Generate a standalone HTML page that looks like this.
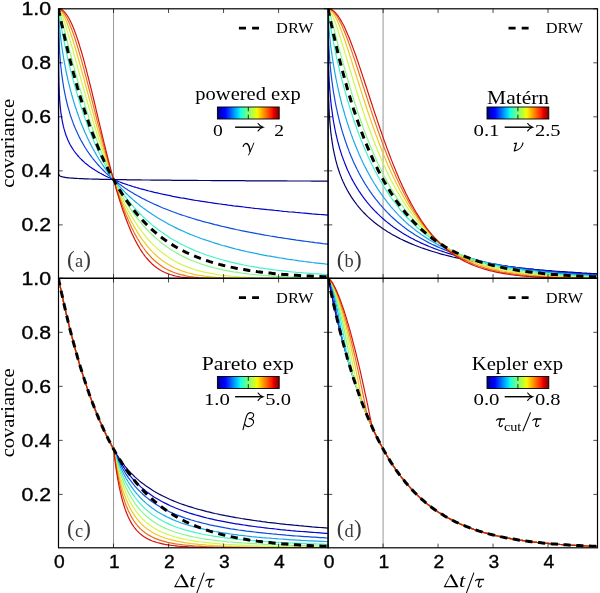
<!DOCTYPE html>
<html><head><meta charset="utf-8"><title>Covariance functions</title>
<style>html,body{margin:0;padding:0;background:#fff;}body{width:600px;height:593px;overflow:hidden;font-family:"Liberation Sans",sans-serif;}svg{display:block;will-change:transform;transform:translateZ(0);}</style>
</head><body>
<svg width="600" height="593" viewBox="0 0 600 593">
<rect width="600" height="593" fill="#fff"/>
<defs><linearGradient id="jet" x1="0" x2="1" y1="0" y2="0">
<stop offset="0.0000" stop-color="#000080"/>
<stop offset="0.0156" stop-color="#000092"/>
<stop offset="0.0312" stop-color="#0000a4"/>
<stop offset="0.0469" stop-color="#0000b6"/>
<stop offset="0.0625" stop-color="#0000c8"/>
<stop offset="0.0781" stop-color="#0000da"/>
<stop offset="0.0938" stop-color="#0000ed"/>
<stop offset="0.1094" stop-color="#0000ff"/>
<stop offset="0.1250" stop-color="#0000ff"/>
<stop offset="0.1406" stop-color="#0010ff"/>
<stop offset="0.1562" stop-color="#0020ff"/>
<stop offset="0.1719" stop-color="#0030ff"/>
<stop offset="0.1875" stop-color="#0040ff"/>
<stop offset="0.2031" stop-color="#0050ff"/>
<stop offset="0.2188" stop-color="#0060ff"/>
<stop offset="0.2344" stop-color="#0070ff"/>
<stop offset="0.2500" stop-color="#0080ff"/>
<stop offset="0.2656" stop-color="#0090ff"/>
<stop offset="0.2812" stop-color="#00a0ff"/>
<stop offset="0.2969" stop-color="#00b0ff"/>
<stop offset="0.3125" stop-color="#00c0ff"/>
<stop offset="0.3281" stop-color="#00d0ff"/>
<stop offset="0.3438" stop-color="#00e0fb"/>
<stop offset="0.3594" stop-color="#09f0ee"/>
<stop offset="0.3750" stop-color="#16ffe1"/>
<stop offset="0.3906" stop-color="#23ffd4"/>
<stop offset="0.4062" stop-color="#30ffc7"/>
<stop offset="0.4219" stop-color="#3cffba"/>
<stop offset="0.4375" stop-color="#49ffad"/>
<stop offset="0.4531" stop-color="#56ffa0"/>
<stop offset="0.4688" stop-color="#63ff94"/>
<stop offset="0.4844" stop-color="#70ff87"/>
<stop offset="0.5000" stop-color="#7dff7a"/>
<stop offset="0.5156" stop-color="#8aff6d"/>
<stop offset="0.5312" stop-color="#97ff60"/>
<stop offset="0.5469" stop-color="#a4ff53"/>
<stop offset="0.5625" stop-color="#b1ff46"/>
<stop offset="0.5781" stop-color="#beff39"/>
<stop offset="0.5938" stop-color="#caff2c"/>
<stop offset="0.6094" stop-color="#d7ff1f"/>
<stop offset="0.6250" stop-color="#e4ff13"/>
<stop offset="0.6406" stop-color="#f1fc06"/>
<stop offset="0.6562" stop-color="#feed00"/>
<stop offset="0.6719" stop-color="#ffde00"/>
<stop offset="0.6875" stop-color="#ffd000"/>
<stop offset="0.7031" stop-color="#ffc100"/>
<stop offset="0.7188" stop-color="#ffb200"/>
<stop offset="0.7344" stop-color="#ffa300"/>
<stop offset="0.7500" stop-color="#ff9400"/>
<stop offset="0.7656" stop-color="#ff8600"/>
<stop offset="0.7812" stop-color="#ff7700"/>
<stop offset="0.7969" stop-color="#ff6800"/>
<stop offset="0.8125" stop-color="#ff5900"/>
<stop offset="0.8281" stop-color="#ff4a00"/>
<stop offset="0.8438" stop-color="#ff3b00"/>
<stop offset="0.8594" stop-color="#ff2d00"/>
<stop offset="0.8750" stop-color="#ff1e00"/>
<stop offset="0.8906" stop-color="#fa0f00"/>
<stop offset="0.9062" stop-color="#e80000"/>
<stop offset="0.9219" stop-color="#d60000"/>
<stop offset="0.9375" stop-color="#c40000"/>
<stop offset="0.9531" stop-color="#b20000"/>
<stop offset="0.9688" stop-color="#9f0000"/>
<stop offset="0.9844" stop-color="#8d0000"/>
<stop offset="1.0000" stop-color="#800000"/>
</linearGradient>
<clipPath id="cpa"><rect x="58.50" y="8.80" width="269.60" height="269.50"/></clipPath>
<clipPath id="cpb"><rect x="328.10" y="8.80" width="269.40" height="269.50"/></clipPath>
<clipPath id="cpc"><rect x="58.50" y="278.30" width="269.60" height="269.50"/></clipPath>
<clipPath id="cpd"><rect x="328.10" y="278.30" width="269.40" height="269.50"/></clipPath>
</defs>
<g clip-path="url(#cpa)" fill="none" stroke-linejoin="round">
<line x1="113.52" x2="113.52" y1="8.80" y2="278.30" stroke="#858585" stroke-width="0.85"/>
<path d="M58.5,8.8 L58.6,173.6 L58.8,174.3 L58.9,174.7 L59.1,175.0 L59.2,175.2 L59.3,175.4 L59.5,175.5 L59.6,175.6 L59.7,175.8 L59.9,175.9 L60.0,176.0 L60.2,176.1 L60.3,176.1 L60.4,176.2 L60.6,176.3 L60.7,176.3 L60.8,176.4 L61.0,176.5 L61.1,176.5 L61.3,176.6 L61.4,176.6 L61.5,176.7 L61.7,176.7 L61.8,176.7 L62.9,177.0 L63.4,177.1 L63.9,177.2 L65.0,177.4 L66.0,177.6 L67.1,177.7 L68.1,177.8 L68.3,177.8 L69.2,177.9 L70.2,178.0 L71.3,178.1 L72.4,178.2 L73.2,178.2 L73.4,178.2 L74.5,178.3 L75.5,178.4 L76.6,178.4 L77.6,178.5 L78.1,178.5 L78.7,178.5 L79.7,178.6 L80.8,178.6 L81.9,178.7 L82.9,178.7 L83.0,178.7 L84.0,178.8 L85.0,178.8 L86.1,178.8 L87.1,178.9 L87.8,178.9 L88.2,178.9 L89.2,179.0 L90.3,179.0 L91.4,179.0 L92.4,179.1 L92.7,179.1 L93.5,179.1 L94.5,179.1 L95.6,179.1 L96.6,179.2 L97.6,179.2 L97.7,179.2 L98.7,179.2 L99.8,179.3 L100.9,179.3 L101.9,179.3 L102.5,179.3 L103.0,179.3 L104.0,179.3 L105.1,179.4 L106.1,179.4 L107.2,179.4 L108.2,179.4 L109.3,179.5 L110.4,179.5 L111.4,179.5 L112.5,179.5 L113.5,179.5 L114.7,179.6 L115.8,179.6 L116.9,179.6 L118.1,179.6 L119.2,179.6 L120.4,179.7 L121.5,179.7 L122.6,179.7 L123.8,179.7 L124.9,179.7 L126.0,179.7 L127.2,179.8 L128.3,179.8 L129.5,179.8 L130.6,179.8 L131.7,179.8 L132.9,179.8 L134.0,179.9 L135.1,179.9 L136.3,179.9 L137.4,179.9 L138.6,179.9 L139.7,179.9 L140.8,179.9 L142.0,180.0 L143.1,180.0 L144.3,180.0 L145.4,180.0 L146.5,180.0 L149.2,180.0 L151.8,180.1 L154.4,180.1 L157.1,180.1 L159.7,180.1 L162.3,180.2 L165.0,180.2 L167.6,180.2 L170.2,180.2 L172.8,180.3 L175.5,180.3 L178.1,180.3 L180.7,180.3 L183.4,180.4 L186.0,180.4 L188.6,180.4 L191.3,180.4 L193.9,180.4 L196.5,180.4 L199.2,180.5 L201.8,180.5 L204.4,180.5 L207.1,180.5 L209.7,180.5 L212.3,180.6 L214.9,180.6 L217.6,180.6 L220.2,180.6 L222.8,180.6 L225.5,180.6 L228.1,180.7 L230.7,180.7 L233.4,180.7 L236.0,180.7 L238.6,180.7 L241.3,180.7 L243.9,180.7 L246.5,180.8 L249.2,180.8 L251.8,180.8 L254.4,180.8 L257.1,180.8 L259.7,180.8 L262.3,180.8 L264.9,180.8 L267.6,180.9 L270.2,180.9 L272.8,180.9 L275.5,180.9 L278.1,180.9 L280.7,180.9 L283.4,180.9 L286.0,180.9 L288.6,181.0 L291.3,181.0 L293.9,181.0 L296.5,181.0 L299.2,181.0 L301.8,181.0 L304.4,181.0 L307.0,181.0 L309.7,181.0 L312.3,181.1 L314.9,181.1 L317.6,181.1 L320.2,181.1 L322.8,181.1 L325.5,181.1 L328.1,181.1" stroke="#03036b" stroke-width="1.2"/>
<path d="M58.5,8.8 L58.6,68.6 L58.8,77.6 L58.9,83.3 L59.1,87.6 L59.2,91.1 L59.3,94.0 L59.5,96.5 L59.6,98.7 L59.7,100.7 L59.9,102.6 L60.0,104.2 L60.2,105.8 L60.3,107.2 L60.4,108.5 L60.6,109.8 L60.7,111.0 L60.8,112.1 L61.0,113.2 L61.1,114.2 L61.3,115.1 L61.4,116.1 L61.5,117.0 L61.7,117.8 L61.8,118.6 L62.9,124.1 L63.4,126.4 L63.9,128.4 L65.0,132.1 L66.0,135.2 L67.1,138.0 L68.1,140.5 L68.3,140.8 L69.2,142.7 L70.2,144.8 L71.3,146.6 L72.4,148.4 L73.2,149.6 L73.4,150.0 L74.5,151.5 L75.5,152.9 L76.6,154.2 L77.6,155.5 L78.1,156.0 L78.7,156.7 L79.7,157.8 L80.8,158.9 L81.9,160.0 L82.9,161.0 L83.0,161.0 L84.0,161.9 L85.0,162.9 L86.1,163.7 L87.1,164.6 L87.8,165.1 L88.2,165.4 L89.2,166.2 L90.3,167.0 L91.4,167.7 L92.4,168.4 L92.7,168.7 L93.5,169.1 L94.5,169.8 L95.6,170.5 L96.6,171.1 L97.6,171.7 L97.7,171.8 L98.7,172.4 L99.8,173.0 L100.9,173.5 L101.9,174.1 L102.5,174.4 L103.0,174.6 L104.0,175.2 L105.1,175.7 L106.1,176.2 L107.2,176.7 L108.2,177.2 L109.3,177.7 L110.4,178.2 L111.4,178.6 L112.5,179.1 L113.5,179.5 L114.7,180.0 L115.8,180.5 L116.9,180.9 L118.1,181.4 L119.2,181.8 L120.4,182.2 L121.5,182.6 L122.6,183.1 L123.8,183.5 L124.9,183.9 L126.0,184.2 L127.2,184.6 L128.3,185.0 L129.5,185.4 L130.6,185.7 L131.7,186.1 L132.9,186.5 L134.0,186.8 L135.1,187.1 L136.3,187.5 L137.4,187.8 L138.6,188.1 L139.7,188.5 L140.8,188.8 L142.0,189.1 L143.1,189.4 L144.3,189.7 L145.4,190.0 L146.5,190.3 L149.2,191.0 L151.8,191.6 L154.4,192.3 L157.1,192.9 L159.7,193.5 L162.3,194.1 L165.0,194.6 L167.6,195.2 L170.2,195.7 L172.8,196.3 L175.5,196.8 L178.1,197.3 L180.7,197.8 L183.4,198.2 L186.0,198.7 L188.6,199.2 L191.3,199.6 L193.9,200.1 L196.5,200.5 L199.2,200.9 L201.8,201.3 L204.4,201.7 L207.1,202.1 L209.7,202.5 L212.3,202.9 L214.9,203.3 L217.6,203.7 L220.2,204.0 L222.8,204.4 L225.5,204.7 L228.1,205.1 L230.7,205.4 L233.4,205.8 L236.0,206.1 L238.6,206.4 L241.3,206.7 L243.9,207.0 L246.5,207.4 L249.2,207.7 L251.8,208.0 L254.4,208.3 L257.1,208.5 L259.7,208.8 L262.3,209.1 L264.9,209.4 L267.6,209.7 L270.2,209.9 L272.8,210.2 L275.5,210.5 L278.1,210.7 L280.7,211.0 L283.4,211.3 L286.0,211.5 L288.6,211.8 L291.3,212.0 L293.9,212.2 L296.5,212.5 L299.2,212.7 L301.8,213.0 L304.4,213.2 L307.0,213.4 L309.7,213.6 L312.3,213.9 L314.9,214.1 L317.6,214.3 L320.2,214.5 L322.8,214.7 L325.5,214.9 L328.1,215.1" stroke="#0505cb" stroke-width="1.2"/>
<path d="M58.5,8.8 L58.6,26.2 L58.8,32.3 L58.9,36.8 L59.1,40.4 L59.2,43.6 L59.3,46.4 L59.5,48.8 L59.6,51.1 L59.7,53.3 L59.9,55.2 L60.0,57.1 L60.2,58.8 L60.3,60.5 L60.4,62.0 L60.6,63.6 L60.7,65.0 L60.8,66.4 L61.0,67.7 L61.1,69.0 L61.3,70.2 L61.4,71.4 L61.5,72.6 L61.7,73.7 L61.8,74.8 L62.9,82.3 L63.4,85.6 L63.9,88.6 L65.0,94.1 L66.0,99.0 L67.1,103.5 L68.1,107.5 L68.3,108.0 L69.2,111.2 L70.2,114.7 L71.3,117.9 L72.4,120.9 L73.2,123.1 L73.4,123.7 L74.5,126.4 L75.5,128.9 L76.6,131.3 L77.6,133.6 L78.1,134.5 L78.7,135.8 L79.7,137.9 L80.8,140.0 L81.9,141.9 L82.9,143.8 L83.0,143.8 L84.0,145.6 L85.0,147.3 L86.1,149.0 L87.1,150.6 L87.8,151.6 L88.2,152.1 L89.2,153.7 L90.3,155.1 L91.4,156.6 L92.4,158.0 L92.7,158.4 L93.5,159.3 L94.5,160.6 L95.6,161.9 L96.6,163.1 L97.6,164.3 L97.7,164.3 L98.7,165.5 L99.8,166.7 L100.9,167.8 L101.9,168.9 L102.5,169.5 L103.0,170.0 L104.0,171.0 L105.1,172.1 L106.1,173.1 L107.2,174.0 L108.2,175.0 L109.3,175.9 L110.4,176.9 L111.4,177.8 L112.5,178.7 L113.5,179.5 L114.7,180.5 L115.8,181.4 L116.9,182.2 L118.1,183.1 L119.2,184.0 L120.4,184.8 L121.5,185.6 L122.6,186.4 L123.8,187.2 L124.9,188.0 L126.0,188.7 L127.2,189.5 L128.3,190.2 L129.5,190.9 L130.6,191.7 L131.7,192.3 L132.9,193.0 L134.0,193.7 L135.1,194.4 L136.3,195.0 L137.4,195.7 L138.6,196.3 L139.7,196.9 L140.8,197.5 L142.0,198.2 L143.1,198.7 L144.3,199.3 L145.4,199.9 L146.5,200.5 L149.2,201.8 L151.8,203.0 L154.4,204.2 L157.1,205.4 L159.7,206.5 L162.3,207.7 L165.0,208.7 L167.6,209.8 L170.2,210.8 L172.8,211.8 L175.5,212.7 L178.1,213.7 L180.7,214.6 L183.4,215.5 L186.0,216.3 L188.6,217.2 L191.3,218.0 L193.9,218.8 L196.5,219.6 L199.2,220.3 L201.8,221.1 L204.4,221.8 L207.1,222.5 L209.7,223.2 L212.3,223.9 L214.9,224.6 L217.6,225.2 L220.2,225.9 L222.8,226.5 L225.5,227.1 L228.1,227.7 L230.7,228.3 L233.4,228.9 L236.0,229.5 L238.6,230.0 L241.3,230.6 L243.9,231.1 L246.5,231.6 L249.2,232.2 L251.8,232.7 L254.4,233.2 L257.1,233.7 L259.7,234.1 L262.3,234.6 L264.9,235.1 L267.6,235.5 L270.2,236.0 L272.8,236.4 L275.5,236.8 L278.1,237.3 L280.7,237.7 L283.4,238.1 L286.0,238.5 L288.6,238.9 L291.3,239.3 L293.9,239.7 L296.5,240.1 L299.2,240.4 L301.8,240.8 L304.4,241.2 L307.0,241.5 L309.7,241.9 L312.3,242.2 L314.9,242.6 L317.6,242.9 L320.2,243.2 L322.8,243.6 L325.5,243.9 L328.1,244.2" stroke="#0d4cde" stroke-width="1.2"/>
<path d="M58.5,8.8 L58.6,13.5 L58.8,16.3 L58.9,18.6 L59.1,20.7 L59.2,22.6 L59.3,24.3 L59.5,26.0 L59.6,27.5 L59.7,29.0 L59.9,30.4 L60.0,31.8 L60.2,33.1 L60.3,34.4 L60.4,35.6 L60.6,36.8 L60.7,38.0 L60.8,39.2 L61.0,40.3 L61.1,41.4 L61.3,42.4 L61.4,43.5 L61.5,44.5 L61.7,45.5 L61.8,46.5 L62.9,53.6 L63.4,56.9 L63.9,59.9 L65.0,65.7 L66.0,71.0 L67.1,76.0 L68.1,80.7 L68.3,81.3 L69.2,85.1 L70.2,89.2 L71.3,93.2 L72.4,97.0 L73.2,99.8 L73.4,100.6 L74.5,104.0 L75.5,107.3 L76.6,110.5 L77.6,113.6 L78.1,114.8 L78.7,116.6 L79.7,119.4 L80.8,122.2 L81.9,124.9 L82.9,127.5 L83.0,127.6 L84.0,130.0 L85.0,132.4 L86.1,134.8 L87.1,137.1 L87.8,138.6 L88.2,139.3 L89.2,141.5 L90.3,143.6 L91.4,145.7 L92.4,147.7 L92.7,148.3 L93.5,149.6 L94.5,151.5 L95.6,153.4 L96.6,155.2 L97.6,156.9 L97.7,157.0 L98.7,158.8 L99.8,160.5 L100.9,162.1 L101.9,163.7 L102.5,164.7 L103.0,165.3 L104.0,166.9 L105.1,168.4 L106.1,169.9 L107.2,171.4 L108.2,172.8 L109.3,174.2 L110.4,175.6 L111.4,176.9 L112.5,178.2 L113.5,179.5 L114.7,180.9 L115.8,182.2 L116.9,183.6 L118.1,184.9 L119.2,186.1 L120.4,187.4 L121.5,188.6 L122.6,189.8 L123.8,190.9 L124.9,192.1 L126.0,193.2 L127.2,194.3 L128.3,195.4 L129.5,196.5 L130.6,197.5 L131.7,198.5 L132.9,199.6 L134.0,200.5 L135.1,201.5 L136.3,202.5 L137.4,203.4 L138.6,204.4 L139.7,205.3 L140.8,206.2 L142.0,207.0 L143.1,207.9 L144.3,208.8 L145.4,209.6 L146.5,210.4 L149.2,212.3 L151.8,214.1 L154.4,215.8 L157.1,217.5 L159.7,219.1 L162.3,220.6 L165.0,222.1 L167.6,223.6 L170.2,225.0 L172.8,226.3 L175.5,227.6 L178.1,228.9 L180.7,230.1 L183.4,231.3 L186.0,232.5 L188.6,233.6 L191.3,234.7 L193.9,235.7 L196.5,236.8 L199.2,237.7 L201.8,238.7 L204.4,239.6 L207.1,240.5 L209.7,241.4 L212.3,242.3 L214.9,243.1 L217.6,243.9 L220.2,244.7 L222.8,245.5 L225.5,246.2 L228.1,246.9 L230.7,247.6 L233.4,248.3 L236.0,249.0 L238.6,249.6 L241.3,250.3 L243.9,250.9 L246.5,251.5 L249.2,252.1 L251.8,252.6 L254.4,253.2 L257.1,253.7 L259.7,254.3 L262.3,254.8 L264.9,255.3 L267.6,255.8 L270.2,256.2 L272.8,256.7 L275.5,257.1 L278.1,257.6 L280.7,258.0 L283.4,258.4 L286.0,258.9 L288.6,259.3 L291.3,259.6 L293.9,260.0 L296.5,260.4 L299.2,260.8 L301.8,261.1 L304.4,261.5 L307.0,261.8 L309.7,262.1 L312.3,262.5 L314.9,262.8 L317.6,263.1 L320.2,263.4 L322.8,263.7 L325.5,264.0 L328.1,264.3" stroke="#18a9e9" stroke-width="1.2"/>
<path d="M58.5,8.8 L58.6,10.1 L58.8,11.2 L58.9,12.2 L59.1,13.2 L59.2,14.1 L59.3,15.0 L59.5,15.9 L59.6,16.8 L59.7,17.7 L59.9,18.6 L60.0,19.4 L60.2,20.3 L60.3,21.1 L60.4,21.9 L60.6,22.8 L60.7,23.6 L60.8,24.4 L61.0,25.1 L61.1,25.9 L61.3,26.7 L61.4,27.5 L61.5,28.2 L61.7,29.0 L61.8,29.8 L62.9,35.4 L63.4,38.1 L63.9,40.7 L65.0,45.8 L66.0,50.7 L67.1,55.5 L68.1,60.1 L68.3,60.7 L69.2,64.5 L70.2,68.8 L71.3,73.0 L72.4,77.1 L73.2,80.1 L73.4,81.0 L74.5,84.9 L75.5,88.6 L76.6,92.2 L77.6,95.8 L78.1,97.2 L78.7,99.3 L79.7,102.7 L80.8,106.0 L81.9,109.2 L82.9,112.3 L83.0,112.5 L84.0,115.4 L85.0,118.4 L86.1,121.4 L87.1,124.2 L87.8,126.1 L88.2,127.1 L89.2,129.8 L90.3,132.5 L91.4,135.1 L92.4,137.7 L92.7,138.5 L93.5,140.2 L94.5,142.7 L95.6,145.1 L96.6,147.5 L97.6,149.7 L97.7,149.8 L98.7,152.1 L99.8,154.3 L100.9,156.5 L101.9,158.6 L102.5,159.8 L103.0,160.7 L104.0,162.8 L105.1,164.8 L106.1,166.8 L107.2,168.7 L108.2,170.6 L109.3,172.4 L110.4,174.3 L111.4,176.1 L112.5,177.8 L113.5,179.5 L114.7,181.4 L115.8,183.1 L116.9,184.9 L118.1,186.6 L119.2,188.3 L120.4,189.9 L121.5,191.5 L122.6,193.1 L123.8,194.7 L124.9,196.2 L126.0,197.7 L127.2,199.1 L128.3,200.5 L129.5,201.9 L130.6,203.3 L131.7,204.7 L132.9,206.0 L134.0,207.3 L135.1,208.5 L136.3,209.8 L137.4,211.0 L138.6,212.2 L139.7,213.4 L140.8,214.5 L142.0,215.7 L143.1,216.8 L144.3,217.9 L145.4,218.9 L146.5,220.0 L149.2,222.3 L151.8,224.6 L154.4,226.7 L157.1,228.8 L159.7,230.8 L162.3,232.6 L165.0,234.5 L167.6,236.2 L170.2,237.9 L172.8,239.5 L175.5,241.0 L178.1,242.4 L180.7,243.9 L183.4,245.2 L186.0,246.5 L188.6,247.7 L191.3,248.9 L193.9,250.1 L196.5,251.2 L199.2,252.2 L201.8,253.2 L204.4,254.2 L207.1,255.2 L209.7,256.0 L212.3,256.9 L214.9,257.7 L217.6,258.5 L220.2,259.3 L222.8,260.0 L225.5,260.7 L228.1,261.4 L230.7,262.1 L233.4,262.7 L236.0,263.3 L238.6,263.9 L241.3,264.4 L243.9,265.0 L246.5,265.5 L249.2,266.0 L251.8,266.4 L254.4,266.9 L257.1,267.3 L259.7,267.8 L262.3,268.2 L264.9,268.6 L267.6,268.9 L270.2,269.3 L272.8,269.7 L275.5,270.0 L278.1,270.3 L280.7,270.6 L283.4,270.9 L286.0,271.2 L288.6,271.5 L291.3,271.8 L293.9,272.0 L296.5,272.3 L299.2,272.5 L301.8,272.7 L304.4,273.0 L307.0,273.2 L309.7,273.4 L312.3,273.6 L314.9,273.8 L317.6,273.9 L320.2,274.1 L322.8,274.3 L325.5,274.5 L328.1,274.6" stroke="#43f2ca" stroke-width="1.2"/>
<path d="M58.5,8.8 L58.6,9.1 L58.8,9.5 L58.9,9.9 L59.1,10.4 L59.2,10.8 L59.3,11.3 L59.5,11.7 L59.6,12.2 L59.7,12.7 L59.9,13.2 L60.0,13.7 L60.2,14.1 L60.3,14.6 L60.4,15.1 L60.6,15.6 L60.7,16.1 L60.8,16.7 L61.0,17.2 L61.1,17.7 L61.3,18.2 L61.4,18.7 L61.5,19.2 L61.7,19.7 L61.8,20.3 L62.9,24.3 L63.4,26.4 L63.9,28.4 L65.0,32.5 L66.0,36.6 L67.1,40.7 L68.1,44.8 L68.3,45.4 L69.2,48.9 L70.2,53.0 L71.3,57.0 L72.4,61.0 L73.2,64.1 L73.4,65.0 L74.5,68.9 L75.5,72.7 L76.6,76.6 L77.6,80.4 L78.1,81.9 L78.7,84.1 L79.7,87.8 L80.8,91.4 L81.9,95.0 L82.9,98.6 L83.0,98.7 L84.0,102.0 L85.0,105.5 L86.1,108.9 L87.1,112.2 L87.8,114.4 L88.2,115.5 L89.2,118.7 L90.3,121.9 L91.4,125.0 L92.4,128.1 L92.7,129.0 L93.5,131.1 L94.5,134.1 L95.6,137.0 L96.6,139.9 L97.6,142.6 L97.7,142.7 L98.7,145.5 L99.8,148.2 L100.9,150.9 L101.9,153.5 L102.5,155.0 L103.0,156.1 L104.0,158.7 L105.1,161.2 L106.1,163.6 L107.2,166.0 L108.2,168.4 L109.3,170.7 L110.4,173.0 L111.4,175.2 L112.5,177.4 L113.5,179.5 L114.7,181.8 L115.8,184.0 L116.9,186.2 L118.1,188.3 L119.2,190.4 L120.4,192.5 L121.5,194.5 L122.6,196.4 L123.8,198.3 L124.9,200.2 L126.0,202.1 L127.2,203.9 L128.3,205.6 L129.5,207.3 L130.6,209.0 L131.7,210.7 L132.9,212.3 L134.0,213.8 L135.1,215.4 L136.3,216.9 L137.4,218.4 L138.6,219.8 L139.7,221.2 L140.8,222.6 L142.0,223.9 L143.1,225.3 L144.3,226.5 L145.4,227.8 L146.5,229.0 L149.2,231.8 L151.8,234.4 L154.4,236.8 L157.1,239.1 L159.7,241.4 L162.3,243.4 L165.0,245.4 L167.6,247.3 L170.2,249.1 L172.8,250.8 L175.5,252.3 L178.1,253.9 L180.7,255.3 L183.4,256.6 L186.0,257.9 L188.6,259.1 L191.3,260.2 L193.9,261.3 L196.5,262.3 L199.2,263.3 L201.8,264.2 L204.4,265.0 L207.1,265.8 L209.7,266.6 L212.3,267.3 L214.9,268.0 L217.6,268.6 L220.2,269.2 L222.8,269.8 L225.5,270.3 L228.1,270.8 L230.7,271.3 L233.4,271.8 L236.0,272.2 L238.6,272.6 L241.3,273.0 L243.9,273.3 L246.5,273.6 L249.2,274.0 L251.8,274.3 L254.4,274.5 L257.1,274.8 L259.7,275.0 L262.3,275.3 L264.9,275.5 L267.6,275.7 L270.2,275.9 L272.8,276.1 L275.5,276.2 L278.1,276.4 L280.7,276.6 L283.4,276.7 L286.0,276.8 L288.6,277.0 L291.3,277.1 L293.9,277.2 L296.5,277.3 L299.2,277.4 L301.8,277.5 L304.4,277.6 L307.0,277.7 L309.7,277.7 L312.3,277.8 L314.9,277.9 L317.6,277.9 L320.2,278.0 L322.8,278.0 L325.5,278.1 L328.1,278.2" stroke="#8bf588" stroke-width="1.2"/>
<path d="M58.5,8.8 L58.6,8.9 L58.8,9.0 L58.9,9.2 L59.1,9.4 L59.2,9.6 L59.3,9.8 L59.5,10.0 L59.6,10.2 L59.7,10.5 L59.9,10.7 L60.0,11.0 L60.2,11.3 L60.3,11.6 L60.4,11.8 L60.6,12.1 L60.7,12.4 L60.8,12.7 L61.0,13.0 L61.1,13.4 L61.3,13.7 L61.4,14.0 L61.5,14.3 L61.7,14.7 L61.8,15.0 L62.9,17.8 L63.4,19.2 L63.9,20.7 L65.0,23.8 L66.0,27.1 L67.1,30.4 L68.1,33.9 L68.3,34.4 L69.2,37.4 L70.2,41.0 L71.3,44.6 L72.4,48.3 L73.2,51.2 L73.4,52.1 L74.5,55.8 L75.5,59.6 L76.6,63.4 L77.6,67.2 L78.1,68.8 L78.7,71.0 L79.7,74.8 L80.8,78.6 L81.9,82.4 L82.9,86.2 L83.0,86.3 L84.0,89.9 L85.0,93.6 L86.1,97.3 L87.1,101.0 L87.8,103.5 L88.2,104.7 L89.2,108.3 L90.3,111.9 L91.4,115.4 L92.4,118.9 L92.7,120.0 L93.5,122.4 L94.5,125.8 L95.6,129.2 L96.6,132.5 L97.6,135.6 L97.7,135.8 L98.7,139.1 L99.8,142.3 L100.9,145.4 L101.9,148.5 L102.5,150.3 L103.0,151.6 L104.0,154.6 L105.1,157.6 L106.1,160.5 L107.2,163.4 L108.2,166.2 L109.3,169.0 L110.4,171.7 L111.4,174.3 L112.5,177.0 L113.5,179.5 L114.7,182.3 L115.8,184.9 L116.9,187.5 L118.1,190.1 L119.2,192.6 L120.4,195.0 L121.5,197.4 L122.6,199.7 L123.8,202.0 L124.9,204.2 L126.0,206.4 L127.2,208.5 L128.3,210.6 L129.5,212.6 L130.6,214.6 L131.7,216.5 L132.9,218.4 L134.0,220.2 L135.1,222.0 L136.3,223.7 L137.4,225.4 L138.6,227.1 L139.7,228.7 L140.8,230.2 L142.0,231.8 L143.1,233.2 L144.3,234.7 L145.4,236.1 L146.5,237.5 L149.2,240.5 L151.8,243.3 L154.4,245.9 L157.1,248.4 L159.7,250.7 L162.3,252.8 L165.0,254.8 L167.6,256.6 L170.2,258.4 L172.8,260.0 L175.5,261.5 L178.1,262.9 L180.7,264.1 L183.4,265.3 L186.0,266.4 L188.6,267.4 L191.3,268.4 L193.9,269.3 L196.5,270.1 L199.2,270.8 L201.8,271.5 L204.4,272.1 L207.1,272.7 L209.7,273.2 L212.3,273.7 L214.9,274.2 L217.6,274.6 L220.2,275.0 L222.8,275.3 L225.5,275.6 L228.1,275.9 L230.7,276.2 L233.4,276.4 L236.0,276.6 L238.6,276.8 L241.3,277.0 L243.9,277.2 L246.5,277.4 L249.2,277.5 L251.8,277.6 L254.4,277.8 L257.1,277.9 L259.7,278.0 L262.3,278.0 L264.9,278.1 L267.6,278.2 L270.2,278.3 L272.8,278.3 L275.5,278.4 L278.1,278.4 L280.7,278.5 L283.4,278.5 L286.0,278.6 L288.6,278.6 L291.3,278.6 L293.9,278.6 L296.5,278.7 L299.2,278.7 L301.8,278.7 L304.4,278.7 L307.0,278.8 L309.7,278.8 L312.3,278.8 L314.9,278.8 L317.6,278.8 L320.2,278.8 L322.8,278.8 L325.5,278.8 L328.1,278.8" stroke="#cff849" stroke-width="1.2"/>
<path d="M58.5,8.8 L58.6,8.8 L58.8,8.9 L58.9,8.9 L59.1,9.0 L59.2,9.1 L59.3,9.2 L59.5,9.3 L59.6,9.4 L59.7,9.5 L59.9,9.7 L60.0,9.8 L60.2,9.9 L60.3,10.1 L60.4,10.3 L60.6,10.4 L60.7,10.6 L60.8,10.8 L61.0,10.9 L61.1,11.1 L61.3,11.3 L61.4,11.5 L61.5,11.7 L61.7,11.9 L61.8,12.2 L62.9,13.9 L63.4,15.0 L63.9,16.0 L65.0,18.3 L66.0,20.7 L67.1,23.3 L68.1,26.1 L68.3,26.5 L69.2,29.0 L70.2,32.1 L71.3,35.3 L72.4,38.6 L73.2,41.2 L73.4,41.9 L74.5,45.4 L75.5,48.9 L76.6,52.5 L77.6,56.2 L78.1,57.7 L78.7,59.9 L79.7,63.7 L80.8,67.5 L81.9,71.3 L82.9,75.2 L83.0,75.3 L84.0,79.0 L85.0,82.9 L86.1,86.8 L87.1,90.7 L87.8,93.4 L88.2,94.6 L89.2,98.5 L90.3,102.4 L91.4,106.3 L92.4,110.2 L92.7,111.4 L93.5,114.0 L94.5,117.8 L95.6,121.6 L96.6,125.4 L97.6,128.9 L97.7,129.1 L98.7,132.8 L99.8,136.4 L100.9,140.0 L101.9,143.6 L102.5,145.6 L103.0,147.1 L104.0,150.6 L105.1,154.0 L106.1,157.4 L107.2,160.7 L108.2,164.0 L109.3,167.2 L110.4,170.4 L111.4,173.5 L112.5,176.5 L113.5,179.5 L114.7,182.7 L115.8,185.8 L116.9,188.8 L118.1,191.8 L119.2,194.7 L120.4,197.5 L121.5,200.3 L122.6,203.0 L123.8,205.6 L124.9,208.2 L126.0,210.7 L127.2,213.1 L128.3,215.5 L129.5,217.8 L130.6,220.0 L131.7,222.2 L132.9,224.3 L134.0,226.4 L135.1,228.4 L136.3,230.3 L137.4,232.2 L138.6,234.0 L139.7,235.7 L140.8,237.4 L142.0,239.1 L143.1,240.7 L144.3,242.2 L145.4,243.7 L146.5,245.1 L149.2,248.3 L151.8,251.2 L154.4,253.8 L157.1,256.3 L159.7,258.5 L162.3,260.5 L165.0,262.4 L167.6,264.1 L170.2,265.6 L172.8,267.0 L175.5,268.3 L178.1,269.4 L180.7,270.5 L183.4,271.4 L186.0,272.2 L188.6,273.0 L191.3,273.7 L193.9,274.3 L196.5,274.8 L199.2,275.3 L201.8,275.7 L204.4,276.1 L207.1,276.4 L209.7,276.7 L212.3,277.0 L214.9,277.2 L217.6,277.5 L220.2,277.6 L222.8,277.8 L225.5,277.9 L228.1,278.1 L230.7,278.2 L233.4,278.3 L236.0,278.4 L238.6,278.4 L241.3,278.5 L243.9,278.5 L246.5,278.6 L249.2,278.6 L251.8,278.7 L254.4,278.7 L257.1,278.7 L259.7,278.8 L262.3,278.8 L264.9,278.8 L267.6,278.8 L270.2,278.8 L272.8,278.8 L275.5,278.8 L278.1,278.9 L280.7,278.9 L283.4,278.9 L286.0,278.9 L288.6,278.9 L291.3,278.9 L293.9,278.9 L296.5,278.9 L299.2,278.9 L301.8,278.9 L304.4,278.9 L307.0,278.9 L309.7,278.9 L312.3,278.9 L314.9,278.9 L317.6,278.9 L320.2,278.9 L322.8,278.9 L325.5,278.9 L328.1,278.9" stroke="#f4c422" stroke-width="1.2"/>
<path d="M58.5,8.8 L58.6,8.8 L58.8,8.8 L58.9,8.8 L59.1,8.9 L59.2,8.9 L59.3,9.0 L59.5,9.0 L59.6,9.1 L59.7,9.1 L59.9,9.2 L60.0,9.3 L60.2,9.3 L60.3,9.4 L60.4,9.5 L60.6,9.6 L60.7,9.7 L60.8,9.8 L61.0,9.9 L61.1,10.0 L61.3,10.1 L61.4,10.2 L61.5,10.3 L61.7,10.5 L61.8,10.6 L62.9,11.8 L63.4,12.4 L63.9,13.1 L65.0,14.7 L66.0,16.5 L67.1,18.5 L68.1,20.7 L68.3,21.0 L69.2,23.1 L70.2,25.6 L71.3,28.2 L72.4,31.1 L73.2,33.3 L73.4,34.0 L74.5,37.1 L75.5,40.3 L76.6,43.6 L77.6,47.1 L78.1,48.5 L78.7,50.6 L79.7,54.2 L80.8,57.9 L81.9,61.7 L82.9,65.5 L83.0,65.6 L84.0,69.4 L85.0,73.3 L86.1,77.3 L87.1,81.4 L87.8,84.1 L88.2,85.4 L89.2,89.5 L90.3,93.7 L91.4,97.8 L92.4,101.9 L92.7,103.2 L93.5,106.1 L94.5,110.2 L95.6,114.3 L96.6,118.5 L97.6,122.3 L97.7,122.6 L98.7,126.7 L99.8,130.7 L100.9,134.7 L101.9,138.7 L102.5,141.0 L103.0,142.7 L104.0,146.6 L105.1,150.5 L106.1,154.3 L107.2,158.1 L108.2,161.8 L109.3,165.5 L110.4,169.1 L111.4,172.6 L112.5,176.1 L113.5,179.5 L114.7,183.2 L115.8,186.7 L116.9,190.2 L118.1,193.5 L119.2,196.8 L120.4,200.1 L121.5,203.2 L122.6,206.3 L123.8,209.2 L124.9,212.1 L126.0,214.9 L127.2,217.6 L128.3,220.3 L129.5,222.8 L130.6,225.3 L131.7,227.7 L132.9,230.0 L134.0,232.3 L135.1,234.4 L136.3,236.5 L137.4,238.5 L138.6,240.4 L139.7,242.3 L140.8,244.1 L142.0,245.8 L143.1,247.5 L144.3,249.0 L145.4,250.6 L146.5,252.0 L149.2,255.2 L151.8,258.0 L154.4,260.5 L157.1,262.8 L159.7,264.8 L162.3,266.7 L165.0,268.3 L167.6,269.7 L170.2,270.9 L172.8,272.0 L175.5,273.0 L178.1,273.9 L180.7,274.6 L183.4,275.2 L186.0,275.8 L188.6,276.3 L191.3,276.7 L193.9,277.0 L196.5,277.3 L199.2,277.6 L201.8,277.8 L204.4,278.0 L207.1,278.1 L209.7,278.3 L212.3,278.4 L214.9,278.5 L217.6,278.5 L220.2,278.6 L222.8,278.7 L225.5,278.7 L228.1,278.7 L230.7,278.8 L233.4,278.8 L236.0,278.8 L238.6,278.8 L241.3,278.8 L243.9,278.9 L246.5,278.9 L249.2,278.9 L251.8,278.9 L254.4,278.9 L257.1,278.9 L259.7,278.9 L262.3,278.9 L264.9,278.9 L267.6,278.9 L270.2,278.9 L272.8,278.9 L275.5,278.9 L278.1,278.9 L280.7,278.9 L283.4,278.9 L286.0,278.9 L288.6,278.9 L291.3,278.9 L293.9,278.9 L296.5,278.9 L299.2,278.9 L301.8,278.9 L304.4,278.9 L307.0,278.9 L309.7,278.9 L312.3,278.9 L314.9,278.9 L317.6,278.9 L320.2,278.9 L322.8,278.9 L325.5,278.9 L328.1,278.9" stroke="#ea6e19" stroke-width="1.2"/>
<path d="M58.5,8.8 L58.6,8.8 L58.8,8.8 L58.9,8.8 L59.1,8.8 L59.2,8.8 L59.3,8.9 L59.5,8.9 L59.6,8.9 L59.7,8.9 L59.9,9.0 L60.0,9.0 L60.2,9.0 L60.3,9.1 L60.4,9.1 L60.6,9.2 L60.7,9.2 L60.8,9.3 L61.0,9.3 L61.1,9.4 L61.3,9.5 L61.4,9.5 L61.5,9.6 L61.7,9.7 L61.8,9.8 L62.9,10.5 L63.4,10.9 L63.9,11.4 L65.0,12.5 L66.0,13.8 L67.1,15.3 L68.1,17.0 L68.3,17.2 L69.2,18.8 L70.2,20.8 L71.3,23.0 L72.4,25.4 L73.2,27.3 L73.4,27.9 L74.5,30.6 L75.5,33.5 L76.6,36.4 L77.6,39.6 L78.1,40.9 L78.7,42.8 L79.7,46.2 L80.8,49.7 L81.9,53.3 L82.9,57.1 L83.0,57.2 L84.0,60.9 L85.0,64.8 L86.1,68.8 L87.1,72.9 L87.8,75.7 L88.2,77.0 L89.2,81.2 L90.3,85.5 L91.4,89.8 L92.4,94.2 L92.7,95.5 L93.5,98.5 L94.5,103.0 L95.6,107.4 L96.6,111.8 L97.6,116.0 L97.7,116.3 L98.7,120.7 L99.8,125.1 L100.9,129.6 L101.9,134.0 L102.5,136.5 L103.0,138.3 L104.0,142.7 L105.1,147.0 L106.1,151.2 L107.2,155.5 L108.2,159.6 L109.3,163.7 L110.4,167.8 L111.4,171.8 L112.5,175.7 L113.5,179.5 L114.7,183.6 L115.8,187.6 L116.9,191.5 L118.1,195.3 L119.2,199.0 L120.4,202.6 L121.5,206.1 L122.6,209.5 L123.8,212.8 L124.9,216.0 L126.0,219.1 L127.2,222.0 L128.3,224.9 L129.5,227.7 L130.6,230.4 L131.7,233.0 L132.9,235.4 L134.0,237.8 L135.1,240.1 L136.3,242.3 L137.4,244.4 L138.6,246.4 L139.7,248.3 L140.8,250.1 L142.0,251.9 L143.1,253.5 L144.3,255.1 L145.4,256.6 L146.5,258.0 L149.2,261.0 L151.8,263.7 L154.4,266.0 L157.1,268.0 L159.7,269.7 L162.3,271.2 L165.0,272.5 L167.6,273.6 L170.2,274.5 L172.8,275.3 L175.5,276.0 L178.1,276.5 L180.7,277.0 L183.4,277.3 L186.0,277.6 L188.6,277.9 L191.3,278.1 L193.9,278.3 L196.5,278.4 L199.2,278.5 L201.8,278.6 L204.4,278.7 L207.1,278.7 L209.7,278.8 L212.3,278.8 L214.9,278.8 L217.6,278.8 L220.2,278.9 L222.8,278.9 L225.5,278.9 L228.1,278.9 L230.7,278.9 L233.4,278.9 L236.0,278.9 L238.6,278.9 L241.3,278.9 L243.9,278.9 L246.5,278.9 L249.2,278.9 L251.8,278.9 L254.4,278.9 L257.1,278.9 L259.7,278.9 L262.3,278.9 L264.9,278.9 L267.6,278.9 L270.2,278.9 L272.8,278.9 L275.5,278.9 L278.1,278.9 L280.7,278.9 L283.4,278.9 L286.0,278.9 L288.6,278.9 L291.3,278.9 L293.9,278.9 L296.5,278.9 L299.2,278.9 L301.8,278.9 L304.4,278.9 L307.0,278.9 L309.7,278.9 L312.3,278.9 L314.9,278.9 L317.6,278.9 L320.2,278.9 L322.8,278.9 L325.5,278.9 L328.1,278.9" stroke="#d4140e" stroke-width="1.2"/>
<path d="M58.5,8.8 L58.6,9.5 L58.8,10.1 L58.9,10.8 L59.1,11.5 L59.2,12.2 L59.3,12.8 L59.5,13.5 L59.6,14.1 L59.7,14.8 L59.9,15.5 L60.0,16.1 L60.2,16.8 L60.3,17.4 L60.4,18.1 L60.6,18.7 L60.7,19.4 L60.8,20.0 L61.0,20.7 L61.1,21.3 L61.3,22.0 L61.4,22.6 L61.5,23.3 L61.7,23.9 L61.8,24.5 L62.9,29.4 L63.4,31.8 L63.9,34.1 L65.0,38.8 L66.0,43.3 L67.1,47.8 L68.1,52.2 L68.3,52.8 L69.2,56.5 L70.2,60.7 L71.3,64.9 L72.4,68.9 L73.2,72.0 L73.4,72.9 L74.5,76.8 L75.5,80.7 L76.6,84.4 L77.6,88.1 L78.1,89.6 L78.7,91.8 L79.7,95.3 L80.8,98.8 L81.9,102.2 L82.9,105.6 L83.0,105.7 L84.0,108.9 L85.0,112.1 L86.1,115.3 L87.1,118.4 L87.8,120.4 L88.2,121.4 L89.2,124.4 L90.3,127.4 L91.4,130.2 L92.4,133.1 L92.7,133.9 L93.5,135.8 L94.5,138.6 L95.6,141.2 L96.6,143.8 L97.6,146.3 L97.7,146.4 L98.7,148.9 L99.8,151.4 L100.9,153.8 L101.9,156.2 L102.5,157.5 L103.0,158.5 L104.0,160.8 L105.1,163.1 L106.1,165.3 L107.2,167.4 L108.2,169.5 L109.3,171.6 L110.4,173.6 L111.4,175.6 L112.5,177.6 L113.5,179.5 L114.7,181.6 L115.8,183.6 L116.9,185.5 L118.1,187.4 L119.2,189.3 L120.4,191.1 L121.5,192.9 L122.6,194.7 L123.8,196.4 L124.9,198.1 L126.0,199.8 L127.2,201.4 L128.3,203.0 L129.5,204.5 L130.6,206.0 L131.7,207.5 L132.9,209.0 L134.0,210.4 L135.1,211.8 L136.3,213.2 L137.4,214.6 L138.6,215.9 L139.7,217.2 L140.8,218.4 L142.0,219.7 L143.1,220.9 L144.3,222.1 L145.4,223.2 L146.5,224.4 L149.2,226.9 L151.8,229.3 L154.4,231.7 L157.1,233.9 L159.7,236.0 L162.3,238.0 L165.0,239.9 L167.6,241.7 L170.2,243.4 L172.8,245.1 L175.5,246.7 L178.1,248.2 L180.7,249.6 L183.4,251.0 L186.0,252.3 L188.6,253.5 L191.3,254.7 L193.9,255.8 L196.5,256.9 L199.2,257.9 L201.8,258.9 L204.4,259.9 L207.1,260.7 L209.7,261.6 L212.3,262.4 L214.9,263.2 L217.6,263.9 L220.2,264.6 L222.8,265.3 L225.5,265.9 L228.1,266.5 L230.7,267.1 L233.4,267.6 L236.0,268.2 L238.6,268.7 L241.3,269.2 L243.9,269.6 L246.5,270.0 L249.2,270.5 L251.8,270.8 L254.4,271.2 L257.1,271.6 L259.7,271.9 L262.3,272.3 L264.9,272.6 L267.6,272.9 L270.2,273.1 L272.8,273.4 L275.5,273.7 L278.1,273.9 L280.7,274.1 L283.4,274.4 L286.0,274.6 L288.6,274.8 L291.3,275.0 L293.9,275.2 L296.5,275.3 L299.2,275.5 L301.8,275.7 L304.4,275.8 L307.0,276.0 L309.7,276.1 L312.3,276.2 L314.9,276.3 L317.6,276.5 L320.2,276.6 L322.8,276.7 L325.5,276.8 L328.1,276.9" stroke="#000" stroke-width="3" stroke-dasharray="7.2,5.56"/>
</g>
<g clip-path="url(#cpb)" fill="none" stroke-linejoin="round">
<line x1="383.08" x2="383.08" y1="8.80" y2="278.30" stroke="#858585" stroke-width="0.85"/>
<path d="M328.1,12.4 L328.2,76.6 L328.4,86.7 L328.5,93.3 L328.6,98.3 L328.8,102.4 L328.9,105.9 L329.1,108.9 L329.2,111.6 L329.3,114.1 L329.5,116.3 L329.6,118.4 L329.7,120.3 L329.9,122.1 L330.0,123.8 L330.2,125.4 L330.3,126.9 L330.4,128.3 L330.6,129.7 L330.7,131.0 L330.8,132.3 L331.0,133.5 L331.1,134.7 L331.3,135.8 L331.4,136.9 L332.5,144.1 L333.0,147.3 L333.5,150.1 L334.6,155.2 L335.6,159.7 L336.7,163.7 L337.7,167.3 L337.9,167.7 L338.8,170.5 L339.8,173.6 L340.9,176.4 L341.9,179.0 L342.8,180.9 L343.0,181.5 L344.1,183.8 L345.1,186.0 L346.2,188.0 L347.2,190.0 L347.6,190.8 L348.3,191.9 L349.3,193.7 L350.4,195.4 L351.4,197.1 L352.5,198.7 L352.5,198.7 L353.5,200.2 L354.6,201.7 L355.7,203.1 L356.7,204.5 L357.4,205.4 L357.8,205.8 L358.8,207.1 L359.9,208.3 L360.9,209.6 L362.0,210.7 L362.3,211.1 L363.0,211.9 L364.1,213.0 L365.1,214.0 L366.2,215.1 L367.2,216.1 L367.3,216.1 L368.3,217.1 L369.4,218.1 L370.4,219.0 L371.5,219.9 L372.1,220.5 L372.5,220.8 L373.6,221.7 L374.6,222.6 L375.7,223.4 L376.8,224.2 L377.8,225.0 L378.9,225.8 L379.9,226.6 L381.0,227.3 L382.0,228.1 L383.1,228.8 L384.2,229.6 L385.4,230.3 L386.5,231.0 L387.6,231.7 L388.8,232.4 L389.9,233.1 L391.0,233.8 L392.2,234.5 L393.3,235.1 L394.5,235.7 L395.6,236.3 L396.7,236.9 L397.9,237.5 L399.0,238.1 L400.1,238.7 L401.3,239.3 L402.4,239.8 L403.6,240.4 L404.7,240.9 L405.8,241.4 L407.0,241.9 L408.1,242.4 L409.2,242.9 L410.4,243.4 L411.5,243.9 L412.7,244.4 L413.8,244.8 L414.9,245.3 L416.1,245.7 L418.7,246.7 L421.3,247.7 L424.0,248.6 L426.6,249.5 L429.2,250.4 L431.8,251.2 L434.5,252.0 L437.1,252.8 L439.7,253.6 L442.4,254.3 L445.0,255.0 L447.6,255.7 L450.3,256.3 L452.9,257.0 L455.5,257.6 L458.1,258.2 L460.8,258.7 L463.4,259.3 L466.0,259.8 L468.7,260.4 L471.3,260.9 L473.9,261.3 L476.5,261.8 L479.2,262.3 L481.8,262.7 L484.4,263.2 L487.1,263.6 L489.7,264.0 L492.3,264.4 L495.0,264.8 L497.6,265.1 L500.2,265.5 L502.8,265.9 L505.5,266.2 L508.1,266.5 L510.7,266.9 L513.4,267.2 L516.0,267.5 L518.6,267.8 L521.2,268.1 L523.9,268.3 L526.5,268.6 L529.1,268.9 L531.8,269.1 L534.4,269.4 L537.0,269.6 L539.7,269.9 L542.3,270.1 L544.9,270.3 L547.5,270.5 L550.2,270.7 L552.8,271.0 L555.4,271.2 L558.1,271.3 L560.7,271.5 L563.3,271.7 L565.9,271.9 L568.6,272.1 L571.2,272.2 L573.8,272.4 L576.5,272.6 L579.1,272.7 L581.7,272.9 L584.4,273.0 L587.0,273.2 L589.6,273.3 L592.2,273.5 L594.9,273.6 L597.5,273.7" stroke="#03036b" stroke-width="1.2"/>
<path d="M328.1,9.4 L328.2,48.3 L328.4,56.9 L328.5,62.8 L328.6,67.5 L328.8,71.3 L328.9,74.7 L329.1,77.6 L329.2,80.3 L329.3,82.8 L329.5,85.0 L329.6,87.1 L329.7,89.1 L329.9,91.0 L330.0,92.7 L330.2,94.4 L330.3,96.0 L330.4,97.5 L330.6,99.0 L330.7,100.4 L330.8,101.7 L331.0,103.0 L331.1,104.3 L331.3,105.5 L331.4,106.7 L332.5,114.7 L333.0,118.3 L333.5,121.5 L334.6,127.3 L335.6,132.5 L336.7,137.2 L337.7,141.4 L337.9,142.0 L338.8,145.3 L339.8,149.0 L340.9,152.4 L341.9,155.6 L342.8,157.9 L343.0,158.6 L344.1,161.4 L345.1,164.1 L346.2,166.7 L347.2,169.2 L347.6,170.2 L348.3,171.5 L349.3,173.8 L350.4,176.0 L351.4,178.1 L352.5,180.1 L352.5,180.1 L353.5,182.0 L354.6,183.9 L355.7,185.7 L356.7,187.4 L357.4,188.6 L357.8,189.1 L358.8,190.8 L359.9,192.4 L360.9,193.9 L362.0,195.4 L362.3,195.9 L363.0,196.9 L364.1,198.3 L365.1,199.7 L366.2,201.0 L367.2,202.3 L367.3,202.3 L368.3,203.6 L369.4,204.9 L370.4,206.1 L371.5,207.3 L372.1,208.0 L372.5,208.5 L373.6,209.6 L374.6,210.7 L375.7,211.8 L376.8,212.8 L377.8,213.9 L378.9,214.9 L379.9,215.9 L381.0,216.9 L382.0,217.8 L383.1,218.7 L384.2,219.7 L385.4,220.7 L386.5,221.6 L387.6,222.6 L388.8,223.5 L389.9,224.3 L391.0,225.2 L392.2,226.1 L393.3,226.9 L394.5,227.7 L395.6,228.5 L396.7,229.3 L397.9,230.1 L399.0,230.8 L400.1,231.5 L401.3,232.3 L402.4,233.0 L403.6,233.7 L404.7,234.4 L405.8,235.0 L407.0,235.7 L408.1,236.3 L409.2,237.0 L410.4,237.6 L411.5,238.2 L412.7,238.8 L413.8,239.4 L414.9,240.0 L416.1,240.6 L418.7,241.8 L421.3,243.1 L424.0,244.3 L426.6,245.4 L429.2,246.5 L431.8,247.5 L434.5,248.6 L437.1,249.5 L439.7,250.5 L442.4,251.4 L445.0,252.3 L447.6,253.1 L450.3,253.9 L452.9,254.7 L455.5,255.5 L458.1,256.2 L460.8,256.9 L463.4,257.6 L466.0,258.2 L468.7,258.9 L471.3,259.5 L473.9,260.1 L476.5,260.7 L479.2,261.2 L481.8,261.8 L484.4,262.3 L487.1,262.8 L489.7,263.3 L492.3,263.7 L495.0,264.2 L497.6,264.6 L500.2,265.1 L502.8,265.5 L505.5,265.9 L508.1,266.3 L510.7,266.6 L513.4,267.0 L516.0,267.4 L518.6,267.7 L521.2,268.0 L523.9,268.3 L526.5,268.7 L529.1,269.0 L531.8,269.2 L534.4,269.5 L537.0,269.8 L539.7,270.1 L542.3,270.3 L544.9,270.6 L547.5,270.8 L550.2,271.0 L552.8,271.3 L555.4,271.5 L558.1,271.7 L560.7,271.9 L563.3,272.1 L565.9,272.3 L568.6,272.5 L571.2,272.7 L573.8,272.9 L576.5,273.0 L579.1,273.2 L581.7,273.4 L584.4,273.5 L587.0,273.7 L589.6,273.8 L592.2,274.0 L594.9,274.1 L597.5,274.2" stroke="#0505cb" stroke-width="1.2"/>
<path d="M328.1,8.8 L328.2,27.4 L328.4,33.5 L328.5,38.0 L328.6,41.7 L328.8,44.8 L328.9,47.6 L329.1,50.1 L329.2,52.4 L329.3,54.6 L329.5,56.6 L329.6,58.5 L329.7,60.3 L329.9,62.0 L330.0,63.6 L330.2,65.2 L330.3,66.7 L330.4,68.1 L330.6,69.5 L330.7,70.9 L330.8,72.2 L331.0,73.5 L331.1,74.7 L331.3,75.9 L331.4,77.1 L332.5,85.2 L333.0,88.9 L333.5,92.2 L334.6,98.4 L335.6,104.1 L336.7,109.2 L337.7,114.0 L337.9,114.6 L338.8,118.4 L339.8,122.6 L340.9,126.5 L341.9,130.2 L342.8,132.9 L343.0,133.7 L344.1,137.1 L345.1,140.3 L346.2,143.4 L347.2,146.3 L347.6,147.5 L348.3,149.1 L349.3,151.9 L350.4,154.5 L351.4,157.0 L352.5,159.5 L352.5,159.6 L353.5,161.9 L354.6,164.2 L355.7,166.4 L356.7,168.6 L357.4,170.0 L357.8,170.7 L358.8,172.7 L359.9,174.7 L360.9,176.6 L362.0,178.5 L362.3,179.1 L363.0,180.3 L364.1,182.1 L365.1,183.8 L366.2,185.5 L367.2,187.1 L367.3,187.2 L368.3,188.8 L369.4,190.4 L370.4,191.9 L371.5,193.4 L372.1,194.3 L372.5,194.9 L373.6,196.3 L374.6,197.7 L375.7,199.1 L376.8,200.4 L377.8,201.7 L378.9,203.0 L379.9,204.3 L381.0,205.5 L382.0,206.7 L383.1,207.9 L384.2,209.2 L385.4,210.4 L386.5,211.6 L387.6,212.7 L388.8,213.9 L389.9,215.0 L391.0,216.1 L392.2,217.2 L393.3,218.2 L394.5,219.3 L395.6,220.3 L396.7,221.3 L397.9,222.2 L399.0,223.2 L400.1,224.1 L401.3,225.0 L402.4,225.9 L403.6,226.8 L404.7,227.7 L405.8,228.5 L407.0,229.4 L408.1,230.2 L409.2,231.0 L410.4,231.8 L411.5,232.5 L412.7,233.3 L413.8,234.0 L414.9,234.8 L416.1,235.5 L418.7,237.1 L421.3,238.6 L424.0,240.1 L426.6,241.5 L429.2,242.9 L431.8,244.2 L434.5,245.4 L437.1,246.6 L439.7,247.8 L442.4,248.9 L445.0,249.9 L447.6,251.0 L450.3,252.0 L452.9,252.9 L455.5,253.8 L458.1,254.7 L460.8,255.6 L463.4,256.4 L466.0,257.2 L468.7,257.9 L471.3,258.6 L473.9,259.3 L476.5,260.0 L479.2,260.7 L481.8,261.3 L484.4,261.9 L487.1,262.5 L489.7,263.0 L492.3,263.6 L495.0,264.1 L497.6,264.6 L500.2,265.1 L502.8,265.6 L505.5,266.0 L508.1,266.4 L510.7,266.9 L513.4,267.3 L516.0,267.7 L518.6,268.0 L521.2,268.4 L523.9,268.8 L526.5,269.1 L529.1,269.4 L531.8,269.7 L534.4,270.1 L537.0,270.3 L539.7,270.6 L542.3,270.9 L544.9,271.2 L547.5,271.4 L550.2,271.7 L552.8,271.9 L555.4,272.1 L558.1,272.4 L560.7,272.6 L563.3,272.8 L565.9,273.0 L568.6,273.2 L571.2,273.4 L573.8,273.6 L576.5,273.7 L579.1,273.9 L581.7,274.1 L584.4,274.2 L587.0,274.4 L589.6,274.5 L592.2,274.7 L594.9,274.8 L597.5,274.9" stroke="#0d4cde" stroke-width="1.2"/>
<path d="M328.1,8.8 L328.2,15.4 L328.4,18.7 L328.5,21.4 L328.6,23.7 L328.8,25.8 L328.9,27.7 L329.1,29.5 L329.2,31.1 L329.3,32.7 L329.5,34.2 L329.6,35.7 L329.7,37.1 L329.9,38.4 L330.0,39.8 L330.2,41.0 L330.3,42.3 L330.4,43.5 L330.6,44.6 L330.7,45.8 L330.8,46.9 L331.0,48.0 L331.1,49.0 L331.3,50.1 L331.4,51.1 L332.5,58.5 L333.0,61.9 L333.5,65.1 L334.6,71.1 L335.6,76.7 L336.7,82.0 L337.7,86.9 L337.9,87.6 L338.8,91.6 L339.8,96.0 L340.9,100.3 L341.9,104.3 L342.8,107.4 L343.0,108.2 L344.1,112.0 L345.1,115.6 L346.2,119.1 L347.2,122.4 L347.6,123.8 L348.3,125.7 L349.3,128.9 L350.4,131.9 L351.4,134.9 L352.5,137.8 L352.5,137.9 L353.5,140.6 L354.6,143.3 L355.7,146.0 L356.7,148.5 L357.4,150.2 L357.8,151.0 L358.8,153.5 L359.9,155.9 L360.9,158.2 L362.0,160.5 L362.3,161.2 L363.0,162.7 L364.1,164.9 L365.1,167.0 L366.2,169.1 L367.2,171.0 L367.3,171.1 L368.3,173.0 L369.4,175.0 L370.4,176.9 L371.5,178.7 L372.1,179.8 L372.5,180.5 L373.6,182.3 L374.6,184.0 L375.7,185.7 L376.8,187.4 L377.8,189.0 L378.9,190.6 L379.9,192.1 L381.0,193.7 L382.0,195.2 L383.1,196.6 L384.2,198.2 L385.4,199.7 L386.5,201.2 L387.6,202.6 L388.8,204.0 L389.9,205.4 L391.0,206.8 L392.2,208.1 L393.3,209.4 L394.5,210.7 L395.6,211.9 L396.7,213.2 L397.9,214.4 L399.0,215.6 L400.1,216.7 L401.3,217.8 L402.4,218.9 L403.6,220.0 L404.7,221.1 L405.8,222.1 L407.0,223.2 L408.1,224.2 L409.2,225.2 L410.4,226.1 L411.5,227.1 L412.7,228.0 L413.8,228.9 L414.9,229.8 L416.1,230.7 L418.7,232.6 L421.3,234.5 L424.0,236.3 L426.6,238.0 L429.2,239.7 L431.8,241.2 L434.5,242.7 L437.1,244.2 L439.7,245.6 L442.4,246.9 L445.0,248.2 L447.6,249.4 L450.3,250.6 L452.9,251.7 L455.5,252.8 L458.1,253.8 L460.8,254.8 L463.4,255.7 L466.0,256.6 L468.7,257.5 L471.3,258.3 L473.9,259.1 L476.5,259.9 L479.2,260.6 L481.8,261.4 L484.4,262.0 L487.1,262.7 L489.7,263.3 L492.3,263.9 L495.0,264.5 L497.6,265.1 L500.2,265.6 L502.8,266.1 L505.5,266.6 L508.1,267.1 L510.7,267.5 L513.4,268.0 L516.0,268.4 L518.6,268.8 L521.2,269.2 L523.9,269.6 L526.5,269.9 L529.1,270.3 L531.8,270.6 L534.4,270.9 L537.0,271.2 L539.7,271.5 L542.3,271.8 L544.9,272.1 L547.5,272.3 L550.2,272.6 L552.8,272.8 L555.4,273.0 L558.1,273.3 L560.7,273.5 L563.3,273.7 L565.9,273.9 L568.6,274.1 L571.2,274.3 L573.8,274.4 L576.5,274.6 L579.1,274.8 L581.7,274.9 L584.4,275.1 L587.0,275.2 L589.6,275.4 L592.2,275.5 L594.9,275.6 L597.5,275.7" stroke="#18a9e9" stroke-width="1.2"/>
<path d="M328.1,8.8 L328.2,10.4 L328.4,11.7 L328.5,12.8 L328.6,13.9 L328.8,15.0 L328.9,16.0 L329.1,17.0 L329.2,18.0 L329.3,18.9 L329.5,19.8 L329.6,20.7 L329.7,21.6 L329.9,22.5 L330.0,23.4 L330.2,24.2 L330.3,25.1 L330.4,25.9 L330.6,26.8 L330.7,27.6 L330.8,28.4 L331.0,29.2 L331.1,30.0 L331.3,30.8 L331.4,31.5 L332.5,37.3 L333.0,40.1 L333.5,42.8 L334.6,48.0 L335.6,53.1 L336.7,57.9 L337.7,62.6 L337.9,63.2 L338.8,67.1 L339.8,71.5 L340.9,75.8 L341.9,79.9 L342.8,83.1 L343.0,84.0 L344.1,87.9 L345.1,91.7 L346.2,95.5 L347.2,99.1 L347.6,100.5 L348.3,102.6 L349.3,106.1 L350.4,109.5 L351.4,112.8 L352.5,116.0 L352.5,116.2 L353.5,119.2 L354.6,122.3 L355.7,125.3 L356.7,128.3 L357.4,130.2 L357.8,131.2 L358.8,134.0 L359.9,136.8 L360.9,139.5 L362.0,142.1 L362.3,142.9 L363.0,144.7 L364.1,147.3 L365.1,149.7 L366.2,152.2 L367.2,154.4 L367.3,154.6 L368.3,156.9 L369.4,159.2 L370.4,161.5 L371.5,163.7 L372.1,164.9 L372.5,165.8 L373.6,167.9 L374.6,170.0 L375.7,172.0 L376.8,174.0 L377.8,176.0 L378.9,177.9 L379.9,179.8 L381.0,181.6 L382.0,183.4 L383.1,185.2 L384.2,187.1 L385.4,188.9 L386.5,190.7 L387.6,192.4 L388.8,194.2 L389.9,195.8 L391.0,197.5 L392.2,199.1 L393.3,200.7 L394.5,202.2 L395.6,203.7 L396.7,205.2 L397.9,206.7 L399.0,208.1 L400.1,209.5 L401.3,210.9 L402.4,212.2 L403.6,213.5 L404.7,214.8 L405.8,216.1 L407.0,217.3 L408.1,218.5 L409.2,219.7 L410.4,220.9 L411.5,222.0 L412.7,223.1 L413.8,224.2 L414.9,225.3 L416.1,226.3 L418.7,228.7 L421.3,230.9 L424.0,233.1 L426.6,235.1 L429.2,237.0 L431.8,238.9 L434.5,240.7 L437.1,242.4 L439.7,244.0 L442.4,245.5 L445.0,247.0 L447.6,248.4 L450.3,249.8 L452.9,251.1 L455.5,252.3 L458.1,253.5 L460.8,254.6 L463.4,255.7 L466.0,256.7 L468.7,257.7 L471.3,258.6 L473.9,259.5 L476.5,260.3 L479.2,261.2 L481.8,261.9 L484.4,262.7 L487.1,263.4 L489.7,264.1 L492.3,264.7 L495.0,265.4 L497.6,265.9 L500.2,266.5 L502.8,267.1 L505.5,267.6 L508.1,268.1 L510.7,268.5 L513.4,269.0 L516.0,269.4 L518.6,269.8 L521.2,270.2 L523.9,270.6 L526.5,271.0 L529.1,271.3 L531.8,271.7 L534.4,272.0 L537.0,272.3 L539.7,272.6 L542.3,272.8 L544.9,273.1 L547.5,273.4 L550.2,273.6 L552.8,273.8 L555.4,274.1 L558.1,274.3 L560.7,274.5 L563.3,274.7 L565.9,274.8 L568.6,275.0 L571.2,275.2 L573.8,275.4 L576.5,275.5 L579.1,275.7 L581.7,275.8 L584.4,275.9 L587.0,276.1 L589.6,276.2 L592.2,276.3 L594.9,276.4 L597.5,276.5" stroke="#43f2ca" stroke-width="1.2"/>
<path d="M328.1,8.8 L328.2,9.0 L328.4,9.4 L328.5,9.7 L328.6,10.1 L328.8,10.5 L328.9,10.9 L329.1,11.3 L329.2,11.7 L329.3,12.2 L329.5,12.6 L329.6,13.1 L329.7,13.5 L329.9,14.0 L330.0,14.4 L330.2,14.9 L330.3,15.4 L330.4,15.9 L330.6,16.3 L330.7,16.8 L330.8,17.3 L331.0,17.8 L331.1,18.3 L331.3,18.8 L331.4,19.3 L332.5,23.2 L333.0,25.2 L333.5,27.1 L334.6,31.1 L335.6,35.2 L336.7,39.2 L337.7,43.2 L337.9,43.8 L338.8,47.2 L339.8,51.2 L340.9,55.1 L341.9,59.0 L342.8,62.0 L343.0,62.9 L344.1,66.7 L345.1,70.5 L346.2,74.2 L347.2,77.9 L347.6,79.4 L348.3,81.6 L349.3,85.2 L350.4,88.7 L351.4,92.2 L352.5,95.6 L352.5,95.8 L353.5,99.0 L354.6,102.4 L355.7,105.6 L356.7,108.9 L357.4,111.0 L357.8,112.1 L358.8,115.2 L359.9,118.3 L360.9,121.3 L362.0,124.3 L362.3,125.2 L363.0,127.2 L364.1,130.1 L365.1,132.9 L366.2,135.7 L367.2,138.2 L367.3,138.4 L368.3,141.1 L369.4,143.7 L370.4,146.3 L371.5,148.9 L372.1,150.3 L372.5,151.3 L373.6,153.8 L374.6,156.2 L375.7,158.6 L376.8,160.9 L377.8,163.2 L378.9,165.4 L379.9,167.6 L381.0,169.8 L382.0,171.9 L383.1,174.0 L384.2,176.2 L385.4,178.3 L386.5,180.4 L387.6,182.5 L388.8,184.5 L389.9,186.5 L391.0,188.5 L392.2,190.4 L393.3,192.3 L394.5,194.1 L395.6,195.9 L396.7,197.6 L397.9,199.4 L399.0,201.1 L400.1,202.7 L401.3,204.3 L402.4,205.9 L403.6,207.5 L404.7,209.0 L405.8,210.5 L407.0,211.9 L408.1,213.3 L409.2,214.7 L410.4,216.1 L411.5,217.5 L412.7,218.8 L413.8,220.1 L414.9,221.3 L416.1,222.5 L418.7,225.3 L421.3,227.9 L424.0,230.4 L426.6,232.8 L429.2,235.0 L431.8,237.2 L434.5,239.2 L437.1,241.2 L439.7,243.0 L442.4,244.8 L445.0,246.5 L447.6,248.1 L450.3,249.6 L452.9,251.0 L455.5,252.4 L458.1,253.7 L460.8,255.0 L463.4,256.1 L466.0,257.3 L468.7,258.3 L471.3,259.4 L473.9,260.3 L476.5,261.2 L479.2,262.1 L481.8,263.0 L484.4,263.7 L487.1,264.5 L489.7,265.2 L492.3,265.9 L495.0,266.5 L497.6,267.1 L500.2,267.7 L502.8,268.3 L505.5,268.8 L508.1,269.3 L510.7,269.8 L513.4,270.2 L516.0,270.7 L518.6,271.1 L521.2,271.5 L523.9,271.8 L526.5,272.2 L529.1,272.5 L531.8,272.9 L534.4,273.2 L537.0,273.4 L539.7,273.7 L542.3,274.0 L544.9,274.2 L547.5,274.5 L550.2,274.7 L552.8,274.9 L555.4,275.1 L558.1,275.3 L560.7,275.5 L563.3,275.6 L565.9,275.8 L568.6,275.9 L571.2,276.1 L573.8,276.2 L576.5,276.4 L579.1,276.5 L581.7,276.6 L584.4,276.7 L587.0,276.8 L589.6,276.9 L592.2,277.0 L594.9,277.1 L597.5,277.2" stroke="#8bf588" stroke-width="1.2"/>
<path d="M328.1,8.8 L328.2,8.8 L328.4,8.9 L328.5,9.0 L328.6,9.1 L328.8,9.2 L328.9,9.3 L329.1,9.4 L329.2,9.6 L329.3,9.7 L329.5,9.9 L329.6,10.1 L329.7,10.3 L329.9,10.5 L330.0,10.7 L330.2,10.9 L330.3,11.1 L330.4,11.4 L330.6,11.6 L330.7,11.9 L330.8,12.1 L331.0,12.4 L331.1,12.6 L331.3,12.9 L331.4,13.2 L332.5,15.4 L333.0,16.7 L333.5,18.0 L334.6,20.7 L335.6,23.6 L336.7,26.6 L337.7,29.7 L337.9,30.2 L338.8,33.0 L339.8,36.3 L340.9,39.6 L341.9,43.0 L342.8,45.7 L343.0,46.5 L344.1,49.9 L345.1,53.4 L346.2,56.9 L347.2,60.4 L347.6,61.9 L348.3,64.0 L349.3,67.5 L350.4,71.0 L351.4,74.4 L352.5,77.9 L352.5,78.0 L353.5,81.3 L354.6,84.8 L355.7,88.1 L356.7,91.5 L357.4,93.8 L357.8,94.9 L358.8,98.2 L359.9,101.4 L360.9,104.7 L362.0,107.9 L362.3,108.8 L363.0,111.0 L364.1,114.1 L365.1,117.2 L366.2,120.3 L367.2,123.1 L367.3,123.3 L368.3,126.2 L369.4,129.2 L370.4,132.0 L371.5,134.9 L372.1,136.5 L372.5,137.7 L373.6,140.4 L374.6,143.1 L375.7,145.8 L376.8,148.4 L377.8,151.0 L378.9,153.6 L379.9,156.1 L381.0,158.5 L382.0,160.9 L383.1,163.3 L384.2,165.8 L385.4,168.3 L386.5,170.7 L387.6,173.1 L388.8,175.4 L389.9,177.7 L391.0,180.0 L392.2,182.2 L393.3,184.3 L394.5,186.4 L395.6,188.5 L396.7,190.6 L397.9,192.5 L399.0,194.5 L400.1,196.4 L401.3,198.3 L402.4,200.1 L403.6,201.9 L404.7,203.7 L405.8,205.4 L407.0,207.1 L408.1,208.7 L409.2,210.3 L410.4,211.9 L411.5,213.4 L412.7,215.0 L413.8,216.4 L414.9,217.9 L416.1,219.3 L418.7,222.5 L421.3,225.5 L424.0,228.3 L426.6,231.0 L429.2,233.6 L431.8,236.0 L434.5,238.3 L437.1,240.5 L439.7,242.6 L442.4,244.6 L445.0,246.4 L447.6,248.2 L450.3,249.9 L452.9,251.5 L455.5,253.0 L458.1,254.4 L460.8,255.8 L463.4,257.0 L466.0,258.2 L468.7,259.4 L471.3,260.5 L473.9,261.5 L476.5,262.5 L479.2,263.4 L481.8,264.2 L484.4,265.1 L487.1,265.8 L489.7,266.6 L492.3,267.2 L495.0,267.9 L497.6,268.5 L500.2,269.1 L502.8,269.7 L505.5,270.2 L508.1,270.7 L510.7,271.1 L513.4,271.6 L516.0,272.0 L518.6,272.4 L521.2,272.7 L523.9,273.1 L526.5,273.4 L529.1,273.7 L531.8,274.0 L534.4,274.3 L537.0,274.6 L539.7,274.8 L542.3,275.0 L544.9,275.3 L547.5,275.5 L550.2,275.7 L552.8,275.9 L555.4,276.0 L558.1,276.2 L560.7,276.3 L563.3,276.5 L565.9,276.6 L568.6,276.8 L571.2,276.9 L573.8,277.0 L576.5,277.1 L579.1,277.2 L581.7,277.3 L584.4,277.4 L587.0,277.5 L589.6,277.6 L592.2,277.6 L594.9,277.7 L597.5,277.8" stroke="#cff849" stroke-width="1.2"/>
<path d="M328.1,8.8 L328.2,8.8 L328.4,8.8 L328.5,8.8 L328.6,8.9 L328.8,8.9 L328.9,8.9 L329.1,9.0 L329.2,9.0 L329.3,9.1 L329.5,9.2 L329.6,9.3 L329.7,9.3 L329.9,9.4 L330.0,9.5 L330.2,9.6 L330.3,9.7 L330.4,9.8 L330.6,9.9 L330.7,10.1 L330.8,10.2 L331.0,10.3 L331.1,10.5 L331.3,10.6 L331.4,10.7 L332.5,12.0 L333.0,12.8 L333.5,13.6 L334.6,15.3 L335.6,17.3 L336.7,19.4 L337.7,21.7 L337.9,22.1 L338.8,24.2 L339.8,26.7 L340.9,29.4 L341.9,32.2 L342.8,34.5 L343.0,35.1 L344.1,38.1 L345.1,41.1 L346.2,44.3 L347.2,47.4 L347.6,48.7 L348.3,50.6 L349.3,53.9 L350.4,57.1 L351.4,60.4 L352.5,63.7 L352.5,63.9 L353.5,67.1 L354.6,70.4 L355.7,73.8 L356.7,77.1 L357.4,79.4 L357.8,80.4 L358.8,83.8 L359.9,87.1 L360.9,90.4 L362.0,93.7 L362.3,94.7 L363.0,97.0 L364.1,100.3 L365.1,103.5 L366.2,106.7 L367.2,109.7 L367.3,109.9 L368.3,113.0 L369.4,116.1 L370.4,119.2 L371.5,122.3 L372.1,124.0 L372.5,125.3 L373.6,128.3 L374.6,131.2 L375.7,134.2 L376.8,137.0 L377.8,139.9 L378.9,142.7 L379.9,145.4 L381.0,148.2 L382.0,150.8 L383.1,153.5 L384.2,156.3 L385.4,159.0 L386.5,161.8 L387.6,164.4 L388.8,167.0 L389.9,169.6 L391.0,172.1 L392.2,174.6 L393.3,177.0 L394.5,179.4 L395.6,181.7 L396.7,184.0 L397.9,186.3 L399.0,188.5 L400.1,190.7 L401.3,192.8 L402.4,194.8 L403.6,196.9 L404.7,198.9 L405.8,200.8 L407.0,202.7 L408.1,204.6 L409.2,206.4 L410.4,208.2 L411.5,209.9 L412.7,211.6 L413.8,213.3 L414.9,214.9 L416.1,216.5 L418.7,220.1 L421.3,223.5 L424.0,226.7 L426.6,229.7 L429.2,232.6 L431.8,235.3 L434.5,237.9 L437.1,240.3 L439.7,242.6 L442.4,244.7 L445.0,246.8 L447.6,248.7 L450.3,250.5 L452.9,252.2 L455.5,253.9 L458.1,255.4 L460.8,256.8 L463.4,258.2 L466.0,259.4 L468.7,260.6 L471.3,261.8 L473.9,262.8 L476.5,263.8 L479.2,264.8 L481.8,265.6 L484.4,266.5 L487.1,267.2 L489.7,268.0 L492.3,268.7 L495.0,269.3 L497.6,269.9 L500.2,270.5 L502.8,271.0 L505.5,271.5 L508.1,272.0 L510.7,272.4 L513.4,272.8 L516.0,273.2 L518.6,273.6 L521.2,273.9 L523.9,274.2 L526.5,274.5 L529.1,274.8 L531.8,275.1 L534.4,275.3 L537.0,275.6 L539.7,275.8 L542.3,276.0 L544.9,276.2 L547.5,276.3 L550.2,276.5 L552.8,276.7 L555.4,276.8 L558.1,277.0 L560.7,277.1 L563.3,277.2 L565.9,277.3 L568.6,277.4 L571.2,277.5 L573.8,277.6 L576.5,277.7 L579.1,277.8 L581.7,277.8 L584.4,277.9 L587.0,278.0 L589.6,278.0 L592.2,278.1 L594.9,278.1 L597.5,278.2" stroke="#f4c422" stroke-width="1.2"/>
<path d="M328.1,8.8 L328.2,8.8 L328.4,8.8 L328.5,8.8 L328.6,8.8 L328.8,8.8 L328.9,8.9 L329.1,8.9 L329.2,8.9 L329.3,9.0 L329.5,9.0 L329.6,9.0 L329.7,9.1 L329.9,9.1 L330.0,9.2 L330.2,9.2 L330.3,9.3 L330.4,9.4 L330.6,9.4 L330.7,9.5 L330.8,9.6 L331.0,9.7 L331.1,9.7 L331.3,9.8 L331.4,9.9 L332.5,10.7 L333.0,11.2 L333.5,11.7 L334.6,12.9 L335.6,14.3 L336.7,15.8 L337.7,17.5 L337.9,17.8 L338.8,19.4 L339.8,21.4 L340.9,23.5 L341.9,25.8 L342.8,27.6 L343.0,28.2 L344.1,30.7 L345.1,33.2 L346.2,35.9 L347.2,38.7 L347.6,39.8 L348.3,41.5 L349.3,44.4 L350.4,47.4 L351.4,50.4 L352.5,53.4 L352.5,53.6 L353.5,56.6 L354.6,59.7 L355.7,62.9 L356.7,66.1 L357.4,68.3 L357.8,69.3 L358.8,72.6 L359.9,75.8 L360.9,79.1 L362.0,82.4 L362.3,83.4 L363.0,85.7 L364.1,88.9 L365.1,92.2 L366.2,95.5 L367.2,98.5 L367.3,98.7 L368.3,102.0 L369.4,105.2 L370.4,108.4 L371.5,111.6 L372.1,113.4 L372.5,114.7 L373.6,117.9 L374.6,121.0 L375.7,124.1 L376.8,127.1 L377.8,130.1 L378.9,133.1 L379.9,136.1 L381.0,139.0 L382.0,141.9 L383.1,144.8 L384.2,147.8 L385.4,150.8 L386.5,153.7 L387.6,156.6 L388.8,159.5 L389.9,162.3 L391.0,165.1 L392.2,167.8 L393.3,170.5 L394.5,173.1 L395.6,175.7 L396.7,178.2 L397.9,180.7 L399.0,183.1 L400.1,185.5 L401.3,187.8 L402.4,190.1 L403.6,192.4 L404.7,194.6 L405.8,196.7 L407.0,198.8 L408.1,200.9 L409.2,202.9 L410.4,204.9 L411.5,206.9 L412.7,208.8 L413.8,210.6 L414.9,212.4 L416.1,214.2 L418.7,218.1 L421.3,221.9 L424.0,225.4 L426.6,228.7 L429.2,231.9 L431.8,234.9 L434.5,237.7 L437.1,240.3 L439.7,242.8 L442.4,245.1 L445.0,247.3 L447.6,249.4 L450.3,251.3 L452.9,253.2 L455.5,254.9 L458.1,256.5 L460.8,258.0 L463.4,259.4 L466.0,260.7 L468.7,262.0 L471.3,263.1 L473.9,264.2 L476.5,265.2 L479.2,266.2 L481.8,267.0 L484.4,267.9 L487.1,268.6 L489.7,269.4 L492.3,270.0 L495.0,270.6 L497.6,271.2 L500.2,271.8 L502.8,272.3 L505.5,272.7 L508.1,273.2 L510.7,273.6 L513.4,274.0 L516.0,274.3 L518.6,274.7 L521.2,275.0 L523.9,275.2 L526.5,275.5 L529.1,275.8 L531.8,276.0 L534.4,276.2 L537.0,276.4 L539.7,276.6 L542.3,276.8 L544.9,276.9 L547.5,277.1 L550.2,277.2 L552.8,277.3 L555.4,277.4 L558.1,277.5 L560.7,277.6 L563.3,277.7 L565.9,277.8 L568.6,277.9 L571.2,278.0 L573.8,278.0 L576.5,278.1 L579.1,278.2 L581.7,278.2 L584.4,278.3 L587.0,278.3 L589.6,278.4 L592.2,278.4 L594.9,278.4 L597.5,278.5" stroke="#ea6e19" stroke-width="1.2"/>
<path d="M328.1,8.8 L328.2,8.8 L328.4,8.8 L328.5,8.8 L328.6,8.8 L328.8,8.8 L328.9,8.9 L329.1,8.9 L329.2,8.9 L329.3,8.9 L329.5,8.9 L329.6,9.0 L329.7,9.0 L329.9,9.0 L330.0,9.1 L330.2,9.1 L330.3,9.2 L330.4,9.2 L330.6,9.3 L330.7,9.3 L330.8,9.4 L331.0,9.4 L331.1,9.5 L331.3,9.5 L331.4,9.6 L332.5,10.2 L333.0,10.6 L333.5,11.0 L334.6,11.9 L335.6,12.9 L336.7,14.1 L337.7,15.5 L337.9,15.7 L338.8,17.0 L339.8,18.6 L340.9,20.4 L341.9,22.2 L342.8,23.8 L343.0,24.2 L344.1,26.3 L345.1,28.5 L346.2,30.9 L347.2,33.3 L347.6,34.3 L348.3,35.8 L349.3,38.3 L350.4,41.0 L351.4,43.7 L352.5,46.5 L352.5,46.6 L353.5,49.4 L354.6,52.3 L355.7,55.3 L356.7,58.3 L357.4,60.3 L357.8,61.3 L358.8,64.4 L359.9,67.6 L360.9,70.7 L362.0,73.9 L362.3,74.9 L363.0,77.1 L364.1,80.3 L365.1,83.5 L366.2,86.8 L367.2,89.8 L367.3,90.0 L368.3,93.3 L369.4,96.5 L370.4,99.7 L371.5,103.0 L372.1,104.8 L372.5,106.2 L373.6,109.4 L374.6,112.6 L375.7,115.8 L376.8,118.9 L377.8,122.1 L378.9,125.2 L379.9,128.3 L381.0,131.3 L382.0,134.4 L383.1,137.4 L384.2,140.6 L385.4,143.7 L386.5,146.9 L387.6,149.9 L388.8,153.0 L389.9,156.0 L391.0,158.9 L392.2,161.9 L393.3,164.7 L394.5,167.5 L395.6,170.3 L396.7,173.1 L397.9,175.7 L399.0,178.4 L400.1,180.9 L401.3,183.5 L402.4,186.0 L403.6,188.4 L404.7,190.8 L405.8,193.2 L407.0,195.5 L408.1,197.7 L409.2,199.9 L410.4,202.1 L411.5,204.2 L412.7,206.2 L413.8,208.3 L414.9,210.2 L416.1,212.2 L418.7,216.4 L421.3,220.5 L424.0,224.3 L426.6,228.0 L429.2,231.4 L431.8,234.6 L434.5,237.6 L437.1,240.5 L439.7,243.1 L442.4,245.6 L445.0,248.0 L447.6,250.2 L450.3,252.2 L452.9,254.1 L455.5,255.9 L458.1,257.6 L460.8,259.2 L463.4,260.6 L466.0,262.0 L468.7,263.2 L471.3,264.4 L473.9,265.5 L476.5,266.5 L479.2,267.5 L481.8,268.3 L484.4,269.2 L487.1,269.9 L489.7,270.6 L492.3,271.2 L495.0,271.8 L497.6,272.4 L500.2,272.9 L502.8,273.4 L505.5,273.8 L508.1,274.2 L510.7,274.6 L513.4,274.9 L516.0,275.3 L518.6,275.5 L521.2,275.8 L523.9,276.1 L526.5,276.3 L529.1,276.5 L531.8,276.7 L534.4,276.9 L537.0,277.1 L539.7,277.2 L542.3,277.3 L544.9,277.5 L547.5,277.6 L550.2,277.7 L552.8,277.8 L555.4,277.9 L558.1,278.0 L560.7,278.1 L563.3,278.1 L565.9,278.2 L568.6,278.2 L571.2,278.3 L573.8,278.4 L576.5,278.4 L579.1,278.4 L581.7,278.5 L584.4,278.5 L587.0,278.5 L589.6,278.6 L592.2,278.6 L594.9,278.6 L597.5,278.7" stroke="#d4140e" stroke-width="1.2"/>
<path d="M328.1,8.8 L328.2,9.5 L328.4,10.1 L328.5,10.8 L328.6,11.5 L328.8,12.2 L328.9,12.8 L329.1,13.5 L329.2,14.1 L329.3,14.8 L329.5,15.5 L329.6,16.1 L329.7,16.8 L329.9,17.4 L330.0,18.1 L330.2,18.7 L330.3,19.4 L330.4,20.0 L330.6,20.7 L330.7,21.3 L330.8,22.0 L331.0,22.6 L331.1,23.3 L331.3,23.9 L331.4,24.5 L332.5,29.4 L333.0,31.8 L333.5,34.1 L334.6,38.8 L335.6,43.3 L336.7,47.8 L337.7,52.2 L337.9,52.8 L338.8,56.5 L339.8,60.7 L340.9,64.9 L341.9,68.9 L342.8,72.0 L343.0,72.9 L344.1,76.8 L345.1,80.7 L346.2,84.4 L347.2,88.1 L347.6,89.6 L348.3,91.8 L349.3,95.3 L350.4,98.8 L351.4,102.2 L352.5,105.6 L352.5,105.7 L353.5,108.9 L354.6,112.1 L355.7,115.3 L356.7,118.4 L357.4,120.4 L357.8,121.4 L358.8,124.4 L359.9,127.4 L360.9,130.2 L362.0,133.1 L362.3,133.9 L363.0,135.8 L364.1,138.6 L365.1,141.2 L366.2,143.8 L367.2,146.3 L367.3,146.4 L368.3,148.9 L369.4,151.4 L370.4,153.8 L371.5,156.2 L372.1,157.5 L372.5,158.5 L373.6,160.8 L374.6,163.1 L375.7,165.3 L376.8,167.4 L377.8,169.5 L378.9,171.6 L379.9,173.6 L381.0,175.6 L382.0,177.6 L383.1,179.5 L384.2,181.6 L385.4,183.6 L386.5,185.5 L387.6,187.4 L388.8,189.3 L389.9,191.1 L391.0,192.9 L392.2,194.7 L393.3,196.4 L394.5,198.1 L395.6,199.8 L396.7,201.4 L397.9,203.0 L399.0,204.5 L400.1,206.0 L401.3,207.5 L402.4,209.0 L403.6,210.4 L404.7,211.8 L405.8,213.2 L407.0,214.6 L408.1,215.9 L409.2,217.2 L410.4,218.4 L411.5,219.7 L412.7,220.9 L413.8,222.1 L414.9,223.2 L416.1,224.4 L418.7,226.9 L421.3,229.3 L424.0,231.7 L426.6,233.9 L429.2,236.0 L431.8,238.0 L434.5,239.9 L437.1,241.7 L439.7,243.4 L442.4,245.1 L445.0,246.7 L447.6,248.2 L450.3,249.6 L452.9,251.0 L455.5,252.3 L458.1,253.5 L460.8,254.7 L463.4,255.8 L466.0,256.9 L468.7,257.9 L471.3,258.9 L473.9,259.9 L476.5,260.7 L479.2,261.6 L481.8,262.4 L484.4,263.2 L487.1,263.9 L489.7,264.6 L492.3,265.3 L495.0,265.9 L497.6,266.5 L500.2,267.1 L502.8,267.6 L505.5,268.2 L508.1,268.7 L510.7,269.2 L513.4,269.6 L516.0,270.0 L518.6,270.5 L521.2,270.8 L523.9,271.2 L526.5,271.6 L529.1,271.9 L531.8,272.3 L534.4,272.6 L537.0,272.9 L539.7,273.1 L542.3,273.4 L544.9,273.7 L547.5,273.9 L550.2,274.1 L552.8,274.4 L555.4,274.6 L558.1,274.8 L560.7,275.0 L563.3,275.2 L565.9,275.3 L568.6,275.5 L571.2,275.7 L573.8,275.8 L576.5,276.0 L579.1,276.1 L581.7,276.2 L584.4,276.3 L587.0,276.5 L589.6,276.6 L592.2,276.7 L594.9,276.8 L597.5,276.9" stroke="#000" stroke-width="3" stroke-dasharray="7.2,5.56"/>
</g>
<g clip-path="url(#cpc)" fill="none" stroke-linejoin="round">
<line x1="113.52" x2="113.52" y1="278.30" y2="547.80" stroke="#858585" stroke-width="0.85"/>
<path d="M58.5,278.3 L58.6,279.0 L58.8,279.6 L58.9,280.3 L59.1,281.0 L59.2,281.7 L59.3,282.3 L59.5,283.0 L59.6,283.6 L59.7,284.3 L59.9,285.0 L60.0,285.6 L60.2,286.3 L60.3,286.9 L60.4,287.6 L60.6,288.2 L60.7,288.9 L60.8,289.5 L61.0,290.2 L61.1,290.8 L61.3,291.5 L61.4,292.1 L61.5,292.8 L61.7,293.4 L61.8,294.0 L62.9,298.9 L63.4,301.3 L63.9,303.6 L65.0,308.3 L66.0,312.8 L67.1,317.3 L68.1,321.7 L68.3,322.3 L69.2,326.0 L70.2,330.2 L71.3,334.4 L72.4,338.4 L73.2,341.5 L73.4,342.4 L74.5,346.3 L75.5,350.2 L76.6,353.9 L77.6,357.6 L78.1,359.1 L78.7,361.3 L79.7,364.8 L80.8,368.3 L81.9,371.7 L82.9,375.1 L83.0,375.2 L84.0,378.4 L85.0,381.6 L86.1,384.8 L87.1,387.9 L87.8,389.9 L88.2,390.9 L89.2,393.9 L90.3,396.9 L91.4,399.7 L92.4,402.6 L92.7,403.4 L93.5,405.3 L94.5,408.1 L95.6,410.7 L96.6,413.3 L97.6,415.8 L97.7,415.9 L98.7,418.4 L99.8,420.9 L100.9,423.3 L101.9,425.7 L102.5,427.0 L103.0,428.0 L104.0,430.3 L105.1,432.6 L106.1,434.8 L107.2,436.9 L108.2,439.0 L109.3,441.1 L110.4,443.1 L111.4,445.1 L112.5,447.1 L113.5,449.0 L114.7,451.0 L115.8,453.0 L116.9,454.8 L118.1,456.6 L119.2,458.4 L120.4,460.0 L121.5,461.6 L122.6,463.1 L123.8,464.6 L124.9,466.1 L126.0,467.5 L127.2,468.8 L128.3,470.1 L129.5,471.4 L130.6,472.6 L131.7,473.7 L132.9,474.9 L134.0,476.0 L135.1,477.1 L136.3,478.1 L137.4,479.1 L138.6,480.1 L139.7,481.1 L140.8,482.0 L142.0,482.9 L143.1,483.8 L144.3,484.6 L145.4,485.5 L146.5,486.3 L149.2,488.1 L151.8,489.8 L154.4,491.4 L157.1,492.9 L159.7,494.4 L162.3,495.7 L165.0,497.0 L167.6,498.3 L170.2,499.5 L172.8,500.6 L175.5,501.7 L178.1,502.7 L180.7,503.7 L183.4,504.6 L186.0,505.5 L188.6,506.4 L191.3,507.2 L193.9,508.0 L196.5,508.8 L199.2,509.5 L201.8,510.2 L204.4,510.9 L207.1,511.6 L209.7,512.2 L212.3,512.9 L214.9,513.5 L217.6,514.0 L220.2,514.6 L222.8,515.1 L225.5,515.7 L228.1,516.2 L230.7,516.7 L233.4,517.1 L236.0,517.6 L238.6,518.0 L241.3,518.5 L243.9,518.9 L246.5,519.3 L249.2,519.7 L251.8,520.1 L254.4,520.5 L257.1,520.9 L259.7,521.2 L262.3,521.6 L264.9,521.9 L267.6,522.3 L270.2,522.6 L272.8,522.9 L275.5,523.2 L278.1,523.5 L280.7,523.8 L283.4,524.1 L286.0,524.4 L288.6,524.6 L291.3,524.9 L293.9,525.2 L296.5,525.4 L299.2,525.7 L301.8,525.9 L304.4,526.2 L307.0,526.4 L309.7,526.6 L312.3,526.9 L314.9,527.1 L317.6,527.3 L320.2,527.5 L322.8,527.7 L325.5,527.9 L328.1,528.1" stroke="#03036b" stroke-width="1.2"/>
<path d="M58.5,278.3 L58.6,279.0 L58.8,279.6 L58.9,280.3 L59.1,281.0 L59.2,281.7 L59.3,282.3 L59.5,283.0 L59.6,283.6 L59.7,284.3 L59.9,285.0 L60.0,285.6 L60.2,286.3 L60.3,286.9 L60.4,287.6 L60.6,288.2 L60.7,288.9 L60.8,289.5 L61.0,290.2 L61.1,290.8 L61.3,291.5 L61.4,292.1 L61.5,292.8 L61.7,293.4 L61.8,294.0 L62.9,298.9 L63.4,301.3 L63.9,303.6 L65.0,308.3 L66.0,312.8 L67.1,317.3 L68.1,321.7 L68.3,322.3 L69.2,326.0 L70.2,330.2 L71.3,334.4 L72.4,338.4 L73.2,341.5 L73.4,342.4 L74.5,346.3 L75.5,350.2 L76.6,353.9 L77.6,357.6 L78.1,359.1 L78.7,361.3 L79.7,364.8 L80.8,368.3 L81.9,371.7 L82.9,375.1 L83.0,375.2 L84.0,378.4 L85.0,381.6 L86.1,384.8 L87.1,387.9 L87.8,389.9 L88.2,390.9 L89.2,393.9 L90.3,396.9 L91.4,399.7 L92.4,402.6 L92.7,403.4 L93.5,405.3 L94.5,408.1 L95.6,410.7 L96.6,413.3 L97.6,415.8 L97.7,415.9 L98.7,418.4 L99.8,420.9 L100.9,423.3 L101.9,425.7 L102.5,427.0 L103.0,428.0 L104.0,430.3 L105.1,432.6 L106.1,434.8 L107.2,436.9 L108.2,439.0 L109.3,441.1 L110.4,443.1 L111.4,445.1 L112.5,447.1 L113.5,449.0 L114.7,451.4 L115.8,453.7 L116.9,455.9 L118.1,458.0 L119.2,460.0 L120.4,462.0 L121.5,463.8 L122.6,465.6 L123.8,467.3 L124.9,469.0 L126.0,470.6 L127.2,472.1 L128.3,473.6 L129.5,475.0 L130.6,476.4 L131.7,477.7 L132.9,479.0 L134.0,480.3 L135.1,481.5 L136.3,482.6 L137.4,483.8 L138.6,484.9 L139.7,485.9 L140.8,486.9 L142.0,487.9 L143.1,488.9 L144.3,489.8 L145.4,490.8 L146.5,491.7 L149.2,493.6 L151.8,495.4 L154.4,497.2 L157.1,498.8 L159.7,500.3 L162.3,501.8 L165.0,503.1 L167.6,504.4 L170.2,505.7 L172.8,506.8 L175.5,508.0 L178.1,509.0 L180.7,510.0 L183.4,511.0 L186.0,511.9 L188.6,512.8 L191.3,513.6 L193.9,514.4 L196.5,515.2 L199.2,515.9 L201.8,516.6 L204.4,517.3 L207.1,518.0 L209.7,518.6 L212.3,519.2 L214.9,519.8 L217.6,520.4 L220.2,520.9 L222.8,521.4 L225.5,521.9 L228.1,522.4 L230.7,522.9 L233.4,523.4 L236.0,523.8 L238.6,524.2 L241.3,524.6 L243.9,525.0 L246.5,525.4 L249.2,525.8 L251.8,526.2 L254.4,526.5 L257.1,526.9 L259.7,527.2 L262.3,527.5 L264.9,527.8 L267.6,528.2 L270.2,528.5 L272.8,528.7 L275.5,529.0 L278.1,529.3 L280.7,529.6 L283.4,529.8 L286.0,530.1 L288.6,530.3 L291.3,530.6 L293.9,530.8 L296.5,531.1 L299.2,531.3 L301.8,531.5 L304.4,531.7 L307.0,531.9 L309.7,532.1 L312.3,532.3 L314.9,532.5 L317.6,532.7 L320.2,532.9 L322.8,533.1 L325.5,533.3 L328.1,533.4" stroke="#0505cb" stroke-width="1.2"/>
<path d="M58.5,278.3 L58.6,279.0 L58.8,279.6 L58.9,280.3 L59.1,281.0 L59.2,281.7 L59.3,282.3 L59.5,283.0 L59.6,283.6 L59.7,284.3 L59.9,285.0 L60.0,285.6 L60.2,286.3 L60.3,286.9 L60.4,287.6 L60.6,288.2 L60.7,288.9 L60.8,289.5 L61.0,290.2 L61.1,290.8 L61.3,291.5 L61.4,292.1 L61.5,292.8 L61.7,293.4 L61.8,294.0 L62.9,298.9 L63.4,301.3 L63.9,303.6 L65.0,308.3 L66.0,312.8 L67.1,317.3 L68.1,321.7 L68.3,322.3 L69.2,326.0 L70.2,330.2 L71.3,334.4 L72.4,338.4 L73.2,341.5 L73.4,342.4 L74.5,346.3 L75.5,350.2 L76.6,353.9 L77.6,357.6 L78.1,359.1 L78.7,361.3 L79.7,364.8 L80.8,368.3 L81.9,371.7 L82.9,375.1 L83.0,375.2 L84.0,378.4 L85.0,381.6 L86.1,384.8 L87.1,387.9 L87.8,389.9 L88.2,390.9 L89.2,393.9 L90.3,396.9 L91.4,399.7 L92.4,402.6 L92.7,403.4 L93.5,405.3 L94.5,408.1 L95.6,410.7 L96.6,413.3 L97.6,415.8 L97.7,415.9 L98.7,418.4 L99.8,420.9 L100.9,423.3 L101.9,425.7 L102.5,427.0 L103.0,428.0 L104.0,430.3 L105.1,432.6 L106.1,434.8 L107.2,436.9 L108.2,439.0 L109.3,441.1 L110.4,443.1 L111.4,445.1 L112.5,447.1 L113.5,449.0 L114.7,451.9 L115.8,454.6 L116.9,457.2 L118.1,459.6 L119.2,462.0 L120.4,464.3 L121.5,466.4 L122.6,468.5 L123.8,470.4 L124.9,472.3 L126.0,474.1 L127.2,475.9 L128.3,477.6 L129.5,479.2 L130.6,480.7 L131.7,482.2 L132.9,483.6 L134.0,485.0 L135.1,486.4 L136.3,487.6 L137.4,488.9 L138.6,490.1 L139.7,491.2 L140.8,492.4 L142.0,493.4 L143.1,494.5 L144.3,495.5 L145.4,496.5 L146.5,497.4 L149.2,499.5 L151.8,501.5 L154.4,503.3 L157.1,505.0 L159.7,506.6 L162.3,508.1 L165.0,509.5 L167.6,510.8 L170.2,512.1 L172.8,513.2 L175.5,514.4 L178.1,515.4 L180.7,516.4 L183.4,517.4 L186.0,518.3 L188.6,519.1 L191.3,520.0 L193.9,520.7 L196.5,521.5 L199.2,522.2 L201.8,522.9 L204.4,523.5 L207.1,524.2 L209.7,524.8 L212.3,525.3 L214.9,525.9 L217.6,526.4 L220.2,526.9 L222.8,527.4 L225.5,527.9 L228.1,528.3 L230.7,528.8 L233.4,529.2 L236.0,529.6 L238.6,530.0 L241.3,530.3 L243.9,530.7 L246.5,531.1 L249.2,531.4 L251.8,531.7 L254.4,532.0 L257.1,532.3 L259.7,532.6 L262.3,532.9 L264.9,533.2 L267.6,533.5 L270.2,533.7 L272.8,534.0 L275.5,534.2 L278.1,534.5 L280.7,534.7 L283.4,534.9 L286.0,535.2 L288.6,535.4 L291.3,535.6 L293.9,535.8 L296.5,536.0 L299.2,536.2 L301.8,536.4 L304.4,536.6 L307.0,536.7 L309.7,536.9 L312.3,537.1 L314.9,537.2 L317.6,537.4 L320.2,537.6 L322.8,537.7 L325.5,537.9 L328.1,538.0" stroke="#0d4cde" stroke-width="1.2"/>
<path d="M58.5,278.3 L58.6,279.0 L58.8,279.6 L58.9,280.3 L59.1,281.0 L59.2,281.7 L59.3,282.3 L59.5,283.0 L59.6,283.6 L59.7,284.3 L59.9,285.0 L60.0,285.6 L60.2,286.3 L60.3,286.9 L60.4,287.6 L60.6,288.2 L60.7,288.9 L60.8,289.5 L61.0,290.2 L61.1,290.8 L61.3,291.5 L61.4,292.1 L61.5,292.8 L61.7,293.4 L61.8,294.0 L62.9,298.9 L63.4,301.3 L63.9,303.6 L65.0,308.3 L66.0,312.8 L67.1,317.3 L68.1,321.7 L68.3,322.3 L69.2,326.0 L70.2,330.2 L71.3,334.4 L72.4,338.4 L73.2,341.5 L73.4,342.4 L74.5,346.3 L75.5,350.2 L76.6,353.9 L77.6,357.6 L78.1,359.1 L78.7,361.3 L79.7,364.8 L80.8,368.3 L81.9,371.7 L82.9,375.1 L83.0,375.2 L84.0,378.4 L85.0,381.6 L86.1,384.8 L87.1,387.9 L87.8,389.9 L88.2,390.9 L89.2,393.9 L90.3,396.9 L91.4,399.7 L92.4,402.6 L92.7,403.4 L93.5,405.3 L94.5,408.1 L95.6,410.7 L96.6,413.3 L97.6,415.8 L97.7,415.9 L98.7,418.4 L99.8,420.9 L100.9,423.3 L101.9,425.7 L102.5,427.0 L103.0,428.0 L104.0,430.3 L105.1,432.6 L106.1,434.8 L107.2,436.9 L108.2,439.0 L109.3,441.1 L110.4,443.1 L111.4,445.1 L112.5,447.1 L113.5,449.0 L114.7,452.4 L115.8,455.6 L116.9,458.7 L118.1,461.5 L119.2,464.3 L120.4,466.9 L121.5,469.4 L122.6,471.7 L123.8,474.0 L124.9,476.1 L126.0,478.2 L127.2,480.1 L128.3,482.0 L129.5,483.8 L130.6,485.5 L131.7,487.2 L132.9,488.7 L134.0,490.3 L135.1,491.7 L136.3,493.1 L137.4,494.4 L138.6,495.7 L139.7,497.0 L140.8,498.2 L142.0,499.3 L143.1,500.4 L144.3,501.5 L145.4,502.6 L146.5,503.6 L149.2,505.7 L151.8,507.8 L154.4,509.6 L157.1,511.4 L159.7,513.0 L162.3,514.5 L165.0,515.9 L167.6,517.2 L170.2,518.4 L172.8,519.6 L175.5,520.7 L178.1,521.7 L180.7,522.7 L183.4,523.6 L186.0,524.4 L188.6,525.3 L191.3,526.0 L193.9,526.8 L196.5,527.5 L199.2,528.1 L201.8,528.7 L204.4,529.3 L207.1,529.9 L209.7,530.4 L212.3,531.0 L214.9,531.5 L217.6,531.9 L220.2,532.4 L222.8,532.8 L225.5,533.2 L228.1,533.6 L230.7,534.0 L233.4,534.4 L236.0,534.7 L238.6,535.1 L241.3,535.4 L243.9,535.7 L246.5,536.0 L249.2,536.3 L251.8,536.6 L254.4,536.8 L257.1,537.1 L259.7,537.3 L262.3,537.6 L264.9,537.8 L267.6,538.0 L270.2,538.2 L272.8,538.5 L275.5,538.7 L278.1,538.9 L280.7,539.0 L283.4,539.2 L286.0,539.4 L288.6,539.6 L291.3,539.8 L293.9,539.9 L296.5,540.1 L299.2,540.2 L301.8,540.4 L304.4,540.5 L307.0,540.7 L309.7,540.8 L312.3,540.9 L314.9,541.1 L317.6,541.2 L320.2,541.3 L322.8,541.4 L325.5,541.5 L328.1,541.7" stroke="#18a9e9" stroke-width="1.2"/>
<path d="M58.5,278.3 L58.6,279.0 L58.8,279.6 L58.9,280.3 L59.1,281.0 L59.2,281.7 L59.3,282.3 L59.5,283.0 L59.6,283.6 L59.7,284.3 L59.9,285.0 L60.0,285.6 L60.2,286.3 L60.3,286.9 L60.4,287.6 L60.6,288.2 L60.7,288.9 L60.8,289.5 L61.0,290.2 L61.1,290.8 L61.3,291.5 L61.4,292.1 L61.5,292.8 L61.7,293.4 L61.8,294.0 L62.9,298.9 L63.4,301.3 L63.9,303.6 L65.0,308.3 L66.0,312.8 L67.1,317.3 L68.1,321.7 L68.3,322.3 L69.2,326.0 L70.2,330.2 L71.3,334.4 L72.4,338.4 L73.2,341.5 L73.4,342.4 L74.5,346.3 L75.5,350.2 L76.6,353.9 L77.6,357.6 L78.1,359.1 L78.7,361.3 L79.7,364.8 L80.8,368.3 L81.9,371.7 L82.9,375.1 L83.0,375.2 L84.0,378.4 L85.0,381.6 L86.1,384.8 L87.1,387.9 L87.8,389.9 L88.2,390.9 L89.2,393.9 L90.3,396.9 L91.4,399.7 L92.4,402.6 L92.7,403.4 L93.5,405.3 L94.5,408.1 L95.6,410.7 L96.6,413.3 L97.6,415.8 L97.7,415.9 L98.7,418.4 L99.8,420.9 L100.9,423.3 L101.9,425.7 L102.5,427.0 L103.0,428.0 L104.0,430.3 L105.1,432.6 L106.1,434.8 L107.2,436.9 L108.2,439.0 L109.3,441.1 L110.4,443.1 L111.4,445.1 L112.5,447.1 L113.5,449.0 L114.7,453.1 L115.8,456.8 L116.9,460.4 L118.1,463.8 L119.2,466.9 L120.4,469.9 L121.5,472.8 L122.6,475.4 L123.8,478.0 L124.9,480.4 L126.0,482.7 L127.2,484.9 L128.3,486.9 L129.5,488.9 L130.6,490.8 L131.7,492.6 L132.9,494.3 L134.0,495.9 L135.1,497.5 L136.3,499.0 L137.4,500.4 L138.6,501.8 L139.7,503.1 L140.8,504.3 L142.0,505.5 L143.1,506.7 L144.3,507.8 L145.4,508.9 L146.5,509.9 L149.2,512.1 L151.8,514.2 L154.4,516.0 L157.1,517.7 L159.7,519.3 L162.3,520.8 L165.0,522.2 L167.6,523.4 L170.2,524.6 L172.8,525.7 L175.5,526.7 L178.1,527.7 L180.7,528.5 L183.4,529.4 L186.0,530.2 L188.6,530.9 L191.3,531.6 L193.9,532.2 L196.5,532.9 L199.2,533.4 L201.8,534.0 L204.4,534.5 L207.1,535.0 L209.7,535.5 L212.3,535.9 L214.9,536.3 L217.6,536.7 L220.2,537.1 L222.8,537.5 L225.5,537.8 L228.1,538.1 L230.7,538.5 L233.4,538.8 L236.0,539.0 L238.6,539.3 L241.3,539.6 L243.9,539.8 L246.5,540.1 L249.2,540.3 L251.8,540.5 L254.4,540.7 L257.1,540.9 L259.7,541.1 L262.3,541.3 L264.9,541.5 L267.6,541.7 L270.2,541.8 L272.8,542.0 L275.5,542.2 L278.1,542.3 L280.7,542.5 L283.4,542.6 L286.0,542.7 L288.6,542.9 L291.3,543.0 L293.9,543.1 L296.5,543.2 L299.2,543.3 L301.8,543.4 L304.4,543.6 L307.0,543.7 L309.7,543.8 L312.3,543.9 L314.9,543.9 L317.6,544.0 L320.2,544.1 L322.8,544.2 L325.5,544.3 L328.1,544.4" stroke="#43f2ca" stroke-width="1.2"/>
<path d="M58.5,278.3 L58.6,279.0 L58.8,279.6 L58.9,280.3 L59.1,281.0 L59.2,281.7 L59.3,282.3 L59.5,283.0 L59.6,283.6 L59.7,284.3 L59.9,285.0 L60.0,285.6 L60.2,286.3 L60.3,286.9 L60.4,287.6 L60.6,288.2 L60.7,288.9 L60.8,289.5 L61.0,290.2 L61.1,290.8 L61.3,291.5 L61.4,292.1 L61.5,292.8 L61.7,293.4 L61.8,294.0 L62.9,298.9 L63.4,301.3 L63.9,303.6 L65.0,308.3 L66.0,312.8 L67.1,317.3 L68.1,321.7 L68.3,322.3 L69.2,326.0 L70.2,330.2 L71.3,334.4 L72.4,338.4 L73.2,341.5 L73.4,342.4 L74.5,346.3 L75.5,350.2 L76.6,353.9 L77.6,357.6 L78.1,359.1 L78.7,361.3 L79.7,364.8 L80.8,368.3 L81.9,371.7 L82.9,375.1 L83.0,375.2 L84.0,378.4 L85.0,381.6 L86.1,384.8 L87.1,387.9 L87.8,389.9 L88.2,390.9 L89.2,393.9 L90.3,396.9 L91.4,399.7 L92.4,402.6 L92.7,403.4 L93.5,405.3 L94.5,408.1 L95.6,410.7 L96.6,413.3 L97.6,415.8 L97.7,415.9 L98.7,418.4 L99.8,420.9 L100.9,423.3 L101.9,425.7 L102.5,427.0 L103.0,428.0 L104.0,430.3 L105.1,432.6 L106.1,434.8 L107.2,436.9 L108.2,439.0 L109.3,441.1 L110.4,443.1 L111.4,445.1 L112.5,447.1 L113.5,449.0 L114.7,453.8 L115.8,458.3 L116.9,462.4 L118.1,466.3 L119.2,470.0 L120.4,473.4 L121.5,476.6 L122.6,479.6 L123.8,482.5 L124.9,485.2 L126.0,487.7 L127.2,490.1 L128.3,492.4 L129.5,494.5 L130.6,496.5 L131.7,498.4 L132.9,500.3 L134.0,502.0 L135.1,503.6 L136.3,505.2 L137.4,506.7 L138.6,508.1 L139.7,509.4 L140.8,510.7 L142.0,511.9 L143.1,513.1 L144.3,514.2 L145.4,515.3 L146.5,516.3 L149.2,518.5 L151.8,520.5 L154.4,522.3 L157.1,523.9 L159.7,525.4 L162.3,526.8 L165.0,528.1 L167.6,529.2 L170.2,530.3 L172.8,531.3 L175.5,532.2 L178.1,533.0 L180.7,533.8 L183.4,534.5 L186.0,535.2 L188.6,535.9 L191.3,536.4 L193.9,537.0 L196.5,537.5 L199.2,538.0 L201.8,538.5 L204.4,538.9 L207.1,539.3 L209.7,539.7 L212.3,540.0 L214.9,540.3 L217.6,540.7 L220.2,541.0 L222.8,541.2 L225.5,541.5 L228.1,541.8 L230.7,542.0 L233.4,542.2 L236.0,542.5 L238.6,542.7 L241.3,542.9 L243.9,543.0 L246.5,543.2 L249.2,543.4 L251.8,543.6 L254.4,543.7 L257.1,543.9 L259.7,544.0 L262.3,544.1 L264.9,544.3 L267.6,544.4 L270.2,544.5 L272.8,544.6 L275.5,544.7 L278.1,544.8 L280.7,544.9 L283.4,545.0 L286.0,545.1 L288.6,545.2 L291.3,545.3 L293.9,545.4 L296.5,545.5 L299.2,545.5 L301.8,545.6 L304.4,545.7 L307.0,545.8 L309.7,545.8 L312.3,545.9 L314.9,545.9 L317.6,546.0 L320.2,546.1 L322.8,546.1 L325.5,546.2 L328.1,546.2" stroke="#8bf588" stroke-width="1.2"/>
<path d="M58.5,278.3 L58.6,279.0 L58.8,279.6 L58.9,280.3 L59.1,281.0 L59.2,281.7 L59.3,282.3 L59.5,283.0 L59.6,283.6 L59.7,284.3 L59.9,285.0 L60.0,285.6 L60.2,286.3 L60.3,286.9 L60.4,287.6 L60.6,288.2 L60.7,288.9 L60.8,289.5 L61.0,290.2 L61.1,290.8 L61.3,291.5 L61.4,292.1 L61.5,292.8 L61.7,293.4 L61.8,294.0 L62.9,298.9 L63.4,301.3 L63.9,303.6 L65.0,308.3 L66.0,312.8 L67.1,317.3 L68.1,321.7 L68.3,322.3 L69.2,326.0 L70.2,330.2 L71.3,334.4 L72.4,338.4 L73.2,341.5 L73.4,342.4 L74.5,346.3 L75.5,350.2 L76.6,353.9 L77.6,357.6 L78.1,359.1 L78.7,361.3 L79.7,364.8 L80.8,368.3 L81.9,371.7 L82.9,375.1 L83.0,375.2 L84.0,378.4 L85.0,381.6 L86.1,384.8 L87.1,387.9 L87.8,389.9 L88.2,390.9 L89.2,393.9 L90.3,396.9 L91.4,399.7 L92.4,402.6 L92.7,403.4 L93.5,405.3 L94.5,408.1 L95.6,410.7 L96.6,413.3 L97.6,415.8 L97.7,415.9 L98.7,418.4 L99.8,420.9 L100.9,423.3 L101.9,425.7 L102.5,427.0 L103.0,428.0 L104.0,430.3 L105.1,432.6 L106.1,434.8 L107.2,436.9 L108.2,439.0 L109.3,441.1 L110.4,443.1 L111.4,445.1 L112.5,447.1 L113.5,449.0 L114.7,454.7 L115.8,459.9 L116.9,464.8 L118.1,469.3 L119.2,473.5 L120.4,477.3 L121.5,481.0 L122.6,484.3 L123.8,487.5 L124.9,490.4 L126.0,493.2 L127.2,495.8 L128.3,498.2 L129.5,500.5 L130.6,502.6 L131.7,504.6 L132.9,506.5 L134.0,508.3 L135.1,510.0 L136.3,511.6 L137.4,513.1 L138.6,514.5 L139.7,515.8 L140.8,517.1 L142.0,518.3 L143.1,519.5 L144.3,520.5 L145.4,521.6 L146.5,522.6 L149.2,524.6 L151.8,526.5 L154.4,528.2 L157.1,529.7 L159.7,531.1 L162.3,532.3 L165.0,533.4 L167.6,534.4 L170.2,535.3 L172.8,536.2 L175.5,537.0 L178.1,537.7 L180.7,538.3 L183.4,538.9 L186.0,539.5 L188.6,540.0 L191.3,540.4 L193.9,540.9 L196.5,541.3 L199.2,541.7 L201.8,542.0 L204.4,542.3 L207.1,542.6 L209.7,542.9 L212.3,543.2 L214.9,543.4 L217.6,543.7 L220.2,543.9 L222.8,544.1 L225.5,544.3 L228.1,544.5 L230.7,544.6 L233.4,544.8 L236.0,544.9 L238.6,545.1 L241.3,545.2 L243.9,545.3 L246.5,545.5 L249.2,545.6 L251.8,545.7 L254.4,545.8 L257.1,545.9 L259.7,546.0 L262.3,546.1 L264.9,546.2 L267.6,546.2 L270.2,546.3 L272.8,546.4 L275.5,546.5 L278.1,546.5 L280.7,546.6 L283.4,546.6 L286.0,546.7 L288.6,546.8 L291.3,546.8 L293.9,546.9 L296.5,546.9 L299.2,547.0 L301.8,547.0 L304.4,547.0 L307.0,547.1 L309.7,547.1 L312.3,547.2 L314.9,547.2 L317.6,547.2 L320.2,547.3 L322.8,547.3 L325.5,547.3 L328.1,547.4" stroke="#cff849" stroke-width="1.2"/>
<path d="M58.5,278.3 L58.6,279.0 L58.8,279.6 L58.9,280.3 L59.1,281.0 L59.2,281.7 L59.3,282.3 L59.5,283.0 L59.6,283.6 L59.7,284.3 L59.9,285.0 L60.0,285.6 L60.2,286.3 L60.3,286.9 L60.4,287.6 L60.6,288.2 L60.7,288.9 L60.8,289.5 L61.0,290.2 L61.1,290.8 L61.3,291.5 L61.4,292.1 L61.5,292.8 L61.7,293.4 L61.8,294.0 L62.9,298.9 L63.4,301.3 L63.9,303.6 L65.0,308.3 L66.0,312.8 L67.1,317.3 L68.1,321.7 L68.3,322.3 L69.2,326.0 L70.2,330.2 L71.3,334.4 L72.4,338.4 L73.2,341.5 L73.4,342.4 L74.5,346.3 L75.5,350.2 L76.6,353.9 L77.6,357.6 L78.1,359.1 L78.7,361.3 L79.7,364.8 L80.8,368.3 L81.9,371.7 L82.9,375.1 L83.0,375.2 L84.0,378.4 L85.0,381.6 L86.1,384.8 L87.1,387.9 L87.8,389.9 L88.2,390.9 L89.2,393.9 L90.3,396.9 L91.4,399.7 L92.4,402.6 L92.7,403.4 L93.5,405.3 L94.5,408.1 L95.6,410.7 L96.6,413.3 L97.6,415.8 L97.7,415.9 L98.7,418.4 L99.8,420.9 L100.9,423.3 L101.9,425.7 L102.5,427.0 L103.0,428.0 L104.0,430.3 L105.1,432.6 L106.1,434.8 L107.2,436.9 L108.2,439.0 L109.3,441.1 L110.4,443.1 L111.4,445.1 L112.5,447.1 L113.5,449.0 L114.7,455.7 L115.8,461.9 L116.9,467.5 L118.1,472.7 L119.2,477.4 L120.4,481.8 L121.5,485.8 L122.6,489.5 L123.8,492.9 L124.9,496.1 L126.0,499.1 L127.2,501.8 L128.3,504.3 L129.5,506.7 L130.6,508.9 L131.7,511.0 L132.9,512.9 L134.0,514.7 L135.1,516.4 L136.3,517.9 L137.4,519.4 L138.6,520.8 L139.7,522.1 L140.8,523.3 L142.0,524.5 L143.1,525.5 L144.3,526.6 L145.4,527.5 L146.5,528.4 L149.2,530.3 L151.8,532.0 L154.4,533.5 L157.1,534.8 L159.7,536.0 L162.3,537.0 L165.0,538.0 L167.6,538.8 L170.2,539.6 L172.8,540.2 L175.5,540.8 L178.1,541.4 L180.7,541.9 L183.4,542.3 L186.0,542.8 L188.6,543.1 L191.3,543.5 L193.9,543.8 L196.5,544.1 L199.2,544.4 L201.8,544.6 L204.4,544.8 L207.1,545.1 L209.7,545.3 L212.3,545.4 L214.9,545.6 L217.6,545.8 L220.2,545.9 L222.8,546.0 L225.5,546.2 L228.1,546.3 L230.7,546.4 L233.4,546.5 L236.0,546.6 L238.6,546.7 L241.3,546.8 L243.9,546.8 L246.5,546.9 L249.2,547.0 L251.8,547.0 L254.4,547.1 L257.1,547.2 L259.7,547.2 L262.3,547.3 L264.9,547.3 L267.6,547.4 L270.2,547.4 L272.8,547.4 L275.5,547.5 L278.1,547.5 L280.7,547.6 L283.4,547.6 L286.0,547.6 L288.6,547.6 L291.3,547.7 L293.9,547.7 L296.5,547.7 L299.2,547.8 L301.8,547.8 L304.4,547.8 L307.0,547.8 L309.7,547.8 L312.3,547.9 L314.9,547.9 L317.6,547.9 L320.2,547.9 L322.8,547.9 L325.5,547.9 L328.1,548.0" stroke="#f4c422" stroke-width="1.2"/>
<path d="M58.5,278.3 L58.6,279.0 L58.8,279.6 L58.9,280.3 L59.1,281.0 L59.2,281.7 L59.3,282.3 L59.5,283.0 L59.6,283.6 L59.7,284.3 L59.9,285.0 L60.0,285.6 L60.2,286.3 L60.3,286.9 L60.4,287.6 L60.6,288.2 L60.7,288.9 L60.8,289.5 L61.0,290.2 L61.1,290.8 L61.3,291.5 L61.4,292.1 L61.5,292.8 L61.7,293.4 L61.8,294.0 L62.9,298.9 L63.4,301.3 L63.9,303.6 L65.0,308.3 L66.0,312.8 L67.1,317.3 L68.1,321.7 L68.3,322.3 L69.2,326.0 L70.2,330.2 L71.3,334.4 L72.4,338.4 L73.2,341.5 L73.4,342.4 L74.5,346.3 L75.5,350.2 L76.6,353.9 L77.6,357.6 L78.1,359.1 L78.7,361.3 L79.7,364.8 L80.8,368.3 L81.9,371.7 L82.9,375.1 L83.0,375.2 L84.0,378.4 L85.0,381.6 L86.1,384.8 L87.1,387.9 L87.8,389.9 L88.2,390.9 L89.2,393.9 L90.3,396.9 L91.4,399.7 L92.4,402.6 L92.7,403.4 L93.5,405.3 L94.5,408.1 L95.6,410.7 L96.6,413.3 L97.6,415.8 L97.7,415.9 L98.7,418.4 L99.8,420.9 L100.9,423.3 L101.9,425.7 L102.5,427.0 L103.0,428.0 L104.0,430.3 L105.1,432.6 L106.1,434.8 L107.2,436.9 L108.2,439.0 L109.3,441.1 L110.4,443.1 L111.4,445.1 L112.5,447.1 L113.5,449.0 L114.7,457.0 L115.8,464.2 L116.9,470.6 L118.1,476.5 L119.2,481.8 L120.4,486.7 L121.5,491.1 L122.6,495.1 L123.8,498.8 L124.9,502.2 L126.0,505.3 L127.2,508.1 L128.3,510.7 L129.5,513.1 L130.6,515.3 L131.7,517.4 L132.9,519.3 L134.0,521.0 L135.1,522.6 L136.3,524.1 L137.4,525.5 L138.6,526.8 L139.7,528.0 L140.8,529.1 L142.0,530.2 L143.1,531.2 L144.3,532.1 L145.4,532.9 L146.5,533.7 L149.2,535.4 L151.8,536.8 L154.4,538.1 L157.1,539.1 L159.7,540.1 L162.3,540.9 L165.0,541.6 L167.6,542.3 L170.2,542.8 L172.8,543.3 L175.5,543.8 L178.1,544.2 L180.7,544.5 L183.4,544.9 L186.0,545.2 L188.6,545.4 L191.3,545.6 L193.9,545.9 L196.5,546.0 L199.2,546.2 L201.8,546.4 L204.4,546.5 L207.1,546.7 L209.7,546.8 L212.3,546.9 L214.9,547.0 L217.6,547.1 L220.2,547.2 L222.8,547.2 L225.5,547.3 L228.1,547.4 L230.7,547.4 L233.4,547.5 L236.0,547.6 L238.6,547.6 L241.3,547.6 L243.9,547.7 L246.5,547.7 L249.2,547.8 L251.8,547.8 L254.4,547.8 L257.1,547.9 L259.7,547.9 L262.3,547.9 L264.9,547.9 L267.6,548.0 L270.2,548.0 L272.8,548.0 L275.5,548.0 L278.1,548.0 L280.7,548.1 L283.4,548.1 L286.0,548.1 L288.6,548.1 L291.3,548.1 L293.9,548.1 L296.5,548.1 L299.2,548.2 L301.8,548.2 L304.4,548.2 L307.0,548.2 L309.7,548.2 L312.3,548.2 L314.9,548.2 L317.6,548.2 L320.2,548.2 L322.8,548.2 L325.5,548.2 L328.1,548.2" stroke="#ea6e19" stroke-width="1.2"/>
<path d="M58.5,278.3 L58.6,279.0 L58.8,279.6 L58.9,280.3 L59.1,281.0 L59.2,281.7 L59.3,282.3 L59.5,283.0 L59.6,283.6 L59.7,284.3 L59.9,285.0 L60.0,285.6 L60.2,286.3 L60.3,286.9 L60.4,287.6 L60.6,288.2 L60.7,288.9 L60.8,289.5 L61.0,290.2 L61.1,290.8 L61.3,291.5 L61.4,292.1 L61.5,292.8 L61.7,293.4 L61.8,294.0 L62.9,298.9 L63.4,301.3 L63.9,303.6 L65.0,308.3 L66.0,312.8 L67.1,317.3 L68.1,321.7 L68.3,322.3 L69.2,326.0 L70.2,330.2 L71.3,334.4 L72.4,338.4 L73.2,341.5 L73.4,342.4 L74.5,346.3 L75.5,350.2 L76.6,353.9 L77.6,357.6 L78.1,359.1 L78.7,361.3 L79.7,364.8 L80.8,368.3 L81.9,371.7 L82.9,375.1 L83.0,375.2 L84.0,378.4 L85.0,381.6 L86.1,384.8 L87.1,387.9 L87.8,389.9 L88.2,390.9 L89.2,393.9 L90.3,396.9 L91.4,399.7 L92.4,402.6 L92.7,403.4 L93.5,405.3 L94.5,408.1 L95.6,410.7 L96.6,413.3 L97.6,415.8 L97.7,415.9 L98.7,418.4 L99.8,420.9 L100.9,423.3 L101.9,425.7 L102.5,427.0 L103.0,428.0 L104.0,430.3 L105.1,432.6 L106.1,434.8 L107.2,436.9 L108.2,439.0 L109.3,441.1 L110.4,443.1 L111.4,445.1 L112.5,447.1 L113.5,449.0 L114.7,458.4 L115.8,466.8 L116.9,474.2 L118.1,480.8 L119.2,486.8 L120.4,492.1 L121.5,496.8 L122.6,501.1 L123.8,505.0 L124.9,508.5 L126.0,511.6 L127.2,514.5 L128.3,517.1 L129.5,519.5 L130.6,521.6 L131.7,523.6 L132.9,525.4 L134.0,527.0 L135.1,528.5 L136.3,529.9 L137.4,531.1 L138.6,532.3 L139.7,533.4 L140.8,534.3 L142.0,535.2 L143.1,536.1 L144.3,536.9 L145.4,537.6 L146.5,538.2 L149.2,539.6 L151.8,540.7 L154.4,541.7 L157.1,542.5 L159.7,543.2 L162.3,543.8 L165.0,544.4 L167.6,544.8 L170.2,545.2 L172.8,545.5 L175.5,545.8 L178.1,546.1 L180.7,546.3 L183.4,546.5 L186.0,546.7 L188.6,546.9 L191.3,547.0 L193.9,547.1 L196.5,547.3 L199.2,547.4 L201.8,547.4 L204.4,547.5 L207.1,547.6 L209.7,547.7 L212.3,547.7 L214.9,547.8 L217.6,547.8 L220.2,547.9 L222.8,547.9 L225.5,547.9 L228.1,548.0 L230.7,548.0 L233.4,548.0 L236.0,548.1 L238.6,548.1 L241.3,548.1 L243.9,548.1 L246.5,548.1 L249.2,548.2 L251.8,548.2 L254.4,548.2 L257.1,548.2 L259.7,548.2 L262.3,548.2 L264.9,548.2 L267.6,548.2 L270.2,548.3 L272.8,548.3 L275.5,548.3 L278.1,548.3 L280.7,548.3 L283.4,548.3 L286.0,548.3 L288.6,548.3 L291.3,548.3 L293.9,548.3 L296.5,548.3 L299.2,548.3 L301.8,548.3 L304.4,548.3 L307.0,548.3 L309.7,548.3 L312.3,548.3 L314.9,548.3 L317.6,548.3 L320.2,548.3 L322.8,548.4 L325.5,548.4 L328.1,548.4" stroke="#d4140e" stroke-width="1.2"/>
<path d="M58.5,278.3 L58.6,279.0 L58.8,279.6 L58.9,280.3 L59.1,281.0 L59.2,281.7 L59.3,282.3 L59.5,283.0 L59.6,283.6 L59.7,284.3 L59.9,285.0 L60.0,285.6 L60.2,286.3 L60.3,286.9 L60.4,287.6 L60.6,288.2 L60.7,288.9 L60.8,289.5 L61.0,290.2 L61.1,290.8 L61.3,291.5 L61.4,292.1 L61.5,292.8 L61.7,293.4 L61.8,294.0 L62.9,298.9 L63.4,301.3 L63.9,303.6 L65.0,308.3 L66.0,312.8 L67.1,317.3 L68.1,321.7 L68.3,322.3 L69.2,326.0 L70.2,330.2 L71.3,334.4 L72.4,338.4 L73.2,341.5 L73.4,342.4 L74.5,346.3 L75.5,350.2 L76.6,353.9 L77.6,357.6 L78.1,359.1 L78.7,361.3 L79.7,364.8 L80.8,368.3 L81.9,371.7 L82.9,375.1 L83.0,375.2 L84.0,378.4 L85.0,381.6 L86.1,384.8 L87.1,387.9 L87.8,389.9 L88.2,390.9 L89.2,393.9 L90.3,396.9 L91.4,399.7 L92.4,402.6 L92.7,403.4 L93.5,405.3 L94.5,408.1 L95.6,410.7 L96.6,413.3 L97.6,415.8 L97.7,415.9 L98.7,418.4 L99.8,420.9 L100.9,423.3 L101.9,425.7 L102.5,427.0 L103.0,428.0 L104.0,430.3 L105.1,432.6 L106.1,434.8 L107.2,436.9 L108.2,439.0 L109.3,441.1 L110.4,443.1 L111.4,445.1 L112.5,447.1 L113.5,449.0 L114.7,451.1 L115.8,453.1 L116.9,455.0 L118.1,456.9 L119.2,458.8 L120.4,460.6 L121.5,462.4 L122.6,464.2 L123.8,465.9 L124.9,467.6 L126.0,469.3 L127.2,470.9 L128.3,472.5 L129.5,474.0 L130.6,475.5 L131.7,477.0 L132.9,478.5 L134.0,479.9 L135.1,481.3 L136.3,482.7 L137.4,484.1 L138.6,485.4 L139.7,486.7 L140.8,487.9 L142.0,489.2 L143.1,490.4 L144.3,491.6 L145.4,492.7 L146.5,493.9 L149.2,496.4 L151.8,498.8 L154.4,501.2 L157.1,503.4 L159.7,505.5 L162.3,507.5 L165.0,509.4 L167.6,511.2 L170.2,512.9 L172.8,514.6 L175.5,516.2 L178.1,517.7 L180.7,519.1 L183.4,520.5 L186.0,521.8 L188.6,523.0 L191.3,524.2 L193.9,525.3 L196.5,526.4 L199.2,527.4 L201.8,528.4 L204.4,529.4 L207.1,530.2 L209.7,531.1 L212.3,531.9 L214.9,532.7 L217.6,533.4 L220.2,534.1 L222.8,534.8 L225.5,535.4 L228.1,536.0 L230.7,536.6 L233.4,537.1 L236.0,537.7 L238.6,538.2 L241.3,538.7 L243.9,539.1 L246.5,539.5 L249.2,540.0 L251.8,540.3 L254.4,540.7 L257.1,541.1 L259.7,541.4 L262.3,541.8 L264.9,542.1 L267.6,542.4 L270.2,542.6 L272.8,542.9 L275.5,543.2 L278.1,543.4 L280.7,543.6 L283.4,543.9 L286.0,544.1 L288.6,544.3 L291.3,544.5 L293.9,544.7 L296.5,544.8 L299.2,545.0 L301.8,545.2 L304.4,545.3 L307.0,545.5 L309.7,545.6 L312.3,545.7 L314.9,545.8 L317.6,546.0 L320.2,546.1 L322.8,546.2 L325.5,546.3 L328.1,546.4" stroke="#000" stroke-width="3" stroke-dasharray="7.2,5.56"/>
</g>
<g clip-path="url(#cpd)" fill="none" stroke-linejoin="round">
<line x1="383.08" x2="383.08" y1="278.30" y2="547.80" stroke="#858585" stroke-width="0.85"/>
<path d="M328.1,278.3 L328.2,279.0 L328.4,279.6 L328.5,280.3 L328.6,281.0 L328.8,281.7 L328.9,282.3 L329.1,283.0 L329.2,283.6 L329.3,284.3 L329.5,285.0 L329.6,285.6 L329.7,286.3 L329.9,286.9 L330.0,287.6 L330.2,288.2 L330.3,288.9 L330.4,289.5 L330.6,290.2 L330.7,290.8 L330.8,291.5 L331.0,292.1 L331.1,292.8 L331.3,293.4 L331.4,294.0 L332.5,298.9 L333.0,301.3 L333.5,303.6 L334.6,308.3 L335.6,312.8 L336.7,317.3 L337.7,321.7 L337.9,322.3 L338.8,326.0 L339.8,330.2 L340.9,334.4 L341.9,338.4 L342.8,341.5 L343.0,342.4 L344.1,346.3 L345.1,350.2 L346.2,353.9 L347.2,357.6 L347.6,359.1 L348.3,361.3 L349.3,364.8 L350.4,368.3 L351.4,371.7 L352.5,375.1 L352.5,375.2 L353.5,378.4 L354.6,381.6 L355.7,384.8 L356.7,387.9 L357.4,389.9 L357.8,390.9 L358.8,393.9 L359.9,396.9 L360.9,399.7 L362.0,402.6 L362.3,403.4 L363.0,405.3 L364.1,408.1 L365.1,410.7 L366.2,413.3 L367.2,415.8 L367.3,415.9 L368.3,418.4 L369.4,420.9 L370.4,423.3 L371.5,425.7 L372.1,427.0 L372.5,428.0 L373.6,430.3 L374.6,432.6 L375.7,434.8 L376.8,436.9 L377.8,439.0 L378.9,441.1 L379.9,443.1 L381.0,445.1 L382.0,447.1 L383.1,449.0 L384.2,451.1 L385.4,453.1 L386.5,455.0 L387.6,456.9 L388.8,458.8 L389.9,460.6 L391.0,462.4 L392.2,464.2 L393.3,465.9 L394.5,467.6 L395.6,469.3 L396.7,470.9 L397.9,472.5 L399.0,474.0 L400.1,475.5 L401.3,477.0 L402.4,478.5 L403.6,479.9 L404.7,481.3 L405.8,482.7 L407.0,484.1 L408.1,485.4 L409.2,486.7 L410.4,487.9 L411.5,489.2 L412.7,490.4 L413.8,491.6 L414.9,492.7 L416.1,493.9 L418.7,496.4 L421.3,498.8 L424.0,501.2 L426.6,503.4 L429.2,505.5 L431.8,507.5 L434.5,509.4 L437.1,511.2 L439.7,512.9 L442.4,514.6 L445.0,516.2 L447.6,517.7 L450.3,519.1 L452.9,520.5 L455.5,521.8 L458.1,523.0 L460.8,524.2 L463.4,525.3 L466.0,526.4 L468.7,527.4 L471.3,528.4 L473.9,529.4 L476.5,530.2 L479.2,531.1 L481.8,531.9 L484.4,532.7 L487.1,533.4 L489.7,534.1 L492.3,534.8 L495.0,535.4 L497.6,536.0 L500.2,536.6 L502.8,537.1 L505.5,537.7 L508.1,538.2 L510.7,538.7 L513.4,539.1 L516.0,539.5 L518.6,540.0 L521.2,540.3 L523.9,540.7 L526.5,541.1 L529.1,541.4 L531.8,541.8 L534.4,542.1 L537.0,542.4 L539.7,542.6 L542.3,542.9 L544.9,543.2 L547.5,543.4 L550.2,543.6 L552.8,543.9 L555.4,544.1 L558.1,544.3 L560.7,544.5 L563.3,544.7 L565.9,544.8 L568.6,545.0 L571.2,545.2 L573.8,545.3 L576.5,545.5 L579.1,545.6 L581.7,545.7 L584.4,545.8 L587.0,546.0 L589.6,546.1 L592.2,546.2 L594.9,546.3 L597.5,546.4" stroke="#03036b" stroke-width="1.2"/>
<path d="M328.1,278.3 L328.2,278.4 L328.4,278.6 L328.5,278.9 L328.6,279.2 L328.8,279.5 L328.9,279.9 L329.1,280.3 L329.2,280.8 L329.3,281.2 L329.5,281.7 L329.6,282.3 L329.7,282.8 L329.9,283.4 L330.0,284.0 L330.2,284.6 L330.3,285.2 L330.4,285.9 L330.6,286.6 L330.7,287.3 L330.8,288.0 L331.0,288.7 L331.1,289.5 L331.3,290.3 L331.4,291.0 L332.5,297.6 L333.0,301.3 L333.5,303.6 L334.6,308.3 L335.6,312.8 L336.7,317.3 L337.7,321.7 L337.9,322.3 L338.8,326.0 L339.8,330.2 L340.9,334.4 L341.9,338.4 L342.8,341.5 L343.0,342.4 L344.1,346.3 L345.1,350.2 L346.2,353.9 L347.2,357.6 L347.6,359.1 L348.3,361.3 L349.3,364.8 L350.4,368.3 L351.4,371.7 L352.5,375.1 L352.5,375.2 L353.5,378.4 L354.6,381.6 L355.7,384.8 L356.7,387.9 L357.4,389.9 L357.8,390.9 L358.8,393.9 L359.9,396.9 L360.9,399.7 L362.0,402.6 L362.3,403.4 L363.0,405.3 L364.1,408.1 L365.1,410.7 L366.2,413.3 L367.2,415.8 L367.3,415.9 L368.3,418.4 L369.4,420.9 L370.4,423.3 L371.5,425.7 L372.1,427.0 L372.5,428.0 L373.6,430.3 L374.6,432.6 L375.7,434.8 L376.8,436.9 L377.8,439.0 L378.9,441.1 L379.9,443.1 L381.0,445.1 L382.0,447.1 L383.1,449.0 L384.2,451.1 L385.4,453.1 L386.5,455.0 L387.6,456.9 L388.8,458.8 L389.9,460.6 L391.0,462.4 L392.2,464.2 L393.3,465.9 L394.5,467.6 L395.6,469.3 L396.7,470.9 L397.9,472.5 L399.0,474.0 L400.1,475.5 L401.3,477.0 L402.4,478.5 L403.6,479.9 L404.7,481.3 L405.8,482.7 L407.0,484.1 L408.1,485.4 L409.2,486.7 L410.4,487.9 L411.5,489.2 L412.7,490.4 L413.8,491.6 L414.9,492.7 L416.1,493.9 L418.7,496.4 L421.3,498.8 L424.0,501.2 L426.6,503.4 L429.2,505.5 L431.8,507.5 L434.5,509.4 L437.1,511.2 L439.7,512.9 L442.4,514.6 L445.0,516.2 L447.6,517.7 L450.3,519.1 L452.9,520.5 L455.5,521.8 L458.1,523.0 L460.8,524.2 L463.4,525.3 L466.0,526.4 L468.7,527.4 L471.3,528.4 L473.9,529.4 L476.5,530.2 L479.2,531.1 L481.8,531.9 L484.4,532.7 L487.1,533.4 L489.7,534.1 L492.3,534.8 L495.0,535.4 L497.6,536.0 L500.2,536.6 L502.8,537.1 L505.5,537.7 L508.1,538.2 L510.7,538.7 L513.4,539.1 L516.0,539.5 L518.6,540.0 L521.2,540.3 L523.9,540.7 L526.5,541.1 L529.1,541.4 L531.8,541.8 L534.4,542.1 L537.0,542.4 L539.7,542.6 L542.3,542.9 L544.9,543.2 L547.5,543.4 L550.2,543.6 L552.8,543.9 L555.4,544.1 L558.1,544.3 L560.7,544.5 L563.3,544.7 L565.9,544.8 L568.6,545.0 L571.2,545.2 L573.8,545.3 L576.5,545.5 L579.1,545.6 L581.7,545.7 L584.4,545.8 L587.0,546.0 L589.6,546.1 L592.2,546.2 L594.9,546.3 L597.5,546.4" stroke="#0505cb" stroke-width="1.2"/>
<path d="M328.1,278.3 L328.2,278.4 L328.4,278.5 L328.5,278.7 L328.6,278.9 L328.8,279.1 L328.9,279.4 L329.1,279.7 L329.2,280.0 L329.3,280.3 L329.5,280.6 L329.6,281.0 L329.7,281.3 L329.9,281.7 L330.0,282.1 L330.2,282.6 L330.3,283.0 L330.4,283.4 L330.6,283.9 L330.7,284.4 L330.8,284.9 L331.0,285.4 L331.1,285.9 L331.3,286.4 L331.4,286.9 L332.5,291.4 L333.0,293.9 L333.5,296.4 L334.6,302.0 L335.6,308.0 L336.7,314.4 L337.7,321.3 L337.9,322.3 L338.8,326.0 L339.8,330.2 L340.9,334.4 L341.9,338.4 L342.8,341.5 L343.0,342.4 L344.1,346.3 L345.1,350.2 L346.2,353.9 L347.2,357.6 L347.6,359.1 L348.3,361.3 L349.3,364.8 L350.4,368.3 L351.4,371.7 L352.5,375.1 L352.5,375.2 L353.5,378.4 L354.6,381.6 L355.7,384.8 L356.7,387.9 L357.4,389.9 L357.8,390.9 L358.8,393.9 L359.9,396.9 L360.9,399.7 L362.0,402.6 L362.3,403.4 L363.0,405.3 L364.1,408.1 L365.1,410.7 L366.2,413.3 L367.2,415.8 L367.3,415.9 L368.3,418.4 L369.4,420.9 L370.4,423.3 L371.5,425.7 L372.1,427.0 L372.5,428.0 L373.6,430.3 L374.6,432.6 L375.7,434.8 L376.8,436.9 L377.8,439.0 L378.9,441.1 L379.9,443.1 L381.0,445.1 L382.0,447.1 L383.1,449.0 L384.2,451.1 L385.4,453.1 L386.5,455.0 L387.6,456.9 L388.8,458.8 L389.9,460.6 L391.0,462.4 L392.2,464.2 L393.3,465.9 L394.5,467.6 L395.6,469.3 L396.7,470.9 L397.9,472.5 L399.0,474.0 L400.1,475.5 L401.3,477.0 L402.4,478.5 L403.6,479.9 L404.7,481.3 L405.8,482.7 L407.0,484.1 L408.1,485.4 L409.2,486.7 L410.4,487.9 L411.5,489.2 L412.7,490.4 L413.8,491.6 L414.9,492.7 L416.1,493.9 L418.7,496.4 L421.3,498.8 L424.0,501.2 L426.6,503.4 L429.2,505.5 L431.8,507.5 L434.5,509.4 L437.1,511.2 L439.7,512.9 L442.4,514.6 L445.0,516.2 L447.6,517.7 L450.3,519.1 L452.9,520.5 L455.5,521.8 L458.1,523.0 L460.8,524.2 L463.4,525.3 L466.0,526.4 L468.7,527.4 L471.3,528.4 L473.9,529.4 L476.5,530.2 L479.2,531.1 L481.8,531.9 L484.4,532.7 L487.1,533.4 L489.7,534.1 L492.3,534.8 L495.0,535.4 L497.6,536.0 L500.2,536.6 L502.8,537.1 L505.5,537.7 L508.1,538.2 L510.7,538.7 L513.4,539.1 L516.0,539.5 L518.6,540.0 L521.2,540.3 L523.9,540.7 L526.5,541.1 L529.1,541.4 L531.8,541.8 L534.4,542.1 L537.0,542.4 L539.7,542.6 L542.3,542.9 L544.9,543.2 L547.5,543.4 L550.2,543.6 L552.8,543.9 L555.4,544.1 L558.1,544.3 L560.7,544.5 L563.3,544.7 L565.9,544.8 L568.6,545.0 L571.2,545.2 L573.8,545.3 L576.5,545.5 L579.1,545.6 L581.7,545.7 L584.4,545.8 L587.0,546.0 L589.6,546.1 L592.2,546.2 L594.9,546.3 L597.5,546.4" stroke="#0d4cde" stroke-width="1.2"/>
<path d="M328.1,278.3 L328.2,278.4 L328.4,278.5 L328.5,278.6 L328.6,278.8 L328.8,278.9 L328.9,279.1 L329.1,279.4 L329.2,279.6 L329.3,279.8 L329.5,280.1 L329.6,280.4 L329.7,280.7 L329.9,281.0 L330.0,281.3 L330.2,281.6 L330.3,282.0 L330.4,282.3 L330.6,282.7 L330.7,283.1 L330.8,283.4 L331.0,283.8 L331.1,284.2 L331.3,284.6 L331.4,285.0 L332.5,288.5 L333.0,290.5 L333.5,292.5 L334.6,296.8 L335.6,301.5 L336.7,306.6 L337.7,311.9 L337.9,312.7 L338.8,317.6 L339.8,323.6 L340.9,329.8 L341.9,336.3 L342.8,341.5 L343.0,342.4 L344.1,346.3 L345.1,350.2 L346.2,353.9 L347.2,357.6 L347.6,359.1 L348.3,361.3 L349.3,364.8 L350.4,368.3 L351.4,371.7 L352.5,375.1 L352.5,375.2 L353.5,378.4 L354.6,381.6 L355.7,384.8 L356.7,387.9 L357.4,389.9 L357.8,390.9 L358.8,393.9 L359.9,396.9 L360.9,399.7 L362.0,402.6 L362.3,403.4 L363.0,405.3 L364.1,408.1 L365.1,410.7 L366.2,413.3 L367.2,415.8 L367.3,415.9 L368.3,418.4 L369.4,420.9 L370.4,423.3 L371.5,425.7 L372.1,427.0 L372.5,428.0 L373.6,430.3 L374.6,432.6 L375.7,434.8 L376.8,436.9 L377.8,439.0 L378.9,441.1 L379.9,443.1 L381.0,445.1 L382.0,447.1 L383.1,449.0 L384.2,451.1 L385.4,453.1 L386.5,455.0 L387.6,456.9 L388.8,458.8 L389.9,460.6 L391.0,462.4 L392.2,464.2 L393.3,465.9 L394.5,467.6 L395.6,469.3 L396.7,470.9 L397.9,472.5 L399.0,474.0 L400.1,475.5 L401.3,477.0 L402.4,478.5 L403.6,479.9 L404.7,481.3 L405.8,482.7 L407.0,484.1 L408.1,485.4 L409.2,486.7 L410.4,487.9 L411.5,489.2 L412.7,490.4 L413.8,491.6 L414.9,492.7 L416.1,493.9 L418.7,496.4 L421.3,498.8 L424.0,501.2 L426.6,503.4 L429.2,505.5 L431.8,507.5 L434.5,509.4 L437.1,511.2 L439.7,512.9 L442.4,514.6 L445.0,516.2 L447.6,517.7 L450.3,519.1 L452.9,520.5 L455.5,521.8 L458.1,523.0 L460.8,524.2 L463.4,525.3 L466.0,526.4 L468.7,527.4 L471.3,528.4 L473.9,529.4 L476.5,530.2 L479.2,531.1 L481.8,531.9 L484.4,532.7 L487.1,533.4 L489.7,534.1 L492.3,534.8 L495.0,535.4 L497.6,536.0 L500.2,536.6 L502.8,537.1 L505.5,537.7 L508.1,538.2 L510.7,538.7 L513.4,539.1 L516.0,539.5 L518.6,540.0 L521.2,540.3 L523.9,540.7 L526.5,541.1 L529.1,541.4 L531.8,541.8 L534.4,542.1 L537.0,542.4 L539.7,542.6 L542.3,542.9 L544.9,543.2 L547.5,543.4 L550.2,543.6 L552.8,543.9 L555.4,544.1 L558.1,544.3 L560.7,544.5 L563.3,544.7 L565.9,544.8 L568.6,545.0 L571.2,545.2 L573.8,545.3 L576.5,545.5 L579.1,545.6 L581.7,545.7 L584.4,545.8 L587.0,546.0 L589.6,546.1 L592.2,546.2 L594.9,546.3 L597.5,546.4" stroke="#18a9e9" stroke-width="1.2"/>
<path d="M328.1,278.3 L328.2,278.3 L328.4,278.4 L328.5,278.5 L328.6,278.7 L328.8,278.8 L328.9,279.0 L329.1,279.2 L329.2,279.4 L329.3,279.6 L329.5,279.8 L329.6,280.0 L329.7,280.3 L329.9,280.5 L330.0,280.8 L330.2,281.1 L330.3,281.3 L330.4,281.6 L330.6,281.9 L330.7,282.2 L330.8,282.6 L331.0,282.9 L331.1,283.2 L331.3,283.6 L331.4,283.9 L332.5,286.8 L333.0,288.4 L333.5,290.1 L334.6,293.7 L335.6,297.6 L336.7,301.8 L337.7,306.2 L337.9,306.9 L338.8,310.9 L339.8,315.9 L340.9,321.1 L341.9,326.5 L342.8,330.8 L343.0,332.1 L344.1,337.9 L345.1,343.9 L346.2,350.1 L347.2,356.5 L347.6,359.1 L348.3,361.3 L349.3,364.8 L350.4,368.3 L351.4,371.7 L352.5,375.1 L352.5,375.2 L353.5,378.4 L354.6,381.6 L355.7,384.8 L356.7,387.9 L357.4,389.9 L357.8,390.9 L358.8,393.9 L359.9,396.9 L360.9,399.7 L362.0,402.6 L362.3,403.4 L363.0,405.3 L364.1,408.1 L365.1,410.7 L366.2,413.3 L367.2,415.8 L367.3,415.9 L368.3,418.4 L369.4,420.9 L370.4,423.3 L371.5,425.7 L372.1,427.0 L372.5,428.0 L373.6,430.3 L374.6,432.6 L375.7,434.8 L376.8,436.9 L377.8,439.0 L378.9,441.1 L379.9,443.1 L381.0,445.1 L382.0,447.1 L383.1,449.0 L384.2,451.1 L385.4,453.1 L386.5,455.0 L387.6,456.9 L388.8,458.8 L389.9,460.6 L391.0,462.4 L392.2,464.2 L393.3,465.9 L394.5,467.6 L395.6,469.3 L396.7,470.9 L397.9,472.5 L399.0,474.0 L400.1,475.5 L401.3,477.0 L402.4,478.5 L403.6,479.9 L404.7,481.3 L405.8,482.7 L407.0,484.1 L408.1,485.4 L409.2,486.7 L410.4,487.9 L411.5,489.2 L412.7,490.4 L413.8,491.6 L414.9,492.7 L416.1,493.9 L418.7,496.4 L421.3,498.8 L424.0,501.2 L426.6,503.4 L429.2,505.5 L431.8,507.5 L434.5,509.4 L437.1,511.2 L439.7,512.9 L442.4,514.6 L445.0,516.2 L447.6,517.7 L450.3,519.1 L452.9,520.5 L455.5,521.8 L458.1,523.0 L460.8,524.2 L463.4,525.3 L466.0,526.4 L468.7,527.4 L471.3,528.4 L473.9,529.4 L476.5,530.2 L479.2,531.1 L481.8,531.9 L484.4,532.7 L487.1,533.4 L489.7,534.1 L492.3,534.8 L495.0,535.4 L497.6,536.0 L500.2,536.6 L502.8,537.1 L505.5,537.7 L508.1,538.2 L510.7,538.7 L513.4,539.1 L516.0,539.5 L518.6,540.0 L521.2,540.3 L523.9,540.7 L526.5,541.1 L529.1,541.4 L531.8,541.8 L534.4,542.1 L537.0,542.4 L539.7,542.6 L542.3,542.9 L544.9,543.2 L547.5,543.4 L550.2,543.6 L552.8,543.9 L555.4,544.1 L558.1,544.3 L560.7,544.5 L563.3,544.7 L565.9,544.8 L568.6,545.0 L571.2,545.2 L573.8,545.3 L576.5,545.5 L579.1,545.6 L581.7,545.7 L584.4,545.8 L587.0,546.0 L589.6,546.1 L592.2,546.2 L594.9,546.3 L597.5,546.4" stroke="#43f2ca" stroke-width="1.2"/>
<path d="M328.1,278.3 L328.2,278.3 L328.4,278.4 L328.5,278.5 L328.6,278.6 L328.8,278.8 L328.9,278.9 L329.1,279.1 L329.2,279.2 L329.3,279.4 L329.5,279.6 L329.6,279.8 L329.7,280.0 L329.9,280.2 L330.0,280.4 L330.2,280.7 L330.3,280.9 L330.4,281.2 L330.6,281.4 L330.7,281.7 L330.8,282.0 L331.0,282.2 L331.1,282.5 L331.3,282.8 L331.4,283.1 L332.5,285.6 L333.0,287.0 L333.5,288.4 L334.6,291.5 L335.6,294.8 L336.7,298.4 L337.7,302.3 L337.9,302.8 L338.8,306.3 L339.8,310.6 L340.9,315.0 L341.9,319.6 L342.8,323.3 L343.0,324.5 L344.1,329.4 L345.1,334.6 L346.2,339.9 L347.2,345.4 L347.6,347.6 L348.3,351.0 L349.3,356.8 L350.4,362.7 L351.4,368.8 L352.5,375.0 L352.5,375.2 L353.5,378.4 L354.6,381.6 L355.7,384.8 L356.7,387.9 L357.4,389.9 L357.8,390.9 L358.8,393.9 L359.9,396.9 L360.9,399.7 L362.0,402.6 L362.3,403.4 L363.0,405.3 L364.1,408.1 L365.1,410.7 L366.2,413.3 L367.2,415.8 L367.3,415.9 L368.3,418.4 L369.4,420.9 L370.4,423.3 L371.5,425.7 L372.1,427.0 L372.5,428.0 L373.6,430.3 L374.6,432.6 L375.7,434.8 L376.8,436.9 L377.8,439.0 L378.9,441.1 L379.9,443.1 L381.0,445.1 L382.0,447.1 L383.1,449.0 L384.2,451.1 L385.4,453.1 L386.5,455.0 L387.6,456.9 L388.8,458.8 L389.9,460.6 L391.0,462.4 L392.2,464.2 L393.3,465.9 L394.5,467.6 L395.6,469.3 L396.7,470.9 L397.9,472.5 L399.0,474.0 L400.1,475.5 L401.3,477.0 L402.4,478.5 L403.6,479.9 L404.7,481.3 L405.8,482.7 L407.0,484.1 L408.1,485.4 L409.2,486.7 L410.4,487.9 L411.5,489.2 L412.7,490.4 L413.8,491.6 L414.9,492.7 L416.1,493.9 L418.7,496.4 L421.3,498.8 L424.0,501.2 L426.6,503.4 L429.2,505.5 L431.8,507.5 L434.5,509.4 L437.1,511.2 L439.7,512.9 L442.4,514.6 L445.0,516.2 L447.6,517.7 L450.3,519.1 L452.9,520.5 L455.5,521.8 L458.1,523.0 L460.8,524.2 L463.4,525.3 L466.0,526.4 L468.7,527.4 L471.3,528.4 L473.9,529.4 L476.5,530.2 L479.2,531.1 L481.8,531.9 L484.4,532.7 L487.1,533.4 L489.7,534.1 L492.3,534.8 L495.0,535.4 L497.6,536.0 L500.2,536.6 L502.8,537.1 L505.5,537.7 L508.1,538.2 L510.7,538.7 L513.4,539.1 L516.0,539.5 L518.6,540.0 L521.2,540.3 L523.9,540.7 L526.5,541.1 L529.1,541.4 L531.8,541.8 L534.4,542.1 L537.0,542.4 L539.7,542.6 L542.3,542.9 L544.9,543.2 L547.5,543.4 L550.2,543.6 L552.8,543.9 L555.4,544.1 L558.1,544.3 L560.7,544.5 L563.3,544.7 L565.9,544.8 L568.6,545.0 L571.2,545.2 L573.8,545.3 L576.5,545.5 L579.1,545.6 L581.7,545.7 L584.4,545.8 L587.0,546.0 L589.6,546.1 L592.2,546.2 L594.9,546.3 L597.5,546.4" stroke="#8bf588" stroke-width="1.2"/>
<path d="M328.1,278.3 L328.2,278.3 L328.4,278.4 L328.5,278.5 L328.6,278.6 L328.8,278.7 L328.9,278.8 L329.1,279.0 L329.2,279.1 L329.3,279.3 L329.5,279.4 L329.6,279.6 L329.7,279.8 L329.9,280.0 L330.0,280.2 L330.2,280.4 L330.3,280.6 L330.4,280.8 L330.6,281.0 L330.7,281.3 L330.8,281.5 L331.0,281.7 L331.1,282.0 L331.3,282.3 L331.4,282.5 L332.5,284.7 L333.0,285.9 L333.5,287.1 L334.6,289.9 L335.6,292.8 L336.7,295.9 L337.7,299.3 L337.9,299.8 L338.8,302.8 L339.8,306.6 L340.9,310.5 L341.9,314.5 L342.8,317.8 L343.0,318.7 L344.1,323.1 L345.1,327.6 L346.2,332.3 L347.2,337.1 L347.6,339.1 L348.3,342.0 L349.3,347.1 L350.4,352.3 L351.4,357.6 L352.5,363.0 L352.5,363.2 L353.5,368.6 L354.6,374.2 L355.7,380.0 L356.7,385.9 L357.4,389.9 L357.8,390.9 L358.8,393.9 L359.9,396.9 L360.9,399.7 L362.0,402.6 L362.3,403.4 L363.0,405.3 L364.1,408.1 L365.1,410.7 L366.2,413.3 L367.2,415.8 L367.3,415.9 L368.3,418.4 L369.4,420.9 L370.4,423.3 L371.5,425.7 L372.1,427.0 L372.5,428.0 L373.6,430.3 L374.6,432.6 L375.7,434.8 L376.8,436.9 L377.8,439.0 L378.9,441.1 L379.9,443.1 L381.0,445.1 L382.0,447.1 L383.1,449.0 L384.2,451.1 L385.4,453.1 L386.5,455.0 L387.6,456.9 L388.8,458.8 L389.9,460.6 L391.0,462.4 L392.2,464.2 L393.3,465.9 L394.5,467.6 L395.6,469.3 L396.7,470.9 L397.9,472.5 L399.0,474.0 L400.1,475.5 L401.3,477.0 L402.4,478.5 L403.6,479.9 L404.7,481.3 L405.8,482.7 L407.0,484.1 L408.1,485.4 L409.2,486.7 L410.4,487.9 L411.5,489.2 L412.7,490.4 L413.8,491.6 L414.9,492.7 L416.1,493.9 L418.7,496.4 L421.3,498.8 L424.0,501.2 L426.6,503.4 L429.2,505.5 L431.8,507.5 L434.5,509.4 L437.1,511.2 L439.7,512.9 L442.4,514.6 L445.0,516.2 L447.6,517.7 L450.3,519.1 L452.9,520.5 L455.5,521.8 L458.1,523.0 L460.8,524.2 L463.4,525.3 L466.0,526.4 L468.7,527.4 L471.3,528.4 L473.9,529.4 L476.5,530.2 L479.2,531.1 L481.8,531.9 L484.4,532.7 L487.1,533.4 L489.7,534.1 L492.3,534.8 L495.0,535.4 L497.6,536.0 L500.2,536.6 L502.8,537.1 L505.5,537.7 L508.1,538.2 L510.7,538.7 L513.4,539.1 L516.0,539.5 L518.6,540.0 L521.2,540.3 L523.9,540.7 L526.5,541.1 L529.1,541.4 L531.8,541.8 L534.4,542.1 L537.0,542.4 L539.7,542.6 L542.3,542.9 L544.9,543.2 L547.5,543.4 L550.2,543.6 L552.8,543.9 L555.4,544.1 L558.1,544.3 L560.7,544.5 L563.3,544.7 L565.9,544.8 L568.6,545.0 L571.2,545.2 L573.8,545.3 L576.5,545.5 L579.1,545.6 L581.7,545.7 L584.4,545.8 L587.0,546.0 L589.6,546.1 L592.2,546.2 L594.9,546.3 L597.5,546.4" stroke="#cff849" stroke-width="1.2"/>
<path d="M328.1,278.3 L328.2,278.3 L328.4,278.4 L328.5,278.5 L328.6,278.6 L328.8,278.7 L328.9,278.8 L329.1,278.9 L329.2,279.0 L329.3,279.2 L329.5,279.3 L329.6,279.5 L329.7,279.6 L329.9,279.8 L330.0,280.0 L330.2,280.2 L330.3,280.3 L330.4,280.5 L330.6,280.7 L330.7,280.9 L330.8,281.2 L331.0,281.4 L331.1,281.6 L331.3,281.8 L331.4,282.0 L332.5,284.0 L333.0,285.1 L333.5,286.2 L334.6,288.6 L335.6,291.2 L336.7,294.0 L337.7,297.0 L337.9,297.4 L338.8,300.1 L339.8,303.4 L340.9,306.9 L341.9,310.5 L342.8,313.4 L343.0,314.3 L344.1,318.2 L345.1,322.2 L346.2,326.3 L347.2,330.6 L347.6,332.3 L348.3,335.0 L349.3,339.5 L350.4,344.1 L351.4,348.8 L352.5,353.6 L352.5,353.8 L353.5,358.6 L354.6,363.6 L355.7,368.8 L356.7,374.0 L357.4,377.6 L357.8,379.3 L358.8,384.8 L359.9,390.3 L360.9,395.9 L362.0,401.6 L362.3,403.4 L363.0,405.3 L364.1,408.1 L365.1,410.7 L366.2,413.3 L367.2,415.8 L367.3,415.9 L368.3,418.4 L369.4,420.9 L370.4,423.3 L371.5,425.7 L372.1,427.0 L372.5,428.0 L373.6,430.3 L374.6,432.6 L375.7,434.8 L376.8,436.9 L377.8,439.0 L378.9,441.1 L379.9,443.1 L381.0,445.1 L382.0,447.1 L383.1,449.0 L384.2,451.1 L385.4,453.1 L386.5,455.0 L387.6,456.9 L388.8,458.8 L389.9,460.6 L391.0,462.4 L392.2,464.2 L393.3,465.9 L394.5,467.6 L395.6,469.3 L396.7,470.9 L397.9,472.5 L399.0,474.0 L400.1,475.5 L401.3,477.0 L402.4,478.5 L403.6,479.9 L404.7,481.3 L405.8,482.7 L407.0,484.1 L408.1,485.4 L409.2,486.7 L410.4,487.9 L411.5,489.2 L412.7,490.4 L413.8,491.6 L414.9,492.7 L416.1,493.9 L418.7,496.4 L421.3,498.8 L424.0,501.2 L426.6,503.4 L429.2,505.5 L431.8,507.5 L434.5,509.4 L437.1,511.2 L439.7,512.9 L442.4,514.6 L445.0,516.2 L447.6,517.7 L450.3,519.1 L452.9,520.5 L455.5,521.8 L458.1,523.0 L460.8,524.2 L463.4,525.3 L466.0,526.4 L468.7,527.4 L471.3,528.4 L473.9,529.4 L476.5,530.2 L479.2,531.1 L481.8,531.9 L484.4,532.7 L487.1,533.4 L489.7,534.1 L492.3,534.8 L495.0,535.4 L497.6,536.0 L500.2,536.6 L502.8,537.1 L505.5,537.7 L508.1,538.2 L510.7,538.7 L513.4,539.1 L516.0,539.5 L518.6,540.0 L521.2,540.3 L523.9,540.7 L526.5,541.1 L529.1,541.4 L531.8,541.8 L534.4,542.1 L537.0,542.4 L539.7,542.6 L542.3,542.9 L544.9,543.2 L547.5,543.4 L550.2,543.6 L552.8,543.9 L555.4,544.1 L558.1,544.3 L560.7,544.5 L563.3,544.7 L565.9,544.8 L568.6,545.0 L571.2,545.2 L573.8,545.3 L576.5,545.5 L579.1,545.6 L581.7,545.7 L584.4,545.8 L587.0,546.0 L589.6,546.1 L592.2,546.2 L594.9,546.3 L597.5,546.4" stroke="#f4c422" stroke-width="1.2"/>
<path d="M328.1,278.3 L328.2,278.3 L328.4,278.4 L328.5,278.4 L328.6,278.5 L328.8,278.6 L328.9,278.7 L329.1,278.8 L329.2,278.9 L329.3,279.1 L329.5,279.2 L329.6,279.3 L329.7,279.5 L329.9,279.6 L330.0,279.8 L330.2,280.0 L330.3,280.1 L330.4,280.3 L330.6,280.5 L330.7,280.7 L330.8,280.9 L331.0,281.1 L331.1,281.3 L331.3,281.5 L331.4,281.7 L332.5,283.4 L333.0,284.4 L333.5,285.4 L334.6,287.5 L335.6,289.9 L336.7,292.4 L337.7,295.1 L337.9,295.5 L338.8,297.9 L339.8,300.9 L340.9,304.0 L341.9,307.3 L342.8,309.9 L343.0,310.6 L344.1,314.1 L345.1,317.7 L346.2,321.5 L347.2,325.3 L347.6,326.9 L348.3,329.2 L349.3,333.3 L350.4,337.4 L351.4,341.7 L352.5,346.0 L352.5,346.2 L353.5,350.5 L354.6,355.0 L355.7,359.6 L356.7,364.4 L357.4,367.6 L357.8,369.2 L358.8,374.0 L359.9,379.0 L360.9,384.1 L362.0,389.2 L362.3,390.8 L363.0,394.4 L364.1,399.7 L365.1,405.1 L366.2,410.6 L367.2,415.8 L367.3,415.9 L368.3,418.4 L369.4,420.9 L370.4,423.3 L371.5,425.7 L372.1,427.0 L372.5,428.0 L373.6,430.3 L374.6,432.6 L375.7,434.8 L376.8,436.9 L377.8,439.0 L378.9,441.1 L379.9,443.1 L381.0,445.1 L382.0,447.1 L383.1,449.0 L384.2,451.1 L385.4,453.1 L386.5,455.0 L387.6,456.9 L388.8,458.8 L389.9,460.6 L391.0,462.4 L392.2,464.2 L393.3,465.9 L394.5,467.6 L395.6,469.3 L396.7,470.9 L397.9,472.5 L399.0,474.0 L400.1,475.5 L401.3,477.0 L402.4,478.5 L403.6,479.9 L404.7,481.3 L405.8,482.7 L407.0,484.1 L408.1,485.4 L409.2,486.7 L410.4,487.9 L411.5,489.2 L412.7,490.4 L413.8,491.6 L414.9,492.7 L416.1,493.9 L418.7,496.4 L421.3,498.8 L424.0,501.2 L426.6,503.4 L429.2,505.5 L431.8,507.5 L434.5,509.4 L437.1,511.2 L439.7,512.9 L442.4,514.6 L445.0,516.2 L447.6,517.7 L450.3,519.1 L452.9,520.5 L455.5,521.8 L458.1,523.0 L460.8,524.2 L463.4,525.3 L466.0,526.4 L468.7,527.4 L471.3,528.4 L473.9,529.4 L476.5,530.2 L479.2,531.1 L481.8,531.9 L484.4,532.7 L487.1,533.4 L489.7,534.1 L492.3,534.8 L495.0,535.4 L497.6,536.0 L500.2,536.6 L502.8,537.1 L505.5,537.7 L508.1,538.2 L510.7,538.7 L513.4,539.1 L516.0,539.5 L518.6,540.0 L521.2,540.3 L523.9,540.7 L526.5,541.1 L529.1,541.4 L531.8,541.8 L534.4,542.1 L537.0,542.4 L539.7,542.6 L542.3,542.9 L544.9,543.2 L547.5,543.4 L550.2,543.6 L552.8,543.9 L555.4,544.1 L558.1,544.3 L560.7,544.5 L563.3,544.7 L565.9,544.8 L568.6,545.0 L571.2,545.2 L573.8,545.3 L576.5,545.5 L579.1,545.6 L581.7,545.7 L584.4,545.8 L587.0,546.0 L589.6,546.1 L592.2,546.2 L594.9,546.3 L597.5,546.4" stroke="#ea6e19" stroke-width="1.2"/>
<path d="M328.1,278.3 L328.2,278.3 L328.4,278.4 L328.5,278.4 L328.6,278.5 L328.8,278.6 L328.9,278.7 L329.1,278.8 L329.2,278.9 L329.3,279.0 L329.5,279.1 L329.6,279.2 L329.7,279.4 L329.9,279.5 L330.0,279.7 L330.2,279.8 L330.3,280.0 L330.4,280.1 L330.6,280.3 L330.7,280.5 L330.8,280.6 L331.0,280.8 L331.1,281.0 L331.3,281.2 L331.4,281.4 L332.5,282.9 L333.0,283.8 L333.5,284.7 L334.6,286.7 L335.6,288.8 L336.7,291.1 L337.7,293.5 L337.9,293.9 L338.8,296.1 L339.8,298.8 L340.9,301.6 L341.9,304.6 L342.8,306.9 L343.0,307.6 L344.1,310.8 L345.1,314.1 L346.2,317.4 L347.2,320.9 L347.6,322.4 L348.3,324.5 L349.3,328.2 L350.4,331.9 L351.4,335.8 L352.5,339.7 L352.5,339.9 L353.5,343.8 L354.6,347.9 L355.7,352.1 L356.7,356.3 L357.4,359.3 L357.8,360.7 L358.8,365.1 L359.9,369.6 L360.9,374.2 L362.0,378.9 L362.3,380.3 L363.0,383.6 L364.1,388.4 L365.1,393.3 L366.2,398.2 L367.2,402.9 L367.3,403.2 L368.3,408.3 L369.4,413.5 L370.4,418.7 L371.5,424.0 L372.1,427.0 L372.5,428.0 L373.6,430.3 L374.6,432.6 L375.7,434.8 L376.8,436.9 L377.8,439.0 L378.9,441.1 L379.9,443.1 L381.0,445.1 L382.0,447.1 L383.1,449.0 L384.2,451.1 L385.4,453.1 L386.5,455.0 L387.6,456.9 L388.8,458.8 L389.9,460.6 L391.0,462.4 L392.2,464.2 L393.3,465.9 L394.5,467.6 L395.6,469.3 L396.7,470.9 L397.9,472.5 L399.0,474.0 L400.1,475.5 L401.3,477.0 L402.4,478.5 L403.6,479.9 L404.7,481.3 L405.8,482.7 L407.0,484.1 L408.1,485.4 L409.2,486.7 L410.4,487.9 L411.5,489.2 L412.7,490.4 L413.8,491.6 L414.9,492.7 L416.1,493.9 L418.7,496.4 L421.3,498.8 L424.0,501.2 L426.6,503.4 L429.2,505.5 L431.8,507.5 L434.5,509.4 L437.1,511.2 L439.7,512.9 L442.4,514.6 L445.0,516.2 L447.6,517.7 L450.3,519.1 L452.9,520.5 L455.5,521.8 L458.1,523.0 L460.8,524.2 L463.4,525.3 L466.0,526.4 L468.7,527.4 L471.3,528.4 L473.9,529.4 L476.5,530.2 L479.2,531.1 L481.8,531.9 L484.4,532.7 L487.1,533.4 L489.7,534.1 L492.3,534.8 L495.0,535.4 L497.6,536.0 L500.2,536.6 L502.8,537.1 L505.5,537.7 L508.1,538.2 L510.7,538.7 L513.4,539.1 L516.0,539.5 L518.6,540.0 L521.2,540.3 L523.9,540.7 L526.5,541.1 L529.1,541.4 L531.8,541.8 L534.4,542.1 L537.0,542.4 L539.7,542.6 L542.3,542.9 L544.9,543.2 L547.5,543.4 L550.2,543.6 L552.8,543.9 L555.4,544.1 L558.1,544.3 L560.7,544.5 L563.3,544.7 L565.9,544.8 L568.6,545.0 L571.2,545.2 L573.8,545.3 L576.5,545.5 L579.1,545.6 L581.7,545.7 L584.4,545.8 L587.0,546.0 L589.6,546.1 L592.2,546.2 L594.9,546.3 L597.5,546.4" stroke="#d4140e" stroke-width="1.2"/>
<path d="M328.1,278.3 L328.2,279.0 L328.4,279.6 L328.5,280.3 L328.6,281.0 L328.8,281.7 L328.9,282.3 L329.1,283.0 L329.2,283.6 L329.3,284.3 L329.5,285.0 L329.6,285.6 L329.7,286.3 L329.9,286.9 L330.0,287.6 L330.2,288.2 L330.3,288.9 L330.4,289.5 L330.6,290.2 L330.7,290.8 L330.8,291.5 L331.0,292.1 L331.1,292.8 L331.3,293.4 L331.4,294.0 L332.5,298.9 L333.0,301.3 L333.5,303.6 L334.6,308.3 L335.6,312.8 L336.7,317.3 L337.7,321.7 L337.9,322.3 L338.8,326.0 L339.8,330.2 L340.9,334.4 L341.9,338.4 L342.8,341.5 L343.0,342.4 L344.1,346.3 L345.1,350.2 L346.2,353.9 L347.2,357.6 L347.6,359.1 L348.3,361.3 L349.3,364.8 L350.4,368.3 L351.4,371.7 L352.5,375.1 L352.5,375.2 L353.5,378.4 L354.6,381.6 L355.7,384.8 L356.7,387.9 L357.4,389.9 L357.8,390.9 L358.8,393.9 L359.9,396.9 L360.9,399.7 L362.0,402.6 L362.3,403.4 L363.0,405.3 L364.1,408.1 L365.1,410.7 L366.2,413.3 L367.2,415.8 L367.3,415.9 L368.3,418.4 L369.4,420.9 L370.4,423.3 L371.5,425.7 L372.1,427.0 L372.5,428.0 L373.6,430.3 L374.6,432.6 L375.7,434.8 L376.8,436.9 L377.8,439.0 L378.9,441.1 L379.9,443.1 L381.0,445.1 L382.0,447.1 L383.1,449.0 L384.2,451.1 L385.4,453.1 L386.5,455.0 L387.6,456.9 L388.8,458.8 L389.9,460.6 L391.0,462.4 L392.2,464.2 L393.3,465.9 L394.5,467.6 L395.6,469.3 L396.7,470.9 L397.9,472.5 L399.0,474.0 L400.1,475.5 L401.3,477.0 L402.4,478.5 L403.6,479.9 L404.7,481.3 L405.8,482.7 L407.0,484.1 L408.1,485.4 L409.2,486.7 L410.4,487.9 L411.5,489.2 L412.7,490.4 L413.8,491.6 L414.9,492.7 L416.1,493.9 L418.7,496.4 L421.3,498.8 L424.0,501.2 L426.6,503.4 L429.2,505.5 L431.8,507.5 L434.5,509.4 L437.1,511.2 L439.7,512.9 L442.4,514.6 L445.0,516.2 L447.6,517.7 L450.3,519.1 L452.9,520.5 L455.5,521.8 L458.1,523.0 L460.8,524.2 L463.4,525.3 L466.0,526.4 L468.7,527.4 L471.3,528.4 L473.9,529.4 L476.5,530.2 L479.2,531.1 L481.8,531.9 L484.4,532.7 L487.1,533.4 L489.7,534.1 L492.3,534.8 L495.0,535.4 L497.6,536.0 L500.2,536.6 L502.8,537.1 L505.5,537.7 L508.1,538.2 L510.7,538.7 L513.4,539.1 L516.0,539.5 L518.6,540.0 L521.2,540.3 L523.9,540.7 L526.5,541.1 L529.1,541.4 L531.8,541.8 L534.4,542.1 L537.0,542.4 L539.7,542.6 L542.3,542.9 L544.9,543.2 L547.5,543.4 L550.2,543.6 L552.8,543.9 L555.4,544.1 L558.1,544.3 L560.7,544.5 L563.3,544.7 L565.9,544.8 L568.6,545.0 L571.2,545.2 L573.8,545.3 L576.5,545.5 L579.1,545.6 L581.7,545.7 L584.4,545.8 L587.0,546.0 L589.6,546.1 L592.2,546.2 L594.9,546.3 L597.5,546.4" stroke="#000" stroke-width="3" stroke-dasharray="7.2,5.56"/>
</g>
<g stroke="#000" fill="none">
<rect x="58.50" y="8.80" width="269.60" height="269.50" stroke-width="1.2"/>
<path d="M58.50 278.30v-4.2M58.50 8.80v4.2" stroke-width="0.7"/>
<path d="M113.52 278.30v-4.2M113.52 8.80v4.2" stroke-width="0.7"/>
<path d="M168.54 278.30v-4.2M168.54 8.80v4.2" stroke-width="0.7"/>
<path d="M223.56 278.30v-4.2M223.56 8.80v4.2" stroke-width="0.7"/>
<path d="M278.58 278.30v-4.2M278.58 8.80v4.2" stroke-width="0.7"/>
<path d="M58.50 224.88h4.2M328.10 224.88h-4.2" stroke-width="0.7"/>
<path d="M58.50 170.86h4.2M328.10 170.86h-4.2" stroke-width="0.7"/>
<path d="M58.50 116.84h4.2M328.10 116.84h-4.2" stroke-width="0.7"/>
<path d="M58.50 62.82h4.2M328.10 62.82h-4.2" stroke-width="0.7"/>
<path d="M58.50 8.80h4.2M328.10 8.80h-4.2" stroke-width="0.7"/>
<rect x="328.10" y="8.80" width="269.40" height="269.50" stroke-width="1.2"/>
<path d="M328.10 278.30v-4.2M328.10 8.80v4.2" stroke-width="0.7"/>
<path d="M383.08 278.30v-4.2M383.08 8.80v4.2" stroke-width="0.7"/>
<path d="M438.06 278.30v-4.2M438.06 8.80v4.2" stroke-width="0.7"/>
<path d="M493.04 278.30v-4.2M493.04 8.80v4.2" stroke-width="0.7"/>
<path d="M548.02 278.30v-4.2M548.02 8.80v4.2" stroke-width="0.7"/>
<path d="M328.10 224.88h4.2M597.50 224.88h-4.2" stroke-width="0.7"/>
<path d="M328.10 170.86h4.2M597.50 170.86h-4.2" stroke-width="0.7"/>
<path d="M328.10 116.84h4.2M597.50 116.84h-4.2" stroke-width="0.7"/>
<path d="M328.10 62.82h4.2M597.50 62.82h-4.2" stroke-width="0.7"/>
<path d="M328.10 8.80h4.2M597.50 8.80h-4.2" stroke-width="0.7"/>
<rect x="58.50" y="278.30" width="269.60" height="269.50" stroke-width="1.2"/>
<path d="M58.50 547.80v-4.2M58.50 278.30v4.2" stroke-width="0.7"/>
<path d="M113.52 547.80v-4.2M113.52 278.30v4.2" stroke-width="0.7"/>
<path d="M168.54 547.80v-4.2M168.54 278.30v4.2" stroke-width="0.7"/>
<path d="M223.56 547.80v-4.2M223.56 278.30v4.2" stroke-width="0.7"/>
<path d="M278.58 547.80v-4.2M278.58 278.30v4.2" stroke-width="0.7"/>
<path d="M58.50 494.38h4.2M328.10 494.38h-4.2" stroke-width="0.7"/>
<path d="M58.50 440.36h4.2M328.10 440.36h-4.2" stroke-width="0.7"/>
<path d="M58.50 386.34h4.2M328.10 386.34h-4.2" stroke-width="0.7"/>
<path d="M58.50 332.32h4.2M328.10 332.32h-4.2" stroke-width="0.7"/>
<path d="M58.50 278.30h4.2M328.10 278.30h-4.2" stroke-width="0.7"/>
<rect x="328.10" y="278.30" width="269.40" height="269.50" stroke-width="1.2"/>
<path d="M328.10 547.80v-4.2M328.10 278.30v4.2" stroke-width="0.7"/>
<path d="M383.08 547.80v-4.2M383.08 278.30v4.2" stroke-width="0.7"/>
<path d="M438.06 547.80v-4.2M438.06 278.30v4.2" stroke-width="0.7"/>
<path d="M493.04 547.80v-4.2M493.04 278.30v4.2" stroke-width="0.7"/>
<path d="M548.02 547.80v-4.2M548.02 278.30v4.2" stroke-width="0.7"/>
<path d="M328.10 494.38h4.2M597.50 494.38h-4.2" stroke-width="0.7"/>
<path d="M328.10 440.36h4.2M597.50 440.36h-4.2" stroke-width="0.7"/>
<path d="M328.10 386.34h4.2M597.50 386.34h-4.2" stroke-width="0.7"/>
<path d="M328.10 332.32h4.2M597.50 332.32h-4.2" stroke-width="0.7"/>
<path d="M328.10 278.30h4.2M597.50 278.30h-4.2" stroke-width="0.7"/>
</g>
<text transform="translate(51.00,231.38) scale(1.1700,1)" font-family="Liberation Sans, sans-serif" font-size="18.20" text-anchor="end" fill="#000" stroke="#000" stroke-width="0.35">0.2</text>
<text transform="translate(51.00,177.36) scale(1.1700,1)" font-family="Liberation Sans, sans-serif" font-size="18.20" text-anchor="end" fill="#000" stroke="#000" stroke-width="0.35">0.4</text>
<text transform="translate(51.00,123.34) scale(1.1700,1)" font-family="Liberation Sans, sans-serif" font-size="18.20" text-anchor="end" fill="#000" stroke="#000" stroke-width="0.35">0.6</text>
<text transform="translate(51.00,69.32) scale(1.1700,1)" font-family="Liberation Sans, sans-serif" font-size="18.20" text-anchor="end" fill="#000" stroke="#000" stroke-width="0.35">0.8</text>
<text transform="translate(51.00,15.30) scale(1.1700,1)" font-family="Liberation Sans, sans-serif" font-size="18.20" text-anchor="end" fill="#000" stroke="#000" stroke-width="0.35">1.0</text>
<text transform="translate(51.00,500.88) scale(1.1700,1)" font-family="Liberation Sans, sans-serif" font-size="18.20" text-anchor="end" fill="#000" stroke="#000" stroke-width="0.35">0.2</text>
<text transform="translate(51.00,446.86) scale(1.1700,1)" font-family="Liberation Sans, sans-serif" font-size="18.20" text-anchor="end" fill="#000" stroke="#000" stroke-width="0.35">0.4</text>
<text transform="translate(51.00,392.84) scale(1.1700,1)" font-family="Liberation Sans, sans-serif" font-size="18.20" text-anchor="end" fill="#000" stroke="#000" stroke-width="0.35">0.6</text>
<text transform="translate(51.00,338.82) scale(1.1700,1)" font-family="Liberation Sans, sans-serif" font-size="18.20" text-anchor="end" fill="#000" stroke="#000" stroke-width="0.35">0.8</text>
<text transform="translate(51.00,284.80) scale(1.1700,1)" font-family="Liberation Sans, sans-serif" font-size="18.20" text-anchor="end" fill="#000" stroke="#000" stroke-width="0.35">1.0</text>
<text transform="translate(59.40,567.50) scale(1.0600,1)" font-family="Liberation Sans, sans-serif" font-size="18.20" text-anchor="middle" fill="#000" stroke="#000" stroke-width="0.35">0</text>
<text transform="translate(114.42,567.50) scale(1.0600,1)" font-family="Liberation Sans, sans-serif" font-size="18.20" text-anchor="middle" fill="#000" stroke="#000" stroke-width="0.35">1</text>
<text transform="translate(169.44,567.50) scale(1.0600,1)" font-family="Liberation Sans, sans-serif" font-size="18.20" text-anchor="middle" fill="#000" stroke="#000" stroke-width="0.35">2</text>
<text transform="translate(224.46,567.50) scale(1.0600,1)" font-family="Liberation Sans, sans-serif" font-size="18.20" text-anchor="middle" fill="#000" stroke="#000" stroke-width="0.35">3</text>
<text transform="translate(279.48,567.50) scale(1.0600,1)" font-family="Liberation Sans, sans-serif" font-size="18.20" text-anchor="middle" fill="#000" stroke="#000" stroke-width="0.35">4</text>
<text transform="translate(329.00,567.50) scale(1.0600,1)" font-family="Liberation Sans, sans-serif" font-size="18.20" text-anchor="middle" fill="#000" stroke="#000" stroke-width="0.35">0</text>
<text transform="translate(383.98,567.50) scale(1.0600,1)" font-family="Liberation Sans, sans-serif" font-size="18.20" text-anchor="middle" fill="#000" stroke="#000" stroke-width="0.35">1</text>
<text transform="translate(438.96,567.50) scale(1.0600,1)" font-family="Liberation Sans, sans-serif" font-size="18.20" text-anchor="middle" fill="#000" stroke="#000" stroke-width="0.35">2</text>
<text transform="translate(493.94,567.50) scale(1.0600,1)" font-family="Liberation Sans, sans-serif" font-size="18.20" text-anchor="middle" fill="#000" stroke="#000" stroke-width="0.35">3</text>
<text transform="translate(548.92,567.50) scale(1.0600,1)" font-family="Liberation Sans, sans-serif" font-size="18.20" text-anchor="middle" fill="#000" stroke="#000" stroke-width="0.35">4</text>
<text transform="translate(13.60,143.35) rotate(-90) scale(1.0800,1)" font-family="Liberation Serif, serif" font-size="19.00" text-anchor="middle" fill="#000">covariance</text>
<text transform="translate(13.60,412.85) rotate(-90) scale(1.0800,1)" font-family="Liberation Serif, serif" font-size="19.00" text-anchor="middle" fill="#000">covariance</text>
<path transform="translate(174.00,587.20)" fill-rule="evenodd" fill="#000" d="M0,0L7.1,-12.9L8.0,-12.9L15,0Z M1.9,-1.2L12.0,-1.2L6.6,-10.9Z"/>
<text transform="translate(189.30,587.20) scale(1.1500,1)" font-family="Liberation Serif, serif" font-size="19.50" text-anchor="start" fill="#000" font-style="italic">t</text>
<path d="M196.60 593.60L204.30 572.60" stroke="#000" stroke-width="1.05" fill="none"/>
<g transform="translate(205.10,587.20) scale(1.000)"><path d="M0.1,-6.1C0.8,-7.6 1.7,-8.5 3.1,-8.5L9.4,-8.5L9.4,-7.0L3.3,-7.0C2.1,-7.0 1.3,-6.5 0.7,-5.6Z" fill="#000"/><path d="M5.0,-7.6L3.7,-2.3C3.4,-0.9 3.9,-0.2 4.9,-0.2C5.7,-0.2 6.3,-0.7 6.7,-1.4" fill="none" stroke="#000" stroke-width="1.25" stroke-linecap="round"/></g>
<path transform="translate(443.60,587.20)" fill-rule="evenodd" fill="#000" d="M0,0L7.1,-12.9L8.0,-12.9L15,0Z M1.9,-1.2L12.0,-1.2L6.6,-10.9Z"/>
<text transform="translate(458.90,587.20) scale(1.1500,1)" font-family="Liberation Serif, serif" font-size="19.50" text-anchor="start" fill="#000" font-style="italic">t</text>
<path d="M466.20 593.60L473.90 572.60" stroke="#000" stroke-width="1.05" fill="none"/>
<g transform="translate(474.70,587.20) scale(1.000)"><path d="M0.1,-6.1C0.8,-7.6 1.7,-8.5 3.1,-8.5L9.4,-8.5L9.4,-7.0L3.3,-7.0C2.1,-7.0 1.3,-6.5 0.7,-5.6Z" fill="#000"/><path d="M5.0,-7.6L3.7,-2.3C3.4,-0.9 3.9,-0.2 4.9,-0.2C5.7,-0.2 6.3,-0.7 6.7,-1.4" fill="none" stroke="#000" stroke-width="1.25" stroke-linecap="round"/></g>
<text transform="translate(67.10,267.00) scale(1.0,1)" font-family="Liberation Serif, serif" font-size="18.40" fill="#3a3a3a"><tspan font-size="23" dy="-0.1">(</tspan><tspan dy="0.1" dx="0.2">a</tspan><tspan font-size="23" dy="-0.1" dx="0.2">)</tspan></text>
<text transform="translate(336.70,267.00) scale(1.0,1)" font-family="Liberation Serif, serif" font-size="18.40" fill="#3a3a3a"><tspan font-size="23" dy="-0.1">(</tspan><tspan dy="0.1" dx="0.2">b</tspan><tspan font-size="23" dy="-0.1" dx="0.2">)</tspan></text>
<text transform="translate(67.10,536.50) scale(1.0,1)" font-family="Liberation Serif, serif" font-size="18.40" fill="#3a3a3a"><tspan font-size="23" dy="-0.1">(</tspan><tspan dy="0.1" dx="0.2">c</tspan><tspan font-size="23" dy="-0.1" dx="0.2">)</tspan></text>
<text transform="translate(336.70,536.50) scale(1.0,1)" font-family="Liberation Serif, serif" font-size="18.40" fill="#3a3a3a"><tspan font-size="23" dy="-0.1">(</tspan><tspan dy="0.1" dx="0.2">d</tspan><tspan font-size="23" dy="-0.1" dx="0.2">)</tspan></text>
<path d="M238.90 28.15h7.1M252.10 28.15h6.9" stroke="#000" stroke-width="2.9" fill="none"/>
<text transform="translate(276.10,33.10) scale(1.0500,1)" font-family="Liberation Serif, serif" font-size="15.60" text-anchor="start" fill="#000">DRW</text>
<path d="M238.90 297.65h7.1M252.10 297.65h6.9" stroke="#000" stroke-width="2.9" fill="none"/>
<text transform="translate(276.10,302.60) scale(1.0500,1)" font-family="Liberation Serif, serif" font-size="15.60" text-anchor="start" fill="#000">DRW</text>
<path d="M508.50 28.15h7.1M521.70 28.15h6.9" stroke="#000" stroke-width="2.9" fill="none"/>
<text transform="translate(545.70,33.10) scale(1.0500,1)" font-family="Liberation Serif, serif" font-size="15.60" text-anchor="start" fill="#000">DRW</text>
<path d="M508.50 297.65h7.1M521.70 297.65h6.9" stroke="#000" stroke-width="2.9" fill="none"/>
<text transform="translate(545.70,302.60) scale(1.0500,1)" font-family="Liberation Serif, serif" font-size="15.60" text-anchor="start" fill="#000">DRW</text>
<rect x="217.40" y="107.00" width="61.80" height="12.00" fill="url(#jet)" stroke="#000" stroke-width="0.9"/>
<path d="M248.30 107.00v4.3M248.30 119.00v-4.3" stroke="#000" stroke-width="0.8" fill="none"/>
<text transform="translate(248.00,99.90) scale(1.0800,1)" font-family="Liberation Serif, serif" font-size="19.00" text-anchor="middle" fill="#000">powered exp</text>
<text transform="translate(218.00,135.70) scale(1.1200,1)" font-family="Liberation Serif, serif" font-size="17.50" text-anchor="middle" fill="#000">0</text>
<text transform="translate(279.10,135.70) scale(1.1200,1)" font-family="Liberation Serif, serif" font-size="17.50" text-anchor="middle" fill="#000">2</text>
<path d="M235.10 127.20H262.30" stroke="#000" stroke-width="1.45" fill="none"/>
<path d="M258.10 123.50c1.2,1.9 2.8,3.0 5.0,3.7c-2.2,0.7 -3.8,1.8 -5.0,3.7" stroke="#000" stroke-width="1.15" fill="none" stroke-linecap="round"/>
<rect x="487.00" y="107.00" width="61.80" height="12.00" fill="url(#jet)" stroke="#000" stroke-width="0.9"/>
<path d="M517.90 107.00v4.3M517.90 119.00v-4.3" stroke="#000" stroke-width="0.8" fill="none"/>
<text transform="translate(518.05,103.60) scale(1.1300,1)" font-family="Liberation Serif, serif" font-size="19.00" text-anchor="middle" fill="#000">Mat&#233;rn</text>
<text transform="translate(486.50,135.70) scale(1.1900,1)" font-family="Liberation Serif, serif" font-size="17.50" text-anchor="middle" fill="#000">0.1</text>
<text transform="translate(547.70,135.70) scale(1.1700,1)" font-family="Liberation Serif, serif" font-size="17.50" text-anchor="middle" fill="#000">2.5</text>
<path d="M504.70 127.20H531.90" stroke="#000" stroke-width="1.45" fill="none"/>
<path d="M527.70 123.50c1.2,1.9 2.8,3.0 5.0,3.7c-2.2,0.7 -3.8,1.8 -5.0,3.7" stroke="#000" stroke-width="1.15" fill="none" stroke-linecap="round"/>
<rect x="217.40" y="376.50" width="61.80" height="12.00" fill="url(#jet)" stroke="#000" stroke-width="0.9"/>
<path d="M248.30 376.50v4.3M248.30 388.50v-4.3" stroke="#000" stroke-width="0.8" fill="none"/>
<text transform="translate(247.85,369.70) scale(1.1430,1)" font-family="Liberation Serif, serif" font-size="19.00" text-anchor="middle" fill="#000">Pareto exp</text>
<text transform="translate(216.90,405.20) scale(1.1900,1)" font-family="Liberation Serif, serif" font-size="17.50" text-anchor="middle" fill="#000">1.0</text>
<text transform="translate(278.10,405.20) scale(1.1700,1)" font-family="Liberation Serif, serif" font-size="17.50" text-anchor="middle" fill="#000">5.0</text>
<path d="M235.10 396.70H262.30" stroke="#000" stroke-width="1.45" fill="none"/>
<path d="M258.10 393.00c1.2,1.9 2.8,3.0 5.0,3.7c-2.2,0.7 -3.8,1.8 -5.0,3.7" stroke="#000" stroke-width="1.15" fill="none" stroke-linecap="round"/>
<rect x="487.00" y="376.50" width="61.80" height="12.00" fill="url(#jet)" stroke="#000" stroke-width="0.9"/>
<path d="M517.90 376.50v4.3M517.90 388.50v-4.3" stroke="#000" stroke-width="0.8" fill="none"/>
<text transform="translate(517.40,369.70) scale(1.0900,1)" font-family="Liberation Serif, serif" font-size="19.00" text-anchor="middle" fill="#000">Kepler exp</text>
<text transform="translate(486.50,405.20) scale(1.1900,1)" font-family="Liberation Serif, serif" font-size="17.50" text-anchor="middle" fill="#000">0.0</text>
<text transform="translate(547.70,405.20) scale(1.1700,1)" font-family="Liberation Serif, serif" font-size="17.50" text-anchor="middle" fill="#000">0.8</text>
<path d="M504.70 396.70H531.90" stroke="#000" stroke-width="1.45" fill="none"/>
<path d="M527.70 393.00c1.2,1.9 2.8,3.0 5.0,3.7c-2.2,0.7 -3.8,1.8 -5.0,3.7" stroke="#000" stroke-width="1.15" fill="none" stroke-linecap="round"/>
<path fill="none" stroke="#000" stroke-width="1.3" stroke-linecap="round" stroke-linejoin="round" d="M243.2 146.4C243.9 143.9 246.2 142.6 247.8 144.3C249.3 146 249.9 149.3 250.1 151.6"/>
<path fill="none" stroke="#000" stroke-width="0.95" stroke-linecap="round" stroke-linejoin="round" d="M253.8 143.1C252.6 146.5 250.2 151.8 248.6 155"/>
<path fill="none" stroke="#000" stroke-width="1.25" stroke-linecap="round" stroke-linejoin="round" d="M514.4 143.5L516.4 143.1L514.3 151.0C518.2 150.3 522.2 147.3 523.0 143.0"/>
<path fill="none" stroke="#000" stroke-width="1.1" stroke-linecap="round" stroke-linejoin="round" d="M243.0 429.6L246.1 417.4C247.1 413.8 249.5 412.5 251.5 412.7C254.0 413.1 254.4 416.0 252.5 417.6C251.5 418.4 250.2 418.6 249.0 418.6C251.2 418.8 253.8 419.8 253.6 422.3C253.3 425.3 250.0 426.8 248.0 426.6C246.5 426.4 245.4 425.6 245.0 424.5"/>
<g transform="translate(495.60,426.70) scale(1.000)"><path d="M0.1,-6.1C0.8,-7.6 1.7,-8.5 3.1,-8.5L9.4,-8.5L9.4,-7.0L3.3,-7.0C2.1,-7.0 1.3,-6.5 0.7,-5.6Z" fill="#000"/><path d="M5.0,-7.6L3.7,-2.3C3.4,-0.9 3.9,-0.2 4.9,-0.2C5.7,-0.2 6.3,-0.7 6.7,-1.4" fill="none" stroke="#000" stroke-width="1.25" stroke-linecap="round"/></g>
<text transform="translate(503.90,430.70) scale(1.0800,1)" font-family="Liberation Serif, serif" font-size="13.20" text-anchor="start" fill="#000">cut</text>
<path d="M522.80 431.30L530.60 412.40" stroke="#000" stroke-width="1.05" fill="none"/>
<g transform="translate(532.00,426.70) scale(1.000)"><path d="M0.1,-6.1C0.8,-7.6 1.7,-8.5 3.1,-8.5L9.4,-8.5L9.4,-7.0L3.3,-7.0C2.1,-7.0 1.3,-6.5 0.7,-5.6Z" fill="#000"/><path d="M5.0,-7.6L3.7,-2.3C3.4,-0.9 3.9,-0.2 4.9,-0.2C5.7,-0.2 6.3,-0.7 6.7,-1.4" fill="none" stroke="#000" stroke-width="1.25" stroke-linecap="round"/></g>
</svg>
</body></html>
